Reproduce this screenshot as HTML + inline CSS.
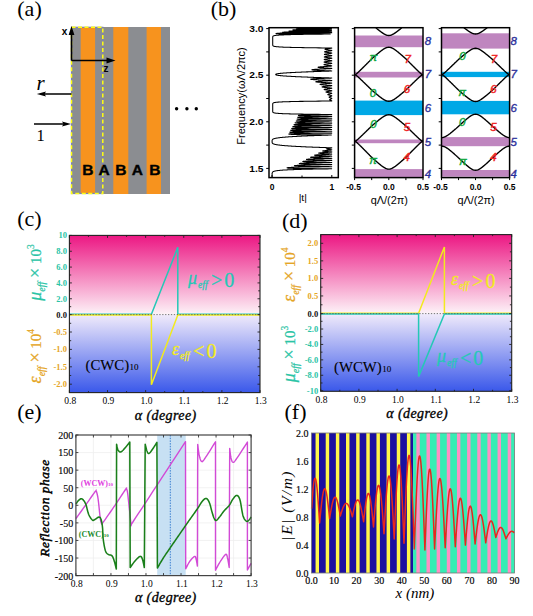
<!DOCTYPE html>
<html><head><meta charset="utf-8"><style>
html,body{margin:0;padding:0;background:#fff;}
svg{display:block;}
</style></head><body>
<svg width="533" height="616" viewBox="0 0 533 616">
<rect width="533" height="616" fill="#fff"/>
<defs>
<linearGradient id="gup" x1="0" y1="0" x2="0" y2="1"><stop offset="0" stop-color="#ec1783"/><stop offset="1" stop-color="#fdf3f8"/></linearGradient>
<linearGradient id="gdn" x1="0" y1="0" x2="0" y2="1"><stop offset="0" stop-color="#f1ebfb"/><stop offset="1" stop-color="#3a58ea"/></linearGradient>
</defs>
<text x="17.3" y="15.8" font-family='"Liberation Serif", serif' font-size="22" fill="#000" font-weight="normal" font-style="normal" text-anchor="start" >(a)</text>
<rect x="71" y="27" width="99" height="167" fill="#8b8d91"/>
<rect x="80.7" y="27" width="14.40" height="167" fill="#f7931e"/>
<rect x="113.3" y="27" width="15.00" height="167" fill="#f7931e"/>
<rect x="146.6" y="27" width="14.40" height="167" fill="#f7931e"/>
<rect x="71.5" y="27.3" width="31.3" height="166.2" fill="none" stroke="#7d80b8" stroke-width="1.2"/>
<rect x="71.5" y="27.3" width="31.3" height="166.2" fill="none" stroke="#ffff10" stroke-width="1.5" stroke-dasharray="4,2.5"/>
<path d="M71.5,60.5 V32 M71.5,60.5 H108" stroke="#000" stroke-width="1.6" fill="none"/>
<path d="M71.5,26 L68.6,35 L74.4,35 Z" fill="#000"/>
<path d="M115.5,60.5 L106.5,57.6 L106.5,63.4 Z" fill="#000"/>
<text x="61.8" y="34.5" font-family='"Liberation Sans", sans-serif' font-size="10" fill="#000" font-weight="bold" font-style="normal" text-anchor="start" >x</text>
<text x="103.5" y="71.5" font-family='"Liberation Sans", sans-serif' font-size="10" fill="#000" font-weight="bold" font-style="normal" text-anchor="start" >z</text>
<path d="M71.5,94 H44" stroke="#000" stroke-width="1.5"/>
<path d="M36.8,94 L46,91.5 L44.5,94 L46,96.5 Z" fill="#000"/>
<path d="M34,124 H64" stroke="#000" stroke-width="1.5"/>
<path d="M71,124 L62,121.5 L63.5,124 L62,126.5 Z" fill="#000"/>
<text x="36.5" y="89.5" font-family='"Liberation Serif", serif' font-size="21" fill="#000" font-weight="normal" font-style="italic" text-anchor="start" >r</text>
<text x="36.5" y="140.6" font-family='"Liberation Serif", serif' font-size="16.5" fill="#000" font-weight="normal" font-style="normal" text-anchor="start" >1</text>
<text x="87.9" y="174.5" font-family='"Liberation Sans", sans-serif' font-size="15.5" fill="#000" font-weight="bold" font-style="normal" text-anchor="middle" stroke="#000" stroke-width="0.4">B</text>
<text x="104.2" y="174.5" font-family='"Liberation Sans", sans-serif' font-size="15.5" fill="#000" font-weight="bold" font-style="normal" text-anchor="middle" stroke="#000" stroke-width="0.4">A</text>
<text x="120.8" y="174.5" font-family='"Liberation Sans", sans-serif' font-size="15.5" fill="#000" font-weight="bold" font-style="normal" text-anchor="middle" stroke="#000" stroke-width="0.4">B</text>
<text x="137.4" y="174.5" font-family='"Liberation Sans", sans-serif' font-size="15.5" fill="#000" font-weight="bold" font-style="normal" text-anchor="middle" stroke="#000" stroke-width="0.4">A</text>
<text x="154.8" y="174.5" font-family='"Liberation Sans", sans-serif' font-size="15.5" fill="#000" font-weight="bold" font-style="normal" text-anchor="middle" stroke="#000" stroke-width="0.4">B</text>
<circle cx="176.6" cy="108.7" r="1.7" fill="#000"/>
<circle cx="186.9" cy="108.7" r="1.7" fill="#000"/>
<circle cx="196.3" cy="108.7" r="1.7" fill="#000"/>
<text x="210.8" y="16.3" font-family='"Liberation Serif", serif' font-size="22" fill="#000" font-weight="normal" font-style="normal" text-anchor="start" >(b)</text>
<text transform="translate(263.5,31.699999999999996) scale(1.2,1)" font-family='"Liberation Sans", sans-serif' font-size="8.5" fill="#000" font-weight="bold" font-style="normal" text-anchor="end" >3.0</text>
<text transform="translate(263.5,78.29999999999998) scale(1.2,1)" font-family='"Liberation Sans", sans-serif' font-size="8.5" fill="#000" font-weight="bold" font-style="normal" text-anchor="end" >2.5</text>
<text transform="translate(263.5,124.89999999999999) scale(1.2,1)" font-family='"Liberation Sans", sans-serif' font-size="8.5" fill="#000" font-weight="bold" font-style="normal" text-anchor="end" >2.0</text>
<text transform="translate(263.5,171.5) scale(1.2,1)" font-family='"Liberation Sans", sans-serif' font-size="8.5" fill="#000" font-weight="bold" font-style="normal" text-anchor="end" >1.5</text>
<text transform="translate(244.5,96) rotate(-90)" font-family='"Liberation Sans", sans-serif' font-size="11" text-anchor="middle">Frequency(ωΛ/2πc)</text>
<polyline points="299.96,27.70 300.79,27.74 301.91,27.77 303.34,27.81 305.15,27.85 307.39,27.89 310.11,27.92 313.38,27.96 317.18,28.00 321.35,28.04 325.63,28.07 329.35,28.11 331.55,28.15 331.42,28.19 328.94,28.22 324.91,28.26 320.30,28.30 315.82,28.34 311.83,28.37 308.42,28.41 305.57,28.45 303.24,28.49 301.34,28.52 299.82,28.56 298.62,28.60 297.70,28.64 297.03,28.67 296.60,28.71 296.38,28.75 296.36,28.79 296.57,28.82 296.99,28.86 297.66,28.90 298.59,28.94 299.84,28.97 301.45,29.01 303.49,29.05 306.06,29.09 309.26,29.12 313.18,29.16 317.83,29.20 322.98,29.24 327.91,29.27 331.23,29.31 331.48,29.35 328.44,29.39 323.38,29.42 317.83,29.46 312.71,29.50 308.36,29.54 304.78,29.57 301.89,29.61 299.56,29.65 297.70,29.69 296.23,29.72 295.07,29.76 294.19,29.80 293.54,29.84 293.11,29.87 292.87,29.91 292.83,29.95 292.98,29.99 293.33,30.02 293.89,30.06 294.70,30.10 295.80,30.14 297.23,30.17 299.09,30.21 301.48,30.25 304.54,30.29 308.45,30.32 313.37,30.36 319.30,30.40 325.63,30.44 330.58,30.47 331.56,30.51 327.78,30.55 321.36,30.59 314.72,30.62 309.00,30.66 304.40,30.70 300.77,30.74 297.92,30.77 295.68,30.81 293.92,30.85 292.54,30.89 291.46,30.92 290.64,30.96 290.03,31.00 289.53,31.04 289.20,31.07 289.03,31.11 289.03,31.15 289.20,31.19 289.54,31.22 290.09,31.26 290.88,31.30 291.94,31.34 293.37,31.37 295.27,31.41 297.81,31.45 301.24,31.49 305.90,31.52 312.25,31.56 320.43,31.60 328.74,31.64 331.64,31.67 325.68,31.71 316.06,31.75 307.59,31.79 301.22,31.82 296.58,31.86 293.15,31.90 290.57,31.94 288.60,31.97 287.08,32.01 285.88,32.05 284.94,32.09 284.20,32.12 283.63,32.16 283.20,32.20 282.89,32.24 282.70,32.27 282.62,32.31 282.65,32.35 282.79,32.39 283.06,32.42 283.48,32.46 284.08,32.50 284.91,32.54 286.06,32.57 287.65,32.61 289.91,32.65 293.25,32.69 298.47,32.72 307.14,32.76 321.29,32.80 331.75,32.84 318.57,32.87 303.54,32.91 294.58,32.95 289.21,32.99 285.75,33.02 283.38,33.06 281.68,33.10 280.41,33.14 279.43,33.17 278.66,33.21 278.05,33.25 277.56,33.29 277.16,33.32 276.84,33.36 276.58,33.40 276.38,33.44 276.22,33.47 276.11,33.51 276.04,33.55 276.01,33.59 276.03,33.62 276.10,33.66 276.24,33.70 276.45,33.73 276.78,33.77 277.28,33.81 278.07,33.85 279.42,33.88 282.09,33.92 289.46,33.96 330.22,34.00 328.20,34.03 324.55,34.07 321.11,34.11 317.87,34.15 314.82,34.18 311.96,34.22 309.27,34.26 306.74,34.30 304.37,34.33 302.14,34.37 300.06,34.41 298.10,34.45 296.27,34.48 294.56,34.52 292.96,34.56 291.47,34.60 290.07,34.63 288.77,34.67 287.56,34.71 286.42,34.75 285.37,34.78 284.39,34.82 283.48,34.86 282.63,34.90 281.84,34.93 281.11,34.97 280.43,35.01 279.80,35.05 279.22,35.08 278.68,35.12 278.18,35.16 277.72,35.20 277.29,35.23 276.90,35.27 276.54,35.31 276.21,35.35 275.90,35.38 275.62,35.42 275.36,35.46 275.12,35.50 274.90,35.53 274.70,35.57 274.51,35.61 274.35,35.65 274.19,35.68 274.05,35.72 273.92,35.76 273.80,35.80 273.70,35.83 273.60,35.87 273.51,35.91 273.43,35.95 273.36,35.98 273.29,36.02 273.23,36.06 273.18,36.10 273.13,36.13 273.08,36.17 273.04,36.21 273.01,36.25 272.97,36.28 272.95,36.32 272.92,36.36 272.90,36.40 272.87,36.43 272.86,36.47 272.84,36.51 272.82,36.55 272.81,36.58 272.80,36.62 272.79,36.66 272.78,36.70 272.77,36.73 272.76,36.77 272.75,36.81 272.75,36.85 272.74,36.88 272.74,36.92 272.73,36.96 272.73,37.00 272.73,37.03 272.72,37.07 272.72,37.11 272.72,37.15 272.72,37.18 272.72,37.22 272.71,37.26 272.71,37.30 272.71,37.33 272.71,37.37 272.71,37.41 272.71,37.45 272.71,37.48 272.71,37.52 272.71,37.56 272.71,37.60 272.71,37.63 272.71,37.67 272.71,37.71 272.71,37.75 272.71,37.78 272.71,37.82 272.71,37.86 272.71,37.90 272.71,37.93 272.71,37.97 272.71,38.01 272.71,38.05 272.71,38.08 272.71,38.12 272.71,38.16 272.71,38.20 272.71,38.23 272.71,38.27 272.71,38.31 272.71,38.35 272.71,38.38 272.71,38.42 272.71,38.46 272.71,38.50 272.71,38.53 272.71,38.57 272.71,38.61 272.71,38.65 272.71,38.68 272.71,38.72 272.71,38.76 272.71,38.80 272.71,38.83 272.71,38.87 272.71,38.91 272.71,38.95 272.71,38.98 272.71,39.02 272.71,39.06 272.71,39.10 272.71,39.13 272.71,39.17 272.71,39.21 272.71,39.25 272.71,39.28 272.71,39.32 272.71,39.36 272.71,39.40 272.71,39.43 272.71,39.47 272.71,39.51 272.71,39.55 272.71,39.58 272.71,39.62 272.71,39.66 272.71,39.69 272.71,39.73 272.71,39.77 272.71,39.81 272.71,39.84 272.71,39.88 272.71,39.92 272.71,39.96 272.71,39.99 272.71,40.03 272.71,40.07 272.71,40.11 272.71,40.14 272.71,40.18 272.71,40.22 272.71,40.26 272.71,40.29 272.71,40.33 272.71,40.37 272.71,40.41 272.71,40.44 272.71,40.48 272.71,40.52 272.71,40.56 272.71,40.59 272.71,40.63 272.71,40.67 272.71,40.71 272.71,40.74 272.71,40.78 272.71,40.82 272.71,40.86 272.71,40.89 272.71,40.93 272.71,40.97 272.71,41.01 272.71,41.04 272.71,41.08 272.71,41.12 272.71,41.16 272.71,41.19 272.71,41.23 272.71,41.27 272.71,41.31 272.71,41.34 272.71,41.38 272.71,41.42 272.71,41.46 272.71,41.49 272.71,41.53 272.71,41.57 272.71,41.61 272.71,41.64 272.71,41.68 272.71,41.72 272.71,41.76 272.71,41.79 272.71,41.83 272.71,41.87 272.71,41.91 272.71,41.94 272.71,41.98 272.71,42.02 272.71,42.06 272.71,42.09 272.71,42.13 272.71,42.17 272.71,42.21 272.71,42.24 272.71,42.28 272.71,42.32 272.71,42.36 272.71,42.39 272.71,42.43 272.71,42.47 272.71,42.51 272.71,42.54 272.71,42.58 272.71,42.62 272.71,42.66 272.71,42.69 272.71,42.73 272.71,42.77 272.71,42.81 272.71,42.84 272.71,42.88 272.71,42.92 272.71,42.96 272.71,42.99 272.71,43.03 272.71,43.07 272.71,43.11 272.71,43.14 272.71,43.18 272.71,43.22 272.71,43.26 272.71,43.29 272.71,43.33 272.71,43.37 272.71,43.41 272.71,43.44 272.71,43.48 272.71,43.52 272.71,43.56 272.71,43.59 272.71,43.63 272.71,43.67 272.71,43.71 272.71,43.74 272.71,43.78 272.71,43.82 272.71,43.86 272.71,43.89 272.71,43.93 272.71,43.97 272.71,44.01 272.71,44.04 272.71,44.08 272.71,44.12 272.71,44.16 272.71,44.19 272.71,44.23 272.71,44.27 272.71,44.31 272.71,44.34 272.71,44.38 272.71,44.42 272.71,44.46 272.71,44.49 272.71,44.53 272.71,44.57 272.71,44.61 272.71,44.64 272.71,44.68 272.71,44.72 272.72,44.76 272.72,44.79 272.72,44.83 272.72,44.87 272.72,44.91 272.73,44.94 272.73,44.98 272.73,45.02 272.74,45.06 272.74,45.09 272.74,45.13 272.75,45.17 272.76,45.21 272.76,45.24 272.77,45.28 272.78,45.32 272.79,45.36 272.80,45.39 272.81,45.43 272.83,45.47 272.84,45.51 272.86,45.54 272.88,45.58 272.90,45.62 272.93,45.66 272.96,45.69 272.99,45.73 273.02,45.77 273.06,45.80 273.10,45.84 273.15,45.88 273.20,45.92 273.25,45.95 273.32,45.99 273.38,46.03 273.46,46.07 273.54,46.10 273.64,46.14 273.74,46.18 273.85,46.22 273.97,46.25 274.10,46.29 274.25,46.33 274.41,46.37 274.58,46.40 274.77,46.44 274.98,46.48 275.20,46.52 275.45,46.55 275.72,46.59 276.01,46.63 276.33,46.67 276.67,46.70 277.04,46.74 277.45,46.78 277.89,46.82 278.36,46.85 278.87,46.89 279.43,46.93 280.03,46.97 280.67,47.00 281.37,47.04 282.12,47.08 282.93,47.12 283.81,47.15 284.74,47.19 285.75,47.23 286.83,47.27 288.00,47.30 289.24,47.34 290.58,47.38 292.01,47.42 293.55,47.45 295.19,47.49 296.94,47.53 298.81,47.57 300.81,47.60 302.95,47.64 305.23,47.68 307.66,47.72 310.24,47.75 313.00,47.79 315.93,47.83 319.05,47.87 322.36,47.90 325.88,47.94 329.61,47.98 331.80,48.02 331.77,48.05 331.71,48.09 331.62,48.13 331.50,48.17 331.36,48.20 331.19,48.24 330.99,48.28 330.77,48.32 330.53,48.35 330.28,48.39 330.00,48.43 329.72,48.47 329.42,48.50 329.12,48.54 328.82,48.58 328.51,48.62 328.20,48.65 327.90,48.69 327.60,48.73 327.31,48.77 327.03,48.80 326.76,48.84 326.51,48.88 326.27,48.92 326.05,48.95 325.85,48.99 325.67,49.03 325.50,49.07 325.36,49.10 325.24,49.14 325.14,49.18 325.07,49.22 325.02,49.25 324.99,49.29 324.99,49.33 325.01,49.37 325.06,49.40 325.13,49.44 325.23,49.48 325.34,49.52 325.49,49.55 325.65,49.59 325.84,49.63 326.04,49.67 326.27,49.70 326.52,49.74 326.78,49.78 327.06,49.82 327.35,49.85 327.65,49.89 327.96,49.93 328.28,49.97 328.61,50.00 328.94,50.04 329.27,50.08 329.60,50.12 329.91,50.15 330.21,50.19 330.49,50.23 330.76,50.27 331.00,50.30 331.21,50.34 331.39,50.38 331.54,50.42 331.66,50.45 331.74,50.49 331.79,50.53 331.80,50.57 331.77,50.60 331.70,50.64 331.60,50.68 331.47,50.72 331.30,50.75 331.10,50.79 330.87,50.83 330.62,50.87 330.34,50.90 330.05,50.94 329.74,50.98 329.41,51.02 329.08,51.05 328.75,51.09 328.41,51.13 328.07,51.17 327.73,51.20 327.41,51.24 327.09,51.28 326.78,51.32 326.48,51.35 326.20,51.39 325.94,51.43 325.70,51.47 325.47,51.50 325.27,51.54 325.09,51.58 324.93,51.62 324.79,51.65 324.68,51.69 324.60,51.73 324.54,51.76 324.50,51.80 324.49,51.84 324.51,51.88 324.55,51.91 324.61,51.95 324.71,51.99 324.82,52.03 324.96,52.06 325.13,52.10 325.32,52.14 325.52,52.18 325.75,52.21 326.00,52.25 326.27,52.29 326.56,52.33 326.86,52.36 327.17,52.40 327.49,52.44 327.82,52.48 328.16,52.51 328.50,52.55 328.84,52.59 329.17,52.63 329.50,52.66 329.82,52.70 330.13,52.74 330.42,52.78 330.69,52.81 330.94,52.85 331.16,52.89 331.35,52.93 331.51,52.96 331.64,53.00 331.73,53.04 331.78,53.08 331.80,53.11 331.78,53.15 331.72,53.19 331.62,53.23 331.49,53.26 331.32,53.30 331.12,53.34 330.90,53.38 330.64,53.41 330.37,53.45 330.07,53.49 329.76,53.53 329.43,53.56 329.10,53.60 328.76,53.64 328.41,53.68 328.07,53.71 327.73,53.75 327.40,53.79 327.07,53.83 326.76,53.86 326.46,53.90 326.17,53.94 325.90,53.98 325.65,54.01 325.42,54.05 325.21,54.09 325.02,54.13 324.86,54.16 324.72,54.20 324.60,54.24 324.51,54.28 324.44,54.31 324.40,54.35 324.39,54.39 324.40,54.43 324.44,54.46 324.50,54.50 324.59,54.54 324.70,54.58 324.84,54.61 325.00,54.65 325.19,54.69 325.39,54.73 325.62,54.76 325.87,54.80 326.14,54.84 326.43,54.88 326.73,54.91 327.04,54.95 327.37,54.99 327.70,55.03 328.04,55.06 328.38,55.10 328.73,55.14 329.07,55.18 329.41,55.21 329.74,55.25 330.05,55.29 330.35,55.33 330.63,55.36 330.88,55.40 331.11,55.44 331.31,55.48 331.48,55.51 331.62,55.55 331.72,55.59 331.78,55.63 331.80,55.66 331.78,55.70 331.73,55.74 331.64,55.78 331.51,55.81 331.35,55.85 331.15,55.89 330.92,55.93 330.67,55.96 330.39,56.00 330.10,56.04 329.78,56.08 329.45,56.11 329.12,56.15 328.77,56.19 328.42,56.23 328.08,56.26 327.73,56.30 327.39,56.34 327.06,56.38 326.74,56.41 326.43,56.45 326.14,56.49 325.86,56.53 325.60,56.56 325.37,56.60 325.15,56.64 324.96,56.68 324.79,56.71 324.64,56.75 324.52,56.79 324.42,56.83 324.35,56.86 324.30,56.90 324.29,56.94 324.29,56.98 324.33,57.01 324.38,57.05 324.47,57.09 324.58,57.13 324.72,57.16 324.88,57.20 325.06,57.24 325.26,57.28 325.49,57.31 325.74,57.35 326.01,57.39 326.30,57.43 326.60,57.46 326.91,57.50 327.24,57.54 327.58,57.58 327.92,57.61 328.27,57.65 328.62,57.69 328.97,57.72 329.31,57.76 329.65,57.80 329.97,57.84 330.27,57.87 330.56,57.91 330.82,57.95 331.06,57.99 331.27,58.02 331.45,58.06 331.59,58.10 331.70,58.14 331.77,58.17 331.80,58.21 331.79,58.25 331.74,58.29 331.65,58.32 331.53,58.36 331.37,58.40 331.18,58.44 330.95,58.47 330.70,58.51 330.42,58.55 330.12,58.59 329.81,58.62 329.48,58.66 329.14,58.70 328.79,58.74 328.43,58.77 328.08,58.81 327.73,58.85 327.38,58.89 327.05,58.92 326.72,58.96 326.41,59.00 326.11,59.04 325.83,59.07 325.56,59.11 325.32,59.15 325.10,59.19 324.90,59.22 324.72,59.26 324.57,59.30 324.44,59.34 324.34,59.37 324.26,59.41 324.21,59.45 324.18,59.49 324.19,59.52 324.22,59.56 324.27,59.60 324.35,59.64 324.46,59.67 324.59,59.71 324.75,59.75 324.93,59.79 325.13,59.82 325.36,59.86 325.61,59.90 325.88,59.94 326.16,59.97 326.47,60.01 326.78,60.05 327.11,60.09 327.45,60.12 327.80,60.16 328.15,60.20 328.51,60.24 328.86,60.27 329.21,60.31 329.55,60.35 329.88,60.39 330.20,60.42 330.49,60.46 330.76,60.50 331.01,60.54 331.23,60.57 331.41,60.61 331.57,60.65 331.68,60.69 331.76,60.72 331.80,60.76 331.79,60.80 331.75,60.84 331.67,60.87 331.55,60.91 331.39,60.95 331.20,60.99 330.98,61.02 330.73,61.06 330.45,61.10 330.15,61.14 329.83,61.17 329.50,61.21 329.16,61.25 328.80,61.29 328.45,61.32 328.09,61.36 327.73,61.40 327.38,61.44 327.04,61.47 326.70,61.51 326.38,61.55 326.08,61.59 325.79,61.62 325.52,61.66 325.27,61.70 325.04,61.74 324.83,61.77 324.65,61.81 324.49,61.85 324.36,61.89 324.25,61.92 324.17,61.96 324.11,62.00 324.08,62.04 324.08,62.07 324.11,62.11 324.16,62.15 324.23,62.19 324.34,62.22 324.47,62.26 324.62,62.30 324.80,62.34 325.00,62.37 325.23,62.41 325.48,62.45 325.74,62.49 326.03,62.52 326.33,62.56 326.65,62.60 326.99,62.64 327.33,62.67 327.68,62.71 328.04,62.75 328.40,62.79 328.75,62.82 329.11,62.86 329.46,62.90 329.79,62.94 330.12,62.97 330.42,63.01 330.70,63.05 330.96,63.09 331.18,63.12 331.38,63.16 331.54,63.20 331.66,63.24 331.75,63.27 331.79,63.31 331.80,63.35 331.76,63.39 331.69,63.42 331.57,63.46 331.42,63.50 331.23,63.54 331.01,63.57 330.76,63.61 330.48,63.65 330.18,63.68 329.86,63.72 329.53,63.76 329.18,63.80 328.82,63.83 328.46,63.87 328.10,63.91 327.74,63.95 327.38,63.98 327.03,64.02 326.69,64.06 326.36,64.10 326.05,64.13 325.76,64.17 325.48,64.21 325.22,64.25 324.99,64.28 324.77,64.32 324.59,64.36 324.42,64.40 324.28,64.43 324.17,64.47 324.08,64.51 324.02,64.55 323.98,64.58 323.98,64.62 324.00,64.66 324.04,64.70 324.12,64.73 324.22,64.77 324.34,64.81 324.50,64.85 324.67,64.88 324.87,64.92 325.10,64.96 325.34,65.00 325.54,65.03 325.74,65.07 325.98,65.11 326.24,65.15 326.52,65.18 326.82,65.22 327.14,65.26 327.47,65.30 327.82,65.33 328.18,65.37 328.55,65.41 328.92,65.45 329.29,65.48 329.65,65.52 330.00,65.56 330.34,65.60 330.65,65.63 330.94,65.67 331.20,65.71 331.41,65.75 331.58,65.78 331.71,65.82 331.78,65.86 331.80,65.90 331.76,65.93 331.66,65.97 331.50,66.01 331.27,66.05 330.99,66.08 330.66,66.12 330.27,66.16 329.84,66.20 329.36,66.23 328.85,66.27 328.31,66.31 327.74,66.35 327.15,66.38 326.55,66.42 325.94,66.46 325.33,66.50 324.73,66.53 324.13,66.57 323.54,66.61 322.97,66.65 322.42,66.68 321.90,66.72 321.40,66.76 320.92,66.80 320.48,66.83 320.07,66.87 319.69,66.91 319.35,66.95 319.04,66.98 318.78,67.02 318.56,67.06 318.37,67.10 318.23,67.13 318.12,67.17 318.06,67.21 318.03,67.25 318.05,67.28 318.10,67.32 318.20,67.36 318.34,67.40 318.52,67.43 318.74,67.47 319.01,67.51 319.32,67.55 319.67,67.58 320.06,67.62 320.49,67.66 320.97,67.70 321.48,67.73 322.03,67.77 322.61,67.81 323.23,67.85 323.88,67.88 324.55,67.92 325.24,67.96 325.94,68.00 326.65,68.03 327.36,68.07 328.06,68.11 328.73,68.15 329.36,68.18 329.95,68.22 330.48,68.26 330.93,68.30 331.30,68.33 331.58,68.37 331.75,68.41 331.80,68.45 331.74,68.48 331.56,68.52 331.26,68.56 330.85,68.60 330.33,68.63 329.72,68.67 329.03,68.71 328.26,68.75 327.44,68.78 326.58,68.82 325.68,68.86 324.76,68.90 323.84,68.93 322.92,68.97 322.01,69.01 321.12,69.05 320.26,69.08 319.43,69.12 318.63,69.16 317.87,69.20 317.15,69.23 316.47,69.27 315.84,69.31 315.26,69.35 314.72,69.38 314.22,69.42 313.78,69.46 313.38,69.50 313.03,69.53 312.72,69.57 312.47,69.61 312.25,69.65 312.09,69.68 311.97,69.72 311.90,69.76 311.88,69.79 311.91,69.83 311.98,69.87 312.10,69.91 312.28,69.94 312.50,69.98 312.75,70.02 313.03,70.06 313.37,70.09 313.75,70.13 314.20,70.17 314.70,70.21 315.26,70.24 315.88,70.28 316.56,70.32 317.30,70.36 318.10,70.39 318.96,70.43 319.87,70.47 320.84,70.51 321.85,70.54 322.89,70.58 323.97,70.62 325.06,70.66 326.15,70.69 327.22,70.73 328.24,70.77 329.19,70.81 330.04,70.84 330.75,70.88 331.30,70.92 331.65,70.96 331.80,70.99 330.84,71.03 329.71,71.07 328.59,71.11 327.47,71.14 326.36,71.18 325.25,71.22 324.15,71.26 323.06,71.29 321.97,71.33 320.89,71.37 319.82,71.41 318.75,71.44 317.69,71.48 316.64,71.52 315.60,71.56 314.57,71.59 313.55,71.63 312.54,71.67 311.53,71.71 310.54,71.74 309.56,71.78 308.58,71.82 307.62,71.86 306.67,71.89 305.74,71.93 304.81,71.97 303.90,72.01 302.99,72.04 302.10,72.08 301.23,72.12 300.36,72.16 299.51,72.19 298.68,72.23 297.85,72.27 297.04,72.31 296.25,72.34 295.47,72.38 294.70,72.42 293.95,72.46 293.21,72.49 292.49,72.53 291.78,72.57 291.08,72.61 290.41,72.64 289.74,72.68 289.10,72.72 288.47,72.76 287.85,72.79 287.25,72.83 286.67,72.87 286.10,72.91 285.54,72.94 285.01,72.98 284.49,73.02 283.98,73.06 283.49,73.09 283.02,73.13 282.57,73.17 282.12,73.21 281.70,73.24 281.29,73.28 280.90,73.32 280.52,73.36 280.16,73.39 279.81,73.43 279.48,73.47 279.17,73.51 278.87,73.54 278.59,73.58 278.32,73.62 278.06,73.66 277.82,73.69 277.60,73.73 277.39,73.77 277.19,73.81 277.01,73.84 276.84,73.88 276.69,73.92 276.54,73.96 276.42,73.99 276.30,74.03 276.19,74.07 276.10,74.11 276.02,74.14 275.95,74.18 275.89,74.22 275.84,74.26 275.80,74.29 275.77,74.33 275.75,74.37 275.73,74.41 275.72,74.44 275.72,74.48 275.72,74.52 275.72,74.56 275.73,74.59 275.75,74.63 275.77,74.67 275.80,74.71 275.84,74.74 275.89,74.78 275.95,74.82 276.02,74.86 276.10,74.89 276.19,74.93 276.29,74.97 276.41,75.01 276.54,75.04 276.68,75.08 276.84,75.12 277.00,75.16 277.19,75.19 277.38,75.23 277.59,75.27 277.81,75.31 278.05,75.34 278.31,75.38 278.58,75.42 278.86,75.46 279.16,75.49 279.47,75.53 279.80,75.57 280.15,75.61 280.51,75.64 280.88,75.68 281.27,75.72 281.68,75.75 282.11,75.79 282.55,75.83 283.00,75.87 283.47,75.90 283.96,75.94 284.47,75.98 284.99,76.02 285.52,76.05 286.07,76.09 286.64,76.13 287.23,76.17 287.83,76.20 288.44,76.24 289.07,76.28 289.72,76.32 290.38,76.35 291.06,76.39 291.75,76.43 292.46,76.47 293.18,76.50 293.92,76.54 294.67,76.58 295.43,76.62 296.22,76.65 297.01,76.69 297.82,76.73 298.64,76.77 299.48,76.80 300.33,76.84 301.19,76.88 302.07,76.92 302.96,76.95 303.86,76.99 304.77,77.03 305.70,77.07 306.64,77.10 307.58,77.14 308.55,77.18 309.52,77.22 310.50,77.25 311.49,77.29 312.49,77.33 313.51,77.37 314.53,77.40 315.56,77.44 316.60,77.48 317.65,77.52 318.71,77.55 319.77,77.59 320.85,77.63 321.93,77.67 323.01,77.70 324.11,77.74 325.21,77.78 326.31,77.82 327.43,77.85 328.54,77.89 329.66,77.93 330.79,77.97 331.80,78.00 331.66,78.04 331.31,78.08 330.76,78.12 330.04,78.15 329.18,78.19 328.21,78.23 327.15,78.27 326.04,78.30 324.91,78.34 323.76,78.38 322.63,78.42 321.52,78.45 320.45,78.49 319.42,78.53 318.45,78.57 317.53,78.60 316.67,78.64 315.87,78.68 315.13,78.72 314.45,78.75 313.84,78.79 313.28,78.83 312.77,78.87 312.33,78.90 311.94,78.94 311.60,78.98 311.32,79.02 311.09,79.05 310.91,79.09 310.79,79.13 310.71,79.17 310.68,79.20 310.70,79.24 310.76,79.28 310.88,79.32 311.04,79.35 311.25,79.39 311.51,79.43 311.82,79.47 312.18,79.50 312.58,79.54 313.03,79.58 313.54,79.62 314.09,79.65 314.69,79.69 315.34,79.73 316.03,79.77 316.78,79.80 317.57,79.84 318.40,79.88 319.27,79.92 320.18,79.95 321.12,79.99 322.07,80.03 323.03,80.07 324.01,80.10 324.99,80.14 325.96,80.18 326.90,80.22 327.80,80.25 328.64,80.29 329.42,80.33 330.11,80.37 330.69,80.40 331.16,80.44 331.51,80.48 331.72,80.52 331.80,80.55 331.74,80.59 331.55,80.63 331.24,80.67 330.81,80.70 330.29,80.74 329.67,80.78 328.99,80.82 328.26,80.85 327.48,80.89 326.68,80.93 325.86,80.97 325.04,81.00 324.23,81.04 323.44,81.08 322.67,81.12 321.92,81.15 321.22,81.19 320.54,81.23 319.91,81.27 319.32,81.30 318.78,81.34 318.28,81.38 317.82,81.42 317.41,81.45 317.05,81.49 316.73,81.53 316.46,81.57 316.23,81.60 316.05,81.64 315.92,81.68 315.82,81.71 315.78,81.75 315.77,81.79 315.81,81.83 315.89,81.86 316.02,81.90 316.19,81.94 316.40,81.98 316.65,82.01 316.95,82.05 317.28,82.09 317.66,82.13 318.08,82.16 318.53,82.20 319.03,82.24 319.56,82.28 320.13,82.31 320.73,82.35 321.36,82.39 322.02,82.43 322.71,82.46 323.41,82.50 324.13,82.54 324.86,82.58 325.59,82.61 326.32,82.65 327.04,82.69 327.74,82.73 328.41,82.76 329.04,82.80 329.63,82.84 330.16,82.88 330.63,82.91 331.03,82.95 331.34,82.99 331.58,83.03 331.73,83.06 331.80,83.10 331.78,83.14 331.67,83.18 331.48,83.21 331.22,83.25 330.90,83.29 330.51,83.33 330.07,83.36 329.59,83.40 329.07,83.44 328.53,83.48 327.97,83.51 327.40,83.55 326.82,83.59 326.25,83.63 325.69,83.66 325.14,83.70 324.62,83.74 324.11,83.78 323.63,83.81 323.17,83.85 322.75,83.89 322.36,83.93 322.00,83.96 321.68,84.00 321.35,84.04 321.06,84.08 320.81,84.11 320.59,84.15 320.41,84.19 320.26,84.23 320.15,84.26 320.08,84.30 320.04,84.34 320.04,84.38 320.08,84.41 320.15,84.45 320.26,84.49 320.40,84.53 320.58,84.56 320.80,84.60 321.04,84.64 321.32,84.68 321.64,84.71 321.98,84.75 322.36,84.79 322.76,84.83 323.19,84.86 323.64,84.90 324.12,84.94 324.61,84.98 325.13,85.01 325.65,85.05 326.19,85.09 326.72,85.13 327.26,85.16 327.80,85.20 328.32,85.24 328.83,85.28 329.31,85.31 329.77,85.35 330.20,85.39 330.58,85.43 330.92,85.46 331.21,85.50 331.44,85.54 331.62,85.58 331.74,85.61 331.79,85.65 331.79,85.69 331.72,85.73 331.60,85.76 331.42,85.80 331.19,85.84 330.91,85.88 330.58,85.91 330.22,85.95 329.83,85.99 329.41,86.03 328.97,86.06 328.51,86.10 328.05,86.14 327.58,86.18 327.11,86.21 326.65,86.25 326.20,86.29 325.76,86.33 325.33,86.36 324.93,86.40 324.54,86.44 324.18,86.48 323.85,86.51 323.54,86.55 323.26,86.59 323.00,86.63 322.78,86.66 322.59,86.70 322.43,86.74 322.30,86.78 322.20,86.81 322.13,86.85 322.10,86.89 322.10,86.93 322.13,86.96 322.19,87.00 322.28,87.04 322.40,87.08 322.56,87.11 322.74,87.15 322.95,87.19 323.20,87.23 323.46,87.26 323.76,87.30 324.08,87.34 324.42,87.38 324.78,87.41 325.17,87.45 325.57,87.49 325.98,87.53 326.41,87.56 326.84,87.60 327.28,87.64 327.72,87.67 328.16,87.71 328.59,87.75 329.01,87.79 329.42,87.82 329.81,87.86 330.17,87.90 330.51,87.94 330.81,87.97 331.08,88.01 331.31,88.05 331.50,88.09 331.64,88.12 331.74,88.16 331.79,88.20 331.80,88.24 331.75,88.27 331.67,88.31 331.54,88.35 331.37,88.39 331.16,88.42 330.92,88.46 330.65,88.50 330.35,88.54 330.03,88.57 329.69,88.61 329.34,88.65 328.98,88.69 328.61,88.72 328.24,88.76 327.87,88.80 327.51,88.84 327.16,88.87 326.81,88.91 326.49,88.95 326.17,88.99 325.88,89.02 325.60,89.06 325.34,89.10 325.11,89.14 324.90,89.17 324.72,89.21 324.56,89.25 324.42,89.29 324.31,89.32 324.23,89.36 324.18,89.40 324.15,89.44 324.15,89.47 324.17,89.51 324.22,89.55 324.30,89.59 324.41,89.62 324.53,89.66 324.69,89.70 324.86,89.74 325.06,89.77 325.28,89.81 325.53,89.85 325.79,89.89 326.06,89.92 326.36,89.96 326.67,90.00 326.98,90.04 327.31,90.07 327.65,90.11 327.99,90.15 328.33,90.19 328.67,90.22 329.01,90.26 329.34,90.30 329.67,90.34 329.98,90.37 330.27,90.41 330.55,90.45 330.81,90.49 331.04,90.52 331.24,90.56 331.41,90.60 331.56,90.64 331.67,90.67 331.75,90.71 331.79,90.75 331.80,90.79 331.77,90.82 331.72,90.86 331.63,90.90 331.51,90.94 331.36,90.97 331.19,91.01 330.99,91.05 330.77,91.09 330.54,91.12 330.29,91.16 330.03,91.20 329.76,91.24 329.48,91.27 329.20,91.31 328.93,91.35 328.65,91.39 328.38,91.42 328.11,91.46 327.86,91.50 327.61,91.54 327.38,91.57 327.16,91.61 326.96,91.65 326.77,91.69 326.61,91.72 326.46,91.76 326.33,91.80 326.22,91.84 326.13,91.87 326.07,91.91 326.02,91.95 326.00,91.99 326.00,92.02 326.01,92.06 326.05,92.10 326.11,92.14 326.20,92.17 326.30,92.21 326.42,92.25 326.55,92.29 326.71,92.32 326.88,92.36 327.07,92.40 327.27,92.44 327.49,92.47 327.72,92.51 327.95,92.55 328.20,92.59 328.45,92.62 328.71,92.66 328.97,92.70 329.23,92.74 329.49,92.77 329.74,92.81 329.99,92.85 330.23,92.89 330.46,92.92 330.68,92.96 330.88,93.00 331.07,93.04 331.23,93.07 331.38,93.11 331.51,93.15 331.61,93.19 331.70,93.22 331.75,93.26 331.79,93.30 331.80,93.34 331.79,93.37 331.75,93.41 331.69,93.45 331.61,93.49 331.52,93.52 331.40,93.56 331.27,93.60 331.12,93.64 330.96,93.67 330.79,93.71 330.60,93.75 330.42,93.78 330.23,93.82 330.03,93.86 329.84,93.90 329.64,93.93 329.45,93.97 329.26,94.01 329.08,94.05 328.91,94.08 328.75,94.12 328.59,94.16 328.45,94.20 328.32,94.23 328.20,94.27 328.10,94.31 328.01,94.35 327.93,94.38 327.87,94.42 327.83,94.46 327.80,94.50 327.79,94.53 327.79,94.57 327.81,94.61 327.84,94.65 327.89,94.68 327.95,94.72 328.03,94.76 328.12,94.80 328.22,94.83 328.34,94.87 328.46,94.91 328.60,94.95 328.75,94.98 328.90,95.02 329.06,95.06 329.23,95.10 329.40,95.13 329.58,95.17 329.76,95.21 329.93,95.25 330.11,95.28 330.28,95.32 330.45,95.36 330.62,95.40 330.78,95.43 330.93,95.47 331.07,95.51 331.20,95.55 331.32,95.58 331.43,95.62 331.53,95.66 331.61,95.70 331.68,95.73 331.73,95.77 331.77,95.81 331.79,95.85 331.80,95.88 331.79,95.92 331.78,95.96 331.74,96.00 331.70,96.03 331.64,96.07 331.57,96.11 331.49,96.15 331.40,96.18 331.30,96.22 331.19,96.26 331.08,96.30 330.96,96.33 330.84,96.37 330.71,96.41 330.58,96.45 330.45,96.48 330.33,96.52 330.20,96.56 330.07,96.60 329.95,96.63 329.84,96.67 329.72,96.71 329.62,96.75 329.52,96.78 329.43,96.82 329.35,96.86 329.28,96.90 329.22,96.93 329.17,96.97 329.12,97.01 329.09,97.05 329.07,97.08 329.06,97.12 329.06,97.16 329.08,97.20 329.10,97.23 329.13,97.27 329.18,97.31 329.23,97.35 329.29,97.38 329.37,97.42 329.45,97.46 329.53,97.50 329.63,97.53 329.73,97.57 329.84,97.61 329.95,97.65 330.07,97.68 330.19,97.72 330.31,97.76 330.44,97.80 330.56,97.83 330.68,97.87 330.80,97.91 330.92,97.95 331.03,97.98 331.14,98.02 331.25,98.06 331.34,98.10 331.43,98.13 331.51,98.17 331.58,98.21 331.65,98.25 331.70,98.28 331.74,98.32 331.77,98.36 331.79,98.40 331.80,98.43 331.80,98.47 331.78,98.51 331.76,98.55 331.73,98.58 331.68,98.62 331.63,98.66 331.57,98.70 331.50,98.73 331.42,98.77 331.34,98.81 331.25,98.85 331.16,98.88 331.07,98.92 330.97,98.96 330.87,99.00 330.77,99.03 330.67,99.07 330.57,99.11 330.47,99.15 330.37,99.18 330.28,99.22 330.20,99.26 330.11,99.30 330.04,99.33 329.97,99.37 329.90,99.41 329.85,99.45 329.80,99.48 329.76,99.52 329.73,99.56 329.70,99.60 329.69,99.63 329.68,99.67 329.68,99.71 329.69,99.74 329.71,99.78 329.73,99.82 329.77,99.86 329.81,99.89 329.86,99.93 329.92,99.97 329.98,100.01 330.05,100.04 330.13,100.08 330.21,100.12 330.29,100.16 330.38,100.19 330.47,100.23 330.56,100.27 330.66,100.31 330.75,100.34 330.85,100.38 330.94,100.42 331.03,100.46 331.12,100.49 331.21,100.53 331.29,100.57 331.37,100.61 331.45,100.64 331.51,100.68 331.58,100.72 331.63,100.76 331.68,100.79 331.72,100.83 331.75,100.87 331.78,100.91 331.79,100.94 331.80,100.98 329.70,101.02 325.82,101.06 322.18,101.09 318.76,101.13 315.55,101.17 312.54,101.21 309.71,101.24 307.07,101.28 304.59,101.32 302.27,101.36 300.10,101.39 298.07,101.43 296.18,101.47 294.42,101.51 292.77,101.54 291.24,101.58 289.81,101.62 288.48,101.66 287.24,101.69 286.09,101.73 285.02,101.77 284.03,101.81 283.11,101.84 282.26,101.88 281.47,101.92 280.74,101.96 280.06,101.99 279.44,102.03 278.87,102.07 278.33,102.11 277.85,102.14 277.39,102.18 276.98,102.22 276.60,102.26 276.25,102.29 275.93,102.33 275.63,102.37 275.36,102.41 275.11,102.44 274.89,102.48 274.68,102.52 274.49,102.56 274.32,102.59 274.16,102.63 274.02,102.67 273.89,102.71 273.77,102.74 273.66,102.78 273.57,102.82 273.48,102.86 273.40,102.89 273.32,102.93 273.26,102.97 273.20,103.01 273.15,103.04 273.10,103.08 273.06,103.12 273.02,103.16 272.98,103.19 272.95,103.23 272.92,103.27 272.90,103.31 272.88,103.34 272.86,103.38 272.84,103.42 272.82,103.46 272.81,103.49 272.80,103.53 272.78,103.57 272.78,103.61 272.77,103.64 272.76,103.68 272.75,103.72 272.75,103.76 272.74,103.79 272.74,103.83 272.73,103.87 272.73,103.91 272.73,103.94 272.72,103.98 272.72,104.02 272.72,104.06 272.72,104.09 272.72,104.13 272.71,104.17 272.71,104.21 272.71,104.24 272.71,104.28 272.71,104.32 272.71,104.36 272.71,104.39 272.71,104.43 272.71,104.47 272.71,104.51 272.71,104.54 272.71,104.58 272.71,104.62 272.71,104.66 272.71,104.69 272.71,104.73 272.71,104.77 272.71,104.81 272.71,104.84 272.71,104.88 272.71,104.92 272.71,104.96 272.71,104.99 272.71,105.03 272.71,105.07 272.71,105.11 272.71,105.14 272.71,105.18 272.71,105.22 272.71,105.26 272.71,105.29 272.71,105.33 272.71,105.37 272.71,105.41 272.71,105.44 272.71,105.48 272.71,105.52 272.71,105.56 272.71,105.59 272.71,105.63 272.71,105.67 272.71,105.70 272.71,105.74 272.71,105.78 272.71,105.82 272.71,105.85 272.71,105.89 272.71,105.93 272.71,105.97 272.71,106.00 272.71,106.04 272.71,106.08 272.71,106.12 272.71,106.15 272.71,106.19 272.71,106.23 272.71,106.27 272.71,106.30 272.71,106.34 272.71,106.38 272.71,106.42 272.71,106.45 272.71,106.49 272.71,106.53 272.71,106.57 272.71,106.60 272.71,106.64 272.71,106.68 272.71,106.72 272.71,106.75 272.71,106.79 272.71,106.83 272.71,106.87 272.71,106.90 272.71,106.94 272.71,106.98 272.71,107.02 272.71,107.05 272.71,107.09 272.71,107.13 272.71,107.17 272.71,107.20 272.71,107.24 272.71,107.28 272.71,107.32 272.71,107.35 272.71,107.39 272.71,107.43 272.71,107.47 272.71,107.50 272.71,107.54 272.71,107.58 272.71,107.62 272.71,107.65 272.71,107.69 272.71,107.73 272.71,107.77 272.71,107.80 272.71,107.84 272.71,107.88 272.71,107.92 272.71,107.95 272.71,107.99 272.71,108.03 272.71,108.07 272.71,108.10 272.71,108.14 272.71,108.18 272.71,108.22 272.71,108.25 272.71,108.29 272.71,108.33 272.71,108.37 272.71,108.40 272.71,108.44 272.71,108.48 272.71,108.52 272.71,108.55 272.71,108.59 272.71,108.63 272.71,108.67 272.71,108.70 272.71,108.74 272.71,108.78 272.71,108.82 272.71,108.85 272.71,108.89 272.71,108.93 272.71,108.97 272.71,109.00 272.71,109.04 272.71,109.08 272.71,109.12 272.71,109.15 272.71,109.19 272.71,109.23 272.71,109.27 272.71,109.30 272.71,109.34 272.71,109.38 272.71,109.42 272.71,109.45 272.71,109.49 272.71,109.53 272.71,109.57 272.71,109.60 272.71,109.64 272.71,109.68 272.71,109.72 272.71,109.75 272.71,109.79 272.71,109.83 272.71,109.87 272.71,109.90 272.71,109.94 272.71,109.98 272.71,110.02 272.71,110.05 272.71,110.09 272.71,110.13 272.71,110.17 272.71,110.20 272.71,110.24 272.71,110.28 272.71,110.32 272.71,110.35 272.71,110.39 272.71,110.43 272.71,110.47 272.71,110.50 272.71,110.54 272.71,110.58 272.71,110.62 272.71,110.65 272.71,110.69 272.71,110.73 272.71,110.77 272.71,110.80 272.71,110.84 272.71,110.88 272.71,110.92 272.71,110.95 272.71,110.99 272.71,111.03 272.71,111.07 272.71,111.10 272.71,111.14 272.71,111.18 272.71,111.22 272.71,111.25 272.71,111.29 272.71,111.33 272.72,111.37 272.72,111.40 272.72,111.44 272.72,111.48 272.72,111.52 272.73,111.55 272.73,111.59 272.73,111.63 272.74,111.66 272.74,111.70 272.75,111.74 272.75,111.78 272.76,111.81 272.77,111.85 272.77,111.89 272.78,111.93 272.79,111.96 272.81,112.00 272.82,112.04 272.84,112.08 272.85,112.11 272.87,112.15 272.90,112.19 272.92,112.23 272.95,112.26 272.98,112.30 273.01,112.34 273.05,112.38 273.09,112.41 273.14,112.45 273.19,112.49 273.25,112.53 273.32,112.56 273.39,112.60 273.47,112.64 273.55,112.68 273.65,112.71 273.76,112.75 273.87,112.79 274.00,112.83 274.15,112.86 274.30,112.90 274.47,112.94 274.66,112.98 274.86,113.01 275.09,113.05 275.33,113.09 275.60,113.13 275.89,113.16 276.21,113.20 276.56,113.24 276.94,113.28 277.35,113.31 277.79,113.35 278.28,113.39 278.80,113.43 279.37,113.46 279.99,113.50 280.66,113.54 281.38,113.58 282.17,113.61 283.01,113.65 283.92,113.69 284.90,113.73 285.96,113.76 287.10,113.80 288.33,113.84 289.65,113.88 291.07,113.91 292.59,113.95 294.22,113.99 295.98,114.03 297.85,114.06 299.86,114.10 302.02,114.14 304.32,114.18 306.78,114.21 309.40,114.25 312.21,114.29 315.20,114.33 318.38,114.36 321.78,114.40 325.40,114.44 329.24,114.48 331.74,114.51 330.93,114.55 329.32,114.59 327.10,114.63 324.51,114.66 321.77,114.70 319.05,114.74 316.44,114.78 314.01,114.81 311.80,114.85 309.80,114.89 308.01,114.93 306.42,114.96 305.02,115.00 303.79,115.04 302.72,115.08 301.79,115.11 300.99,115.15 300.30,115.19 299.74,115.23 299.27,115.26 298.90,115.30 298.63,115.34 298.44,115.38 298.34,115.41 298.33,115.45 298.41,115.49 298.57,115.53 298.82,115.56 299.16,115.60 299.61,115.64 300.15,115.68 300.81,115.71 301.58,115.75 302.49,115.79 303.53,115.83 304.74,115.86 306.12,115.90 307.68,115.94 309.45,115.98 311.44,116.01 313.65,116.05 316.08,116.09 318.71,116.13 321.48,116.16 324.27,116.20 326.93,116.24 329.23,116.28 330.91,116.31 331.74,116.35 331.59,116.39 330.48,116.43 328.57,116.46 326.12,116.50 323.37,116.54 320.53,116.58 317.76,116.61 315.15,116.65 312.74,116.69 310.56,116.73 308.61,116.76 306.88,116.80 305.34,116.84 304.00,116.88 302.82,116.91 301.79,116.95 300.90,116.99 300.14,117.03 299.50,117.06 298.97,117.10 298.53,117.14 298.20,117.18 297.95,117.21 297.79,117.25 297.72,117.29 297.73,117.33 297.83,117.36 298.01,117.40 298.29,117.44 298.65,117.48 299.12,117.51 299.69,117.55 300.37,117.59 301.18,117.63 302.11,117.66 303.20,117.70 304.45,117.74 305.87,117.77 307.49,117.81 309.33,117.85 311.40,117.89 313.70,117.92 316.23,117.96 318.97,118.00 321.84,118.04 324.72,118.07 327.41,118.11 329.67,118.15 331.21,118.19 331.80,118.22 331.34,118.26 329.91,118.30 327.72,118.34 325.04,118.37 322.14,118.41 319.23,118.45 316.43,118.49 313.83,118.52 311.46,118.56 309.33,118.60 307.43,118.64 305.75,118.67 304.28,118.71 302.98,118.75 301.85,118.79 300.88,118.82 300.03,118.86 299.31,118.90 298.71,118.94 298.21,118.97 297.81,119.01 297.50,119.05 297.28,119.09 297.15,119.12 297.10,119.16 297.14,119.20 297.26,119.24 297.46,119.27 297.76,119.31 298.15,119.35 298.64,119.39 299.23,119.42 299.94,119.46 300.77,119.50 301.74,119.54 302.87,119.57 304.16,119.61 305.63,119.65 307.32,119.69 309.22,119.72 311.37,119.76 313.77,119.80 316.41,119.84 319.26,119.87 322.23,119.91 325.19,119.95 327.90,119.99 330.09,120.02 331.46,120.06 331.77,120.10 330.98,120.14 329.21,120.17 326.72,120.21 323.82,120.25 320.78,120.29 317.79,120.32 314.97,120.36 312.38,120.40 310.04,120.44 307.95,120.47 306.10,120.51 304.47,120.55 303.04,120.59 301.79,120.62 300.71,120.66 299.77,120.70 298.96,120.74 298.27,120.77 297.70,120.81 297.22,120.85 296.85,120.89 296.56,120.92 296.36,120.96 296.24,121.00 296.21,121.04 296.25,121.07 296.39,121.11 296.60,121.15 296.91,121.19 297.30,121.22 297.80,121.26 298.40,121.30 299.12,121.34 299.97,121.37 300.95,121.41 302.10,121.45 303.42,121.49 304.93,121.52 306.66,121.56 308.64,121.60 310.87,121.64 313.38,121.67 316.16,121.71 319.16,121.75 322.31,121.79 325.43,121.82 328.25,121.86 330.43,121.90 331.64,121.94 331.64,121.97 330.43,122.01 328.22,122.05 325.36,122.09 322.18,122.12 318.96,122.16 315.88,122.20 313.03,122.24 310.45,122.27 308.16,122.31 306.13,122.35 304.35,122.39 302.78,122.42 301.42,122.46 300.24,122.50 299.21,122.54 298.33,122.57 297.57,122.61 296.93,122.65 296.40,122.69 295.96,122.72 295.62,122.76 295.36,122.80 295.19,122.84 295.10,122.87 295.09,122.91 295.16,122.95 295.31,122.99 295.54,123.02 295.86,123.06 296.27,123.10 296.78,123.14 297.40,123.17 298.14,123.21 299.00,123.25 300.01,123.29 301.19,123.32 302.54,123.36 304.10,123.40 305.90,123.44 307.95,123.47 310.29,123.51 312.93,123.55 315.87,123.59 319.06,123.62 322.41,123.66 325.71,123.70 328.63,123.73 330.78,123.77 331.77,123.81 331.38,123.85 329.68,123.88 327.01,123.92 323.77,123.96 320.34,124.00 316.99,124.03 313.85,124.07 311.01,124.11 308.48,124.15 306.25,124.18 304.29,124.22 302.58,124.26 301.10,124.30 299.81,124.33 298.69,124.37 297.73,124.41 296.90,124.45 296.19,124.48 295.60,124.52 295.11,124.56 294.71,124.60 294.40,124.63 294.18,124.67 294.03,124.71 293.96,124.75 293.97,124.78 294.06,124.82 294.23,124.86 294.48,124.90 294.81,124.93 295.24,124.97 295.76,125.01 296.39,125.05 297.15,125.08 298.03,125.12 299.06,125.16 300.26,125.20 301.65,125.23 303.26,125.27 305.11,125.31 307.24,125.35 309.69,125.38 312.47,125.42 315.58,125.46 318.98,125.50 322.55,125.53 326.03,125.57 329.05,125.61 331.12,125.65 331.80,125.68 330.92,125.72 328.69,125.76 325.54,125.80 321.96,125.83 318.32,125.87 314.87,125.91 311.73,125.95 308.93,125.98 306.46,126.02 304.31,126.06 302.44,126.10 300.82,126.13 299.41,126.17 298.20,126.21 297.15,126.25 296.25,126.28 295.48,126.32 294.83,126.36 294.28,126.40 293.83,126.43 293.47,126.47 293.20,126.51 293.00,126.55 292.88,126.58 292.83,126.62 292.86,126.66 292.97,126.70 293.15,126.73 293.41,126.77 293.76,126.81 294.20,126.85 294.73,126.88 295.38,126.92 296.14,126.96 297.04,127.00 298.09,127.03 299.31,127.07 300.73,127.11 302.38,127.15 304.30,127.18 306.52,127.22 309.07,127.26 312.00,127.30 315.29,127.33 318.92,127.37 322.73,127.41 326.42,127.45 329.51,127.48 331.42,127.52 331.69,127.56 330.25,127.60 327.42,127.63 323.80,127.67 319.91,127.71 316.13,127.75 312.64,127.78 309.53,127.82 306.79,127.86 304.42,127.90 302.37,127.93 300.59,127.97 299.06,128.01 297.74,128.05 296.61,128.08 295.63,128.12 294.79,128.16 294.08,128.20 293.48,128.23 292.98,128.27 292.57,128.31 292.24,128.35 292.00,128.38 291.83,128.42 291.74,128.46 291.71,128.50 291.76,128.53 291.88,128.57 292.08,128.61 292.35,128.65 292.71,128.68 293.15,128.72 293.70,128.76 294.35,128.80 295.12,128.83 296.03,128.87 297.10,128.91 298.34,128.95 299.79,128.98 301.48,129.02 303.46,129.06 305.76,129.10 308.43,129.13 311.51,129.17 315.01,129.21 318.88,129.25 322.96,129.28 326.85,129.32 329.99,129.36 331.66,129.40 331.41,129.43 329.28,129.47 325.84,129.51 321.78,129.55 317.65,129.58 313.77,129.62 310.30,129.66 307.26,129.69 304.63,129.73 302.36,129.77 300.42,129.81 298.75,129.84 297.32,129.88 296.09,129.92 295.03,129.96 294.12,129.99 293.36,130.03 292.70,130.07 292.16,130.11 291.71,130.14 291.34,130.18 291.05,130.22 290.84,130.26 290.71,130.29 290.64,130.33 290.64,130.37 290.71,130.41 290.85,130.44 291.06,130.48 291.35,130.52 291.72,130.56 292.18,130.59 292.73,130.63 293.40,130.67 294.19,130.71 295.11,130.74 296.20,130.78 297.47,130.82 298.95,130.86 300.69,130.89 302.73,130.93 305.12,130.97 307.92,131.01 311.17,131.04 314.89,131.08 319.02,131.12 323.35,131.16 327.42,131.19 330.50,131.23 331.79,131.27 330.88,131.31 328.05,131.34 324.05,131.38 319.66,131.42 315.40,131.46 311.53,131.49 308.14,131.53 305.21,131.57 302.70,131.61 300.57,131.64 298.74,131.68 297.18,131.72 295.85,131.76 294.70,131.79 293.72,131.83 292.89,131.87 292.18,131.91 291.58,131.94 291.08,131.98 290.66,132.02 290.33,132.06 290.08,132.09 289.89,132.13 289.78,132.17 289.73,132.21 289.75,132.24 289.84,132.28 289.99,132.32 290.21,132.36 290.51,132.39 290.89,132.43 291.36,132.47 291.93,132.51 292.60,132.54 293.40,132.58 294.33,132.62 295.44,132.66 296.73,132.69 298.25,132.73 300.03,132.77 302.14,132.81 304.62,132.84 307.54,132.88 310.97,132.92 314.91,132.96 319.30,132.99 323.88,133.03 328.08,133.07 330.99,133.11 331.75,133.14 330.08,133.18 326.52,133.22 322.03,133.26 317.40,133.29 313.09,133.33 309.28,133.37 306.00,133.41 303.20,133.44 300.83,133.48 298.82,133.52 297.11,133.56 295.65,133.59 294.41,133.63 293.35,133.67 292.45,133.71 291.67,133.74 291.02,133.78 290.47,133.82 290.01,133.86 289.63,133.89 289.34,133.93 289.11,133.97 288.95,134.01 288.86,134.04 288.83,134.08 288.87,134.12 288.97,134.16 289.13,134.19 289.37,134.23 289.67,134.27 290.06,134.31 290.54,134.34 291.11,134.38 291.79,134.42 292.59,134.46 293.54,134.49 294.66,134.53 295.97,134.57 297.52,134.61 299.35,134.64 301.52,134.68 304.10,134.72 307.16,134.76 310.76,134.79 314.95,134.83 319.63,134.87 324.48,134.91 328.77,134.94 331.41,134.98 331.23,135.02 330.03,135.06 328.85,135.09 327.68,135.13 326.53,135.17 325.39,135.21 324.26,135.24 323.15,135.28 322.05,135.32 320.96,135.36 319.89,135.39 318.83,135.43 317.79,135.47 316.76,135.51 315.74,135.54 314.74,135.58 313.75,135.62 312.77,135.65 311.81,135.69 310.87,135.73 309.94,135.77 309.02,135.80 308.11,135.84 307.22,135.88 306.34,135.92 305.48,135.95 304.63,135.99 303.80,136.03 302.98,136.07 302.17,136.10 301.37,136.14 300.59,136.18 299.83,136.22 299.07,136.25 298.33,136.29 297.61,136.33 296.90,136.37 296.20,136.40 295.51,136.44 294.84,136.48 294.17,136.52 293.53,136.55 292.89,136.59 292.27,136.63 291.66,136.67 291.06,136.70 290.48,136.74 289.91,136.78 289.35,136.82 288.80,136.85 288.26,136.89 287.74,136.93 287.23,136.97 286.73,137.00 286.24,137.04 285.76,137.08 285.30,137.12 284.84,137.15 284.40,137.19 283.96,137.23 283.54,137.27 283.13,137.30 282.73,137.34 282.34,137.38 281.96,137.42 281.59,137.45 281.23,137.49 280.88,137.53 280.54,137.57 280.21,137.60 279.89,137.64 279.57,137.68 279.27,137.72 278.98,137.75 278.69,137.79 278.41,137.83 278.15,137.87 277.89,137.90 277.63,137.94 277.39,137.98 277.15,138.02 276.93,138.05 276.71,138.09 276.49,138.13 276.29,138.17 276.09,138.20 275.90,138.24 275.71,138.28 275.53,138.32 275.36,138.35 275.20,138.39 275.04,138.43 274.89,138.47 274.74,138.50 274.60,138.54 274.46,138.58 274.33,138.62 274.21,138.65 274.09,138.69 273.98,138.73 273.87,138.77 273.76,138.80 273.66,138.84 273.57,138.88 273.48,138.92 273.39,138.95 273.31,138.99 273.23,139.03 273.16,139.07 273.09,139.10 273.02,139.14 272.96,139.18 272.90,139.22 272.84,139.25 272.79,139.29 272.73,139.33 272.69,139.37 272.64,139.40 272.60,139.44 272.56,139.48 272.52,139.52 272.49,139.55 272.46,139.59 272.42,139.63 272.40,139.67 272.37,139.70 272.34,139.74 272.32,139.78 272.30,139.82 272.28,139.85 272.26,139.89 272.25,139.93 272.23,139.97 272.22,140.00 272.20,140.04 272.19,140.08 272.18,140.12 272.17,140.15 272.16,140.19 272.16,140.23 272.15,140.27 272.14,140.30 272.14,140.34 272.13,140.38 272.13,140.42 272.12,140.45 272.12,140.49 272.12,140.53 272.12,140.57 272.11,140.60 272.11,140.64 272.11,140.68 272.11,140.72 272.11,140.75 272.11,140.79 272.11,140.83 272.10,140.87 272.10,140.90 272.10,140.94 272.10,140.98 272.10,141.02 272.10,141.05 272.10,141.09 272.10,141.13 272.10,141.17 272.10,141.20 272.10,141.24 272.10,141.28 272.10,141.32 272.10,141.35 272.10,141.39 272.10,141.43 272.10,141.47 272.10,141.50 272.10,141.54 272.10,141.58 272.10,141.62 272.10,141.65 272.10,141.69 272.10,141.73 272.10,141.76 272.10,141.80 272.10,141.84 272.10,141.88 272.10,141.91 272.10,141.95 272.11,141.99 272.11,142.03 272.11,142.06 272.11,142.10 272.11,142.14 272.11,142.18 272.11,142.21 272.12,142.25 272.12,142.29 272.12,142.33 272.13,142.36 272.13,142.40 272.13,142.44 272.14,142.48 272.15,142.51 272.15,142.55 272.16,142.59 272.17,142.63 272.18,142.66 272.19,142.70 272.20,142.74 272.21,142.78 272.22,142.81 272.24,142.85 272.25,142.89 272.27,142.93 272.29,142.96 272.31,143.00 272.33,143.04 272.36,143.08 272.38,143.11 272.41,143.15 272.44,143.19 272.47,143.23 272.50,143.26 272.54,143.30 272.58,143.34 272.62,143.38 272.66,143.41 272.71,143.45 272.76,143.49 272.81,143.53 272.87,143.56 272.92,143.60 272.99,143.64 273.05,143.68 273.12,143.71 273.19,143.75 273.27,143.79 273.35,143.83 273.43,143.86 273.52,143.90 273.61,143.94 273.71,143.98 273.81,144.01 273.92,144.05 274.03,144.09 274.15,144.13 274.27,144.16 274.39,144.20 274.53,144.24 274.66,144.28 274.81,144.31 274.96,144.35 275.11,144.39 275.27,144.43 275.44,144.46 275.62,144.50 275.80,144.54 275.99,144.58 276.18,144.61 276.38,144.65 276.59,144.69 276.81,144.73 277.03,144.76 277.26,144.80 277.50,144.84 277.75,144.88 278.01,144.91 278.27,144.95 278.54,144.99 278.82,145.03 279.11,145.06 279.41,145.10 279.72,145.14 280.04,145.18 280.36,145.21 280.70,145.25 281.04,145.29 281.40,145.33 281.76,145.36 282.14,145.40 282.52,145.44 282.92,145.48 283.32,145.51 283.74,145.55 284.17,145.59 284.61,145.63 285.05,145.66 285.51,145.70 285.99,145.74 286.47,145.78 286.96,145.81 287.47,145.85 287.99,145.89 288.52,145.93 289.06,145.96 289.61,146.00 290.18,146.04 290.75,146.08 291.34,146.11 291.95,146.15 292.56,146.19 293.19,146.23 293.83,146.26 294.48,146.30 295.15,146.34 295.83,146.38 296.52,146.41 297.23,146.45 297.95,146.49 298.68,146.53 299.43,146.56 300.19,146.60 300.96,146.64 301.75,146.68 302.55,146.71 303.36,146.75 304.19,146.79 305.03,146.83 305.89,146.86 306.76,146.90 307.64,146.94 308.54,146.98 309.45,147.01 310.37,147.05 311.31,147.09 312.27,147.13 313.23,147.16 314.21,147.20 315.21,147.24 316.22,147.28 317.24,147.31 318.28,147.35 319.33,147.39 320.39,147.43 321.47,147.46 322.56,147.50 323.67,147.54 324.79,147.58 325.92,147.61 327.07,147.65 328.23,147.69 329.41,147.72 330.60,147.76 331.80,147.80 331.79,147.84 331.76,147.87 331.70,147.91 331.62,147.95 331.52,147.99 331.39,148.02 331.24,148.06 331.07,148.10 330.88,148.14 330.67,148.17 330.44,148.21 330.20,148.25 329.95,148.29 329.69,148.32 329.42,148.36 329.15,148.40 328.88,148.44 328.62,148.47 328.36,148.51 328.11,148.55 327.88,148.59 327.66,148.62 327.45,148.66 327.27,148.70 327.11,148.74 326.97,148.77 326.86,148.81 326.77,148.85 326.71,148.89 326.68,148.92 326.68,148.96 326.71,149.00 326.77,149.04 326.86,149.07 326.98,149.11 327.13,149.15 327.30,149.19 327.51,149.22 327.73,149.26 327.98,149.30 328.25,149.34 328.54,149.37 328.84,149.41 329.15,149.45 329.46,149.49 329.78,149.52 330.09,149.56 330.40,149.60 330.69,149.64 330.95,149.67 331.19,149.71 331.40,149.75 331.57,149.79 331.69,149.82 331.77,149.86 331.80,149.90 331.77,149.94 331.69,149.97 331.56,150.01 331.37,150.05 331.13,150.09 330.84,150.12 330.50,150.16 330.12,150.20 329.71,150.24 329.27,150.27 328.81,150.31 328.33,150.35 327.85,150.39 327.36,150.42 326.87,150.46 326.39,150.50 325.92,150.54 325.47,150.57 325.05,150.61 324.65,150.65 324.28,150.69 323.94,150.72 323.64,150.76 323.38,150.80 323.15,150.84 322.97,150.87 322.83,150.91 322.73,150.95 322.68,150.99 322.68,151.02 322.72,151.06 322.80,151.10 322.93,151.14 323.11,151.17 323.34,151.21 323.61,151.25 323.92,151.29 324.27,151.32 324.66,151.36 325.09,151.40 325.56,151.44 326.05,151.47 326.57,151.51 327.10,151.55 327.65,151.59 328.21,151.62 328.75,151.66 329.29,151.70 329.80,151.74 330.27,151.77 330.70,151.81 331.07,151.85 331.38,151.89 331.61,151.92 331.75,151.96 331.80,152.00 331.76,152.04 331.62,152.07 331.38,152.11 331.06,152.15 330.65,152.19 330.16,152.22 329.61,152.26 328.99,152.30 328.34,152.34 327.65,152.37 326.94,152.41 326.22,152.45 325.49,152.49 324.78,152.52 324.08,152.56 323.41,152.60 322.76,152.64 322.15,152.67 321.58,152.71 321.06,152.75 320.58,152.79 320.15,152.82 319.77,152.86 319.44,152.90 319.17,152.94 318.95,152.97 318.79,153.01 318.68,153.05 318.64,153.09 318.65,153.12 318.72,153.16 318.85,153.20 319.03,153.24 319.28,153.27 319.58,153.31 319.95,153.35 320.37,153.39 320.85,153.42 321.38,153.46 321.97,153.50 322.61,153.54 323.29,153.57 324.02,153.61 324.77,153.65 325.56,153.68 326.36,153.72 327.16,153.76 327.95,153.80 328.71,153.83 329.43,153.87 330.08,153.91 330.66,153.95 331.13,153.98 331.49,154.02 331.72,154.06 331.80,154.10 331.74,154.13 331.52,154.17 331.17,154.21 330.67,154.25 330.06,154.28 329.33,154.32 328.52,154.36 327.65,154.40 326.72,154.43 325.76,154.47 324.79,154.51 323.82,154.55 322.87,154.58 321.94,154.62 321.05,154.66 320.20,154.70 319.40,154.73 318.66,154.77 317.97,154.81 317.35,154.85 316.78,154.88 316.28,154.92 315.84,154.96 315.47,155.00 315.16,155.03 314.92,155.07 314.74,155.11 314.63,155.15 314.59,155.18 314.61,155.22 314.70,155.26 314.86,155.30 315.08,155.33 315.37,155.37 315.74,155.41 316.17,155.45 316.68,155.48 317.25,155.52 317.90,155.56 318.62,155.60 319.40,155.63 320.25,155.67 321.16,155.71 322.12,155.75 323.14,155.78 324.18,155.82 325.25,155.86 326.32,155.90 327.36,155.93 328.37,155.97 329.30,156.01 330.12,156.05 330.81,156.08 331.33,156.12 331.67,156.16 331.80,156.20 331.71,156.23 331.40,156.27 330.89,156.31 330.19,156.35 329.32,156.38 328.31,156.42 327.20,156.46 326.02,156.50 324.80,156.53 323.56,156.57 322.32,156.61 321.11,156.65 319.94,156.68 318.82,156.72 317.76,156.76 316.77,156.80 315.85,156.83 315.00,156.87 314.23,156.91 313.53,156.95 312.90,156.98 312.35,157.02 311.88,157.06 311.47,157.10 311.14,157.13 310.88,157.17 310.70,157.21 310.58,157.25 310.54,157.28 310.57,157.32 310.66,157.36 310.84,157.40 311.08,157.43 311.41,157.47 311.80,157.51 312.28,157.55 312.84,157.58 313.48,157.62 314.21,157.66 315.02,157.70 315.92,157.73 316.90,157.77 317.97,157.81 319.12,157.85 320.34,157.88 321.63,157.92 322.96,157.96 324.33,158.00 325.69,158.03 327.02,158.07 328.28,158.11 329.41,158.15 330.38,158.18 331.12,158.22 331.61,158.26 331.80,158.30 331.68,158.33 331.25,158.37 330.53,158.41 329.56,158.45 328.37,158.48 327.02,158.52 325.57,158.56 324.05,158.60 322.50,158.63 320.97,158.67 319.48,158.71 318.04,158.75 316.68,158.78 315.40,158.82 314.21,158.86 313.10,158.90 312.09,158.93 311.17,158.97 310.34,159.01 309.60,159.05 308.94,159.08 308.36,159.12 307.87,159.16 307.45,159.20 307.11,159.23 306.84,159.27 306.65,159.31 306.53,159.35 306.49,159.38 306.51,159.42 306.62,159.46 306.79,159.50 307.05,159.53 307.38,159.57 307.79,159.61 308.29,159.64 308.87,159.68 309.55,159.72 310.32,159.76 311.19,159.79 312.16,159.83 313.24,159.87 314.42,159.91 315.72,159.94 317.13,159.98 318.63,160.02 320.23,160.06 321.90,160.09 323.61,160.13 325.31,160.17 326.95,160.21 328.47,160.24 329.79,160.28 330.83,160.32 331.52,160.36 331.80,160.39 331.64,160.43 331.05,160.47 330.07,160.51 328.76,160.54 327.19,160.58 325.45,160.62 323.61,160.66 321.74,160.69 319.89,160.73 318.09,160.77 316.38,160.81 314.76,160.84 313.26,160.88 311.87,160.92 310.60,160.96 309.44,160.99 308.38,161.03 307.44,161.07 306.59,161.11 305.84,161.14 305.18,161.18 304.61,161.22 304.12,161.26 303.71,161.29 303.38,161.33 303.12,161.37 302.94,161.41 302.83,161.44 302.79,161.48 302.83,161.52 302.93,161.56 303.11,161.59 303.37,161.63 303.70,161.67 304.12,161.71 304.62,161.74 305.21,161.78 305.90,161.82 306.69,161.86 307.59,161.89 308.60,161.93 309.73,161.97 310.99,162.01 312.39,162.04 313.92,162.08 315.59,162.12 317.39,162.16 319.31,162.19 321.32,162.23 323.38,162.27 325.42,162.31 327.35,162.34 329.07,162.38 330.46,162.42 331.40,162.46 331.79,162.49 331.59,162.53 330.81,162.57 329.51,162.61 327.80,162.64 325.80,162.68 323.63,162.72 321.40,162.76 319.19,162.79 317.06,162.83 315.03,162.87 313.14,162.91 311.40,162.94 309.80,162.98 308.34,163.02 307.02,163.06 305.84,163.09 304.77,163.13 303.82,163.17 302.98,163.21 302.24,163.24 301.59,163.28 301.03,163.32 300.55,163.36 300.15,163.39 299.83,163.43 299.58,163.47 299.40,163.51 299.29,163.54 299.25,163.58 299.27,163.62 299.37,163.66 299.54,163.69 299.78,163.73 300.10,163.77 300.49,163.81 300.98,163.84 301.55,163.88 302.21,163.92 302.98,163.96 303.86,163.99 304.87,164.03 306.01,164.07 307.29,164.11 308.72,164.14 310.33,164.18 312.11,164.22 314.07,164.26 316.21,164.29 318.51,164.33 320.93,164.37 323.41,164.41 325.84,164.44 328.08,164.48 329.94,164.52 331.23,164.56 331.79,164.59 331.53,164.63 330.47,164.67 328.74,164.71 326.51,164.74 323.98,164.78 321.33,164.82 318.68,164.86 316.13,164.89 313.74,164.93 311.53,164.97 309.50,165.01 307.59,165.04 305.87,165.08 304.32,165.12 302.93,165.16 301.68,165.19 300.57,165.23 299.57,165.27 298.69,165.31 297.91,165.34 297.23,165.38 296.63,165.42 296.11,165.46 295.67,165.49 295.30,165.53 295.00,165.57 294.76,165.61 294.58,165.64 294.47,165.68 294.42,165.72 294.43,165.75 294.51,165.79 294.64,165.83 294.85,165.87 295.13,165.90 295.48,165.94 295.91,165.98 296.43,166.02 297.05,166.05 297.77,166.09 298.62,166.13 299.59,166.17 300.72,166.20 302.03,166.24 303.53,166.28 305.25,166.32 307.24,166.35 309.51,166.39 312.09,166.43 315.00,166.47 318.22,166.50 321.65,166.54 325.11,166.58 328.27,166.62 330.65,166.65 331.76,166.69 331.29,166.73 329.28,166.77 326.11,166.80 322.31,166.84 318.35,166.88 314.54,166.92 311.02,166.95 307.87,166.99 305.09,167.03 302.66,167.07 300.53,167.10 298.67,167.14 297.05,167.18 295.63,167.22 294.38,167.25 293.29,167.29 292.33,167.33 291.48,167.37 290.74,167.40 290.08,167.44 289.51,167.48 289.01,167.52 288.58,167.55 288.21,167.59 287.90,167.63 287.63,167.67 287.42,167.70 287.26,167.74 287.14,167.78 287.07,167.82 287.04,167.85 287.06,167.89 287.12,167.93 287.24,167.97 287.40,168.00 287.62,168.04 287.90,168.08 288.25,168.12 288.67,168.15 289.17,168.19 289.76,168.23 290.47,168.27 291.30,168.30 292.28,168.34 293.45,168.38 294.84,168.42 296.50,168.45 298.51,168.49 300.95,168.53 303.93,168.57 307.60,168.60 312.07,168.64 317.38,168.68 323.27,168.72 328.69,168.75 331.67,168.79 329.77,168.83 327.20,168.87 324.74,168.90 322.38,168.94 320.12,168.98 317.95,169.02 315.87,169.05 313.88,169.09 311.98,169.13 310.15,169.17 308.40,169.20 306.72,169.24 305.12,169.28 303.58,169.32 302.11,169.35 300.71,169.39 299.36,169.43 298.08,169.47 296.85,169.50 295.67,169.54 294.55,169.58 293.47,169.62 292.44,169.65 291.46,169.69 290.52,169.73 289.63,169.77 288.77,169.80 287.96,169.84 287.18,169.88 286.43,169.92 285.72,169.95 285.05,169.99 284.40,170.03 283.79,170.07 283.20,170.10 282.64,170.14 282.11,170.18 281.60,170.22 281.11,170.25 280.65,170.29 280.21,170.33 279.79,170.37 279.40,170.40 279.02,170.44 278.66,170.48 278.31,170.52 277.99,170.55 277.68,170.59 277.38,170.63 277.10,170.67 276.83,170.70 276.58,170.74 276.34,170.78 276.11,170.82 275.89,170.85 275.69,170.89 275.49,170.93 275.31,170.97 275.13,171.00 274.96,171.04 274.81,171.08 274.66,171.12 274.51,171.15 274.38,171.19 274.25,171.23 274.13,171.27 274.01,171.30 273.91,171.34 273.80,171.38 273.71,171.42 273.61,171.45 273.53,171.49 273.44,171.53 273.37,171.57 273.29,171.60 273.22,171.64 273.16,171.68 273.09,171.71 273.04,171.75 272.98,171.79 272.93,171.83 272.88,171.86 272.83,171.90 272.79,171.94 272.75,171.98 272.71,172.01 272.67,172.05 272.63,172.09 272.60,172.13 272.57,172.16 272.54,172.20 272.51,172.24 272.49,172.28 272.46,172.31 272.44,172.35 272.42,172.39 272.40,172.43 272.38,172.46 272.36,172.50 272.35,172.54 272.33,172.58 272.32,172.61 272.30,172.65 272.29,172.69 272.28,172.73 272.27,172.76 272.25,172.80 272.24,172.84 272.24,172.88 272.23,172.91 272.22,172.95 272.21,172.99 272.20,173.03 272.20,173.06 272.19,173.10 272.18,173.14 272.18,173.18 272.17,173.21 272.17,173.25 272.16,173.29 272.16,173.33 272.16,173.36 272.15,173.40 272.15,173.44 272.15,173.48 272.14,173.51 272.14,173.55 272.14,173.59 272.13,173.63 272.13,173.66 272.13,173.70 272.13,173.74 272.13,173.78 272.12,173.81 272.12,173.85 272.12,173.89 272.12,173.93 272.12,173.96 272.12,174.00 272.12,174.04 272.12,174.08 272.11,174.11 272.11,174.15 272.11,174.19 272.11,174.23 272.11,174.26 272.11,174.30 272.11,174.34 272.11,174.38 272.11,174.41 272.11,174.45 272.11,174.49 272.11,174.53 272.11,174.56 272.11,174.60 272.11,174.64 272.11,174.68 272.11,174.71 272.11,174.75 272.11,174.79 272.11,174.83 272.11,174.86 272.10,174.90 272.10,174.94 272.10,174.98 272.10,175.01 272.10,175.05 272.10,175.09 272.10,175.13 272.10,175.16 272.10,175.20 272.10,175.24 272.10,175.28 272.10,175.31 272.10,175.35 272.10,175.39 272.10,175.43 272.10,175.46 272.10,175.50 272.10,175.54 272.10,175.58 272.10,175.61 272.10,175.65 272.10,175.69 272.10,175.73 272.10,175.76 272.10,175.80 272.10,175.84 272.10,175.88 272.10,175.91 272.10,175.95 272.10,175.99 272.10,176.03 272.10,176.06 272.10,176.10 272.10,176.14 272.10,176.18 272.10,176.21 272.10,176.25 272.10,176.29 272.10,176.33 272.10,176.36 272.10,176.40 272.10,176.44 272.10,176.48 272.10,176.51 272.10,176.55 272.10,176.59 272.10,176.63 272.10,176.66 272.10,176.70 272.10,176.74 272.10,176.78 272.10,176.81 272.10,176.85 272.10,176.89 272.10,176.93 272.10,176.96 272.10,177.00 272.10,177.04 272.10,177.08 272.10,177.11 272.10,177.15 272.10,177.19 272.10,177.23 272.10,177.26 272.10,177.30 272.10,177.34 272.10,177.38 272.10,177.41 272.10,177.45 272.10,177.49 272.10,177.53 272.10,177.56 272.10,177.60" fill="none" stroke="#000" stroke-width="1.05" stroke-linejoin="round"/>
<rect x="269" y="27.7" width="69.30" height="149.90" fill="none" stroke="#000" stroke-width="1.5"/>
<path d="M266.20,28.60H269.00 M266.20,51.90H269.00 M266.20,75.20H269.00 M266.20,98.50H269.00 M266.20,121.80H269.00 M266.20,145.10H269.00 M266.20,168.40H269.00" stroke="#000" stroke-width="1"/>
<path d="M272,177.6V175 M302,177.6V175.5 M331.8,177.6V175" stroke="#000" stroke-width="1"/>
<text x="272" y="190" font-family='"Liberation Sans", sans-serif' font-size="8.5" fill="#000" font-weight="bold" font-style="normal" text-anchor="middle" >0</text>
<text x="331.8" y="190" font-family='"Liberation Sans", sans-serif' font-size="8.5" fill="#000" font-weight="bold" font-style="normal" text-anchor="middle" >1</text>
<text transform="translate(302.8,201.0) scale(1.1,1)" font-family='"Liberation Sans", sans-serif' font-size="9.5" fill="#000" font-weight="normal" font-style="normal" text-anchor="middle" >|t|</text>
<rect x="354.6" y="35.5" width="68.40" height="11.70" fill="#bf86bf"/>
<rect x="354.6" y="71.8" width="68.40" height="5.70" fill="#bf86bf"/>
<rect x="354.6" y="100.6" width="68.40" height="14.50" fill="#00a8e6"/>
<rect x="354.6" y="139.5" width="68.40" height="3.70" fill="#bf86bf"/>
<rect x="354.6" y="169.1" width="68.40" height="8.50" fill="#bf86bf"/>
<polyline points="354.60,74.70 355.26,74.56 355.56,74.42 355.79,74.29 356.01,74.15 356.20,74.01 356.39,73.87 356.56,73.73 356.73,73.59 356.90,73.46 357.06,73.32 357.22,73.18 357.38,73.04 357.53,72.90 357.69,72.77 357.84,72.63 357.99,72.49 358.14,72.35 358.28,72.21 358.43,72.07 358.58,71.94 358.72,71.80 358.87,71.66 359.01,71.52 359.16,71.38 359.30,71.25 359.45,71.11 359.59,70.97 359.73,70.83 359.87,70.69 360.01,70.55 360.16,70.42 360.30,70.28 360.44,70.14 360.58,70.00 360.72,69.86 360.86,69.73 361.00,69.59 361.14,69.45 361.28,69.31 361.42,69.17 361.56,69.03 361.70,68.90 361.84,68.76 361.98,68.62 362.12,68.48 362.26,68.34 362.40,68.21 362.54,68.07 362.68,67.93 362.81,67.79 362.95,67.65 363.09,67.51 363.23,67.38 363.37,67.24 363.51,67.10 363.65,66.96 363.78,66.82 363.92,66.68 364.06,66.55 364.20,66.41 364.34,66.27 364.48,66.13 364.61,65.99 364.75,65.86 364.89,65.72 365.03,65.58 365.16,65.44 365.30,65.30 365.44,65.16 365.58,65.03 365.72,64.89 365.85,64.75 365.99,64.61 366.13,64.47 366.27,64.34 366.40,64.20 366.54,64.06 366.68,63.92 366.82,63.78 366.96,63.64 367.09,63.51 367.23,63.37 367.37,63.23 367.51,63.09 367.64,62.95 367.78,62.82 367.92,62.68 368.06,62.54 368.19,62.40 368.33,62.26 368.47,62.12 368.60,61.99 368.74,61.85 368.88,61.71 369.02,61.57 369.15,61.43 369.29,61.30 369.43,61.16 369.57,61.02 369.70,60.88 369.84,60.74 369.98,60.60 370.12,60.47 370.25,60.33 370.39,60.19 370.53,60.05 370.66,59.91 370.80,59.78 370.94,59.64 371.08,59.50 371.21,59.36 371.35,59.22 371.49,59.08 371.63,58.95 371.77,58.81 371.93,58.67 372.08,58.53 372.24,58.39 372.40,58.26 372.55,58.12 372.71,57.98 372.87,57.84 373.02,57.70 373.18,57.56 373.34,57.43 373.49,57.29 373.65,57.15 373.81,57.01 373.96,56.87 374.12,56.74 374.28,56.60 374.44,56.46 374.59,56.32 374.75,56.18 374.91,56.04 375.07,55.91 375.22,55.77 375.38,55.63 375.54,55.49 375.70,55.35 375.86,55.22 376.02,55.08 376.18,54.94 376.34,54.80 376.50,54.66 376.66,54.52 376.82,54.39 376.98,54.25 377.14,54.11 377.31,53.97 377.47,53.83 377.63,53.69 377.80,53.56 377.96,53.42 378.12,53.28 378.29,53.14 378.45,53.00 378.62,52.87 378.79,52.73 378.95,52.59 379.12,52.45 379.29,52.31 379.46,52.17 379.63,52.04 379.80,51.90 379.97,51.76 380.15,51.62 380.32,51.48 380.50,51.35 380.67,51.21 380.85,51.07 381.03,50.93 381.21,50.79 381.39,50.65 381.58,50.52 381.76,50.38 381.95,50.24 382.14,50.10 382.33,49.96 382.53,49.83 382.73,49.69 382.93,49.55 383.13,49.41 383.34,49.27 383.55,49.13 383.77,49.00 383.99,48.86 384.22,48.72 384.46,48.58 384.70,48.44 384.96,48.31 385.23,48.17 385.51,48.03 385.81,47.89 386.15,47.75 386.51,47.61 386.94,47.48 387.50,47.34 388.80,47.20 388.80,47.20 390.10,47.34 390.66,47.48 391.09,47.61 391.45,47.75 391.79,47.89 392.09,48.03 392.37,48.17 392.64,48.31 392.90,48.44 393.14,48.58 393.38,48.72 393.61,48.86 393.83,49.00 394.05,49.13 394.26,49.27 394.47,49.41 394.67,49.55 394.87,49.69 395.07,49.83 395.27,49.96 395.46,50.10 395.65,50.24 395.84,50.38 396.02,50.52 396.21,50.65 396.39,50.79 396.57,50.93 396.75,51.07 396.93,51.21 397.10,51.35 397.28,51.48 397.45,51.62 397.63,51.76 397.80,51.90 397.97,52.04 398.14,52.17 398.31,52.31 398.48,52.45 398.65,52.59 398.81,52.73 398.98,52.87 399.15,53.00 399.31,53.14 399.48,53.28 399.64,53.42 399.80,53.56 399.97,53.69 400.13,53.83 400.29,53.97 400.46,54.11 400.62,54.25 400.78,54.39 400.94,54.52 401.10,54.66 401.26,54.80 401.42,54.94 401.58,55.08 401.74,55.22 401.90,55.35 402.06,55.49 402.22,55.63 402.38,55.77 402.53,55.91 402.69,56.04 402.85,56.18 403.01,56.32 403.16,56.46 403.32,56.60 403.48,56.74 403.64,56.87 403.79,57.01 403.95,57.15 404.11,57.29 404.26,57.43 404.42,57.56 404.58,57.70 404.73,57.84 404.89,57.98 405.05,58.12 405.20,58.26 405.36,58.39 405.52,58.53 405.67,58.67 405.83,58.81 405.97,58.95 406.11,59.08 406.25,59.22 406.39,59.36 406.52,59.50 406.66,59.64 406.80,59.78 406.94,59.91 407.07,60.05 407.21,60.19 407.35,60.33 407.48,60.47 407.62,60.60 407.76,60.74 407.90,60.88 408.03,61.02 408.17,61.16 408.31,61.30 408.45,61.43 408.58,61.57 408.72,61.71 408.86,61.85 409.00,61.99 409.13,62.12 409.27,62.26 409.41,62.40 409.54,62.54 409.68,62.68 409.82,62.82 409.96,62.95 410.09,63.09 410.23,63.23 410.37,63.37 410.51,63.51 410.64,63.64 410.78,63.78 410.92,63.92 411.06,64.06 411.20,64.20 411.33,64.34 411.47,64.47 411.61,64.61 411.75,64.75 411.88,64.89 412.02,65.03 412.16,65.16 412.30,65.30 412.44,65.44 412.57,65.58 412.71,65.72 412.85,65.86 412.99,65.99 413.12,66.13 413.26,66.27 413.40,66.41 413.54,66.55 413.68,66.68 413.82,66.82 413.95,66.96 414.09,67.10 414.23,67.24 414.37,67.38 414.51,67.51 414.65,67.65 414.79,67.79 414.92,67.93 415.06,68.07 415.20,68.21 415.34,68.34 415.48,68.48 415.62,68.62 415.76,68.76 415.90,68.90 416.04,69.03 416.18,69.17 416.32,69.31 416.46,69.45 416.60,69.59 416.74,69.73 416.88,69.86 417.02,70.00 417.16,70.14 417.30,70.28 417.44,70.42 417.59,70.55 417.73,70.69 417.87,70.83 418.01,70.97 418.15,71.11 418.30,71.25 418.44,71.38 418.59,71.52 418.73,71.66 418.88,71.80 419.02,71.94 419.17,72.07 419.32,72.21 419.46,72.35 419.61,72.49 419.76,72.63 419.91,72.77 420.07,72.90 420.22,73.04 420.38,73.18 420.54,73.32 420.70,73.46 420.87,73.59 421.04,73.73 421.21,73.87 421.40,74.01 421.59,74.15 421.81,74.29 422.04,74.42 422.34,74.56 423.00,74.70" fill="none" stroke="#000" stroke-width="1.4"/>
<polyline points="354.60,74.70 355.26,74.83 355.56,74.97 355.79,75.10 356.01,75.23 356.20,75.37 356.39,75.50 356.56,75.64 356.73,75.77 356.90,75.90 357.06,76.04 357.22,76.17 357.38,76.30 357.53,76.44 357.69,76.57 357.84,76.71 357.99,76.84 358.14,76.97 358.28,77.11 358.43,77.24 358.58,77.37 358.72,77.51 358.87,77.64 359.01,77.77 359.16,77.91 359.30,78.04 359.45,78.18 359.59,78.31 359.73,78.44 359.87,78.58 360.01,78.71 360.16,78.84 360.30,78.98 360.44,79.11 360.58,79.24 360.72,79.38 360.86,79.51 361.00,79.65 361.14,79.78 361.28,79.91 361.42,80.05 361.56,80.18 361.70,80.31 361.84,80.45 361.98,80.58 362.12,80.72 362.26,80.85 362.40,80.98 362.54,81.12 362.68,81.25 362.81,81.38 362.95,81.52 363.09,81.65 363.23,81.78 363.37,81.92 363.51,82.05 363.65,82.19 363.78,82.32 363.92,82.45 364.06,82.59 364.20,82.72 364.34,82.85 364.48,82.99 364.61,83.12 364.75,83.25 364.89,83.39 365.03,83.52 365.16,83.66 365.30,83.79 365.44,83.92 365.58,84.06 365.72,84.19 365.85,84.32 365.99,84.46 366.13,84.59 366.27,84.73 366.40,84.86 366.54,84.99 366.68,85.13 366.82,85.26 366.96,85.39 367.09,85.53 367.23,85.66 367.37,85.79 367.51,85.93 367.64,86.06 367.78,86.20 367.92,86.33 368.06,86.46 368.19,86.60 368.33,86.73 368.47,86.86 368.60,87.00 368.74,87.13 368.88,87.26 369.02,87.40 369.15,87.53 369.29,87.67 369.43,87.80 369.57,87.93 369.70,88.07 369.84,88.20 369.98,88.33 370.12,88.47 370.25,88.60 370.39,88.74 370.53,88.87 370.66,89.00 370.80,89.14 370.94,89.27 371.08,89.40 371.21,89.54 371.35,89.67 371.49,89.80 371.63,89.94 371.77,90.07 371.93,90.21 372.08,90.34 372.24,90.47 372.40,90.61 372.55,90.74 372.71,90.87 372.87,91.01 373.02,91.14 373.18,91.27 373.34,91.41 373.49,91.54 373.65,91.68 373.81,91.81 373.96,91.94 374.12,92.08 374.28,92.21 374.44,92.34 374.59,92.48 374.75,92.61 374.91,92.75 375.07,92.88 375.22,93.01 375.38,93.15 375.54,93.28 375.70,93.41 375.86,93.55 376.02,93.68 376.18,93.81 376.34,93.95 376.50,94.08 376.66,94.22 376.82,94.35 376.98,94.48 377.14,94.62 377.31,94.75 377.47,94.88 377.63,95.02 377.80,95.15 377.96,95.28 378.12,95.42 378.29,95.55 378.45,95.69 378.62,95.82 378.79,95.95 378.95,96.09 379.12,96.22 379.29,96.35 379.46,96.49 379.63,96.62 379.80,96.76 379.97,96.89 380.15,97.02 380.32,97.16 380.50,97.29 380.67,97.42 380.85,97.56 381.03,97.69 381.21,97.82 381.39,97.96 381.58,98.09 381.76,98.23 381.95,98.36 382.14,98.49 382.33,98.63 382.53,98.76 382.73,98.89 382.93,99.03 383.13,99.16 383.34,99.29 383.55,99.43 383.77,99.56 383.99,99.70 384.22,99.83 384.46,99.96 384.70,100.10 384.96,100.23 385.23,100.36 385.51,100.50 385.81,100.63 386.15,100.77 386.51,100.90 386.94,101.03 387.50,101.17 388.80,101.30 388.80,101.30 390.10,101.17 390.66,101.03 391.09,100.90 391.45,100.77 391.79,100.63 392.09,100.50 392.37,100.36 392.64,100.23 392.90,100.10 393.14,99.96 393.38,99.83 393.61,99.70 393.83,99.56 394.05,99.43 394.26,99.29 394.47,99.16 394.67,99.03 394.87,98.89 395.07,98.76 395.27,98.63 395.46,98.49 395.65,98.36 395.84,98.23 396.02,98.09 396.21,97.96 396.39,97.82 396.57,97.69 396.75,97.56 396.93,97.42 397.10,97.29 397.28,97.16 397.45,97.02 397.63,96.89 397.80,96.76 397.97,96.62 398.14,96.49 398.31,96.35 398.48,96.22 398.65,96.09 398.81,95.95 398.98,95.82 399.15,95.69 399.31,95.55 399.48,95.42 399.64,95.28 399.80,95.15 399.97,95.02 400.13,94.88 400.29,94.75 400.46,94.62 400.62,94.48 400.78,94.35 400.94,94.22 401.10,94.08 401.26,93.95 401.42,93.81 401.58,93.68 401.74,93.55 401.90,93.41 402.06,93.28 402.22,93.15 402.38,93.01 402.53,92.88 402.69,92.75 402.85,92.61 403.01,92.48 403.16,92.34 403.32,92.21 403.48,92.08 403.64,91.94 403.79,91.81 403.95,91.68 404.11,91.54 404.26,91.41 404.42,91.27 404.58,91.14 404.73,91.01 404.89,90.87 405.05,90.74 405.20,90.61 405.36,90.47 405.52,90.34 405.67,90.21 405.83,90.07 405.97,89.94 406.11,89.80 406.25,89.67 406.39,89.54 406.52,89.40 406.66,89.27 406.80,89.14 406.94,89.00 407.07,88.87 407.21,88.74 407.35,88.60 407.48,88.47 407.62,88.33 407.76,88.20 407.90,88.07 408.03,87.93 408.17,87.80 408.31,87.67 408.45,87.53 408.58,87.40 408.72,87.26 408.86,87.13 409.00,87.00 409.13,86.86 409.27,86.73 409.41,86.60 409.54,86.46 409.68,86.33 409.82,86.20 409.96,86.06 410.09,85.93 410.23,85.79 410.37,85.66 410.51,85.53 410.64,85.39 410.78,85.26 410.92,85.13 411.06,84.99 411.20,84.86 411.33,84.73 411.47,84.59 411.61,84.46 411.75,84.32 411.88,84.19 412.02,84.06 412.16,83.92 412.30,83.79 412.44,83.66 412.57,83.52 412.71,83.39 412.85,83.25 412.99,83.12 413.12,82.99 413.26,82.85 413.40,82.72 413.54,82.59 413.68,82.45 413.82,82.32 413.95,82.19 414.09,82.05 414.23,81.92 414.37,81.78 414.51,81.65 414.65,81.52 414.79,81.38 414.92,81.25 415.06,81.12 415.20,80.98 415.34,80.85 415.48,80.72 415.62,80.58 415.76,80.45 415.90,80.31 416.04,80.18 416.18,80.05 416.32,79.91 416.46,79.78 416.60,79.65 416.74,79.51 416.88,79.38 417.02,79.24 417.16,79.11 417.30,78.98 417.44,78.84 417.59,78.71 417.73,78.58 417.87,78.44 418.01,78.31 418.15,78.18 418.30,78.04 418.44,77.91 418.59,77.77 418.73,77.64 418.88,77.51 419.02,77.37 419.17,77.24 419.32,77.11 419.46,76.97 419.61,76.84 419.76,76.71 419.91,76.57 420.07,76.44 420.22,76.30 420.38,76.17 420.54,76.04 420.70,75.90 420.87,75.77 421.04,75.64 421.21,75.50 421.40,75.37 421.59,75.23 421.81,75.10 422.04,74.97 422.34,74.83 423.00,74.70" fill="none" stroke="#000" stroke-width="1.4"/>
<polyline points="354.60,141.30 355.26,141.17 355.56,141.03 355.79,140.90 356.01,140.77 356.20,140.63 356.39,140.50 356.56,140.36 356.73,140.23 356.90,140.10 357.06,139.96 357.22,139.83 357.38,139.70 357.53,139.56 357.69,139.43 357.84,139.29 357.99,139.16 358.14,139.03 358.28,138.89 358.43,138.76 358.58,138.63 358.72,138.49 358.87,138.36 359.01,138.23 359.16,138.09 359.30,137.96 359.45,137.82 359.59,137.69 359.73,137.56 359.87,137.42 360.01,137.29 360.16,137.16 360.30,137.02 360.44,136.89 360.58,136.76 360.72,136.62 360.86,136.49 361.00,136.35 361.14,136.22 361.28,136.09 361.42,135.95 361.56,135.82 361.70,135.69 361.84,135.55 361.98,135.42 362.12,135.28 362.26,135.15 362.40,135.02 362.54,134.88 362.68,134.75 362.81,134.62 362.95,134.48 363.09,134.35 363.23,134.22 363.37,134.08 363.51,133.95 363.65,133.81 363.78,133.68 363.92,133.55 364.06,133.41 364.20,133.28 364.34,133.15 364.48,133.01 364.61,132.88 364.75,132.75 364.89,132.61 365.03,132.48 365.16,132.34 365.30,132.21 365.44,132.08 365.58,131.94 365.72,131.81 365.85,131.68 365.99,131.54 366.13,131.41 366.27,131.27 366.40,131.14 366.54,131.01 366.68,130.87 366.82,130.74 366.96,130.61 367.09,130.47 367.23,130.34 367.37,130.21 367.51,130.07 367.64,129.94 367.78,129.80 367.92,129.67 368.06,129.54 368.19,129.40 368.33,129.27 368.47,129.14 368.60,129.00 368.74,128.87 368.88,128.74 369.02,128.60 369.15,128.47 369.29,128.33 369.43,128.20 369.57,128.07 369.70,127.93 369.84,127.80 369.98,127.67 370.12,127.53 370.25,127.40 370.39,127.26 370.53,127.13 370.66,127.00 370.80,126.86 370.94,126.73 371.08,126.60 371.21,126.46 371.35,126.33 371.49,126.20 371.63,126.06 371.77,125.93 371.93,125.79 372.08,125.66 372.24,125.53 372.40,125.39 372.55,125.26 372.71,125.13 372.87,124.99 373.02,124.86 373.18,124.73 373.34,124.59 373.49,124.46 373.65,124.32 373.81,124.19 373.96,124.06 374.12,123.92 374.28,123.79 374.44,123.66 374.59,123.52 374.75,123.39 374.91,123.25 375.07,123.12 375.22,122.99 375.38,122.85 375.54,122.72 375.70,122.59 375.86,122.45 376.02,122.32 376.18,122.19 376.34,122.05 376.50,121.92 376.66,121.78 376.82,121.65 376.98,121.52 377.14,121.38 377.31,121.25 377.47,121.12 377.63,120.98 377.80,120.85 377.96,120.72 378.12,120.58 378.29,120.45 378.45,120.31 378.62,120.18 378.79,120.05 378.95,119.91 379.12,119.78 379.29,119.65 379.46,119.51 379.63,119.38 379.80,119.24 379.97,119.11 380.15,118.98 380.32,118.84 380.50,118.71 380.67,118.58 380.85,118.44 381.03,118.31 381.21,118.18 381.39,118.04 381.58,117.91 381.76,117.77 381.95,117.64 382.14,117.51 382.33,117.37 382.53,117.24 382.73,117.11 382.93,116.97 383.13,116.84 383.34,116.71 383.55,116.57 383.77,116.44 383.99,116.30 384.22,116.17 384.46,116.04 384.70,115.90 384.96,115.77 385.23,115.64 385.51,115.50 385.81,115.37 386.15,115.23 386.51,115.10 386.94,114.97 387.50,114.83 388.80,114.70 388.80,114.70 390.10,114.83 390.66,114.97 391.09,115.10 391.45,115.23 391.79,115.37 392.09,115.50 392.37,115.64 392.64,115.77 392.90,115.90 393.14,116.04 393.38,116.17 393.61,116.30 393.83,116.44 394.05,116.57 394.26,116.71 394.47,116.84 394.67,116.97 394.87,117.11 395.07,117.24 395.27,117.37 395.46,117.51 395.65,117.64 395.84,117.77 396.02,117.91 396.21,118.04 396.39,118.18 396.57,118.31 396.75,118.44 396.93,118.58 397.10,118.71 397.28,118.84 397.45,118.98 397.63,119.11 397.80,119.24 397.97,119.38 398.14,119.51 398.31,119.65 398.48,119.78 398.65,119.91 398.81,120.05 398.98,120.18 399.15,120.31 399.31,120.45 399.48,120.58 399.64,120.72 399.80,120.85 399.97,120.98 400.13,121.12 400.29,121.25 400.46,121.38 400.62,121.52 400.78,121.65 400.94,121.78 401.10,121.92 401.26,122.05 401.42,122.19 401.58,122.32 401.74,122.45 401.90,122.59 402.06,122.72 402.22,122.85 402.38,122.99 402.53,123.12 402.69,123.25 402.85,123.39 403.01,123.52 403.16,123.66 403.32,123.79 403.48,123.92 403.64,124.06 403.79,124.19 403.95,124.32 404.11,124.46 404.26,124.59 404.42,124.73 404.58,124.86 404.73,124.99 404.89,125.13 405.05,125.26 405.20,125.39 405.36,125.53 405.52,125.66 405.67,125.79 405.83,125.93 405.97,126.06 406.11,126.20 406.25,126.33 406.39,126.46 406.52,126.60 406.66,126.73 406.80,126.86 406.94,127.00 407.07,127.13 407.21,127.26 407.35,127.40 407.48,127.53 407.62,127.67 407.76,127.80 407.90,127.93 408.03,128.07 408.17,128.20 408.31,128.33 408.45,128.47 408.58,128.60 408.72,128.74 408.86,128.87 409.00,129.00 409.13,129.14 409.27,129.27 409.41,129.40 409.54,129.54 409.68,129.67 409.82,129.80 409.96,129.94 410.09,130.07 410.23,130.21 410.37,130.34 410.51,130.47 410.64,130.61 410.78,130.74 410.92,130.87 411.06,131.01 411.20,131.14 411.33,131.27 411.47,131.41 411.61,131.54 411.75,131.68 411.88,131.81 412.02,131.94 412.16,132.08 412.30,132.21 412.44,132.34 412.57,132.48 412.71,132.61 412.85,132.75 412.99,132.88 413.12,133.01 413.26,133.15 413.40,133.28 413.54,133.41 413.68,133.55 413.82,133.68 413.95,133.81 414.09,133.95 414.23,134.08 414.37,134.22 414.51,134.35 414.65,134.48 414.79,134.62 414.92,134.75 415.06,134.88 415.20,135.02 415.34,135.15 415.48,135.28 415.62,135.42 415.76,135.55 415.90,135.69 416.04,135.82 416.18,135.95 416.32,136.09 416.46,136.22 416.60,136.35 416.74,136.49 416.88,136.62 417.02,136.76 417.16,136.89 417.30,137.02 417.44,137.16 417.59,137.29 417.73,137.42 417.87,137.56 418.01,137.69 418.15,137.82 418.30,137.96 418.44,138.09 418.59,138.23 418.73,138.36 418.88,138.49 419.02,138.63 419.17,138.76 419.32,138.89 419.46,139.03 419.61,139.16 419.76,139.29 419.91,139.43 420.07,139.56 420.22,139.70 420.38,139.83 420.54,139.96 420.70,140.10 420.87,140.23 421.04,140.36 421.21,140.50 421.40,140.63 421.59,140.77 421.81,140.90 422.04,141.03 422.34,141.17 423.00,141.30" fill="none" stroke="#000" stroke-width="1.4"/>
<polyline points="354.60,141.30 355.26,141.44 355.56,141.58 355.79,141.72 356.01,141.86 356.20,142.00 356.39,142.14 356.56,142.28 356.73,142.42 356.90,142.56 357.06,142.70 357.22,142.84 357.38,142.98 357.53,143.12 357.69,143.26 357.84,143.40 357.99,143.54 358.14,143.67 358.28,143.81 358.43,143.95 358.58,144.09 358.72,144.23 358.87,144.37 359.01,144.51 359.16,144.65 359.30,144.79 359.45,144.93 359.59,145.07 359.73,145.21 359.87,145.35 360.01,145.49 360.16,145.63 360.30,145.77 360.44,145.91 360.58,146.05 360.72,146.19 360.86,146.33 361.00,146.47 361.14,146.61 361.28,146.75 361.42,146.89 361.56,147.03 361.70,147.17 361.84,147.31 361.98,147.45 362.12,147.59 362.26,147.73 362.40,147.87 362.54,148.01 362.68,148.15 362.81,148.28 362.95,148.42 363.09,148.56 363.23,148.70 363.37,148.84 363.51,148.98 363.65,149.12 363.78,149.26 363.92,149.40 364.06,149.54 364.20,149.68 364.34,149.82 364.48,149.96 364.61,150.10 364.75,150.24 364.89,150.38 365.03,150.52 365.16,150.66 365.30,150.80 365.44,150.94 365.58,151.08 365.72,151.22 365.85,151.36 365.99,151.50 366.13,151.64 366.27,151.78 366.40,151.92 366.54,152.06 366.68,152.20 366.82,152.34 366.96,152.48 367.09,152.62 367.23,152.76 367.37,152.89 367.51,153.03 367.64,153.17 367.78,153.31 367.92,153.45 368.06,153.59 368.19,153.73 368.33,153.87 368.47,154.01 368.60,154.15 368.74,154.29 368.88,154.43 369.02,154.57 369.15,154.71 369.29,154.85 369.43,154.99 369.57,155.13 369.70,155.27 369.84,155.41 369.98,155.55 370.12,155.69 370.25,155.83 370.39,155.97 370.53,156.11 370.66,156.25 370.80,156.39 370.94,156.53 371.08,156.67 371.21,156.81 371.35,156.95 371.49,157.09 371.63,157.23 371.77,157.37 371.93,157.51 372.08,157.64 372.24,157.78 372.40,157.92 372.55,158.06 372.71,158.20 372.87,158.34 373.02,158.48 373.18,158.62 373.34,158.76 373.49,158.90 373.65,159.04 373.81,159.18 373.96,159.32 374.12,159.46 374.28,159.60 374.44,159.74 374.59,159.88 374.75,160.02 374.91,160.16 375.07,160.30 375.22,160.44 375.38,160.58 375.54,160.72 375.70,160.86 375.86,161.00 376.02,161.14 376.18,161.28 376.34,161.42 376.50,161.56 376.66,161.70 376.82,161.84 376.98,161.98 377.14,162.12 377.31,162.25 377.47,162.39 377.63,162.53 377.80,162.67 377.96,162.81 378.12,162.95 378.29,163.09 378.45,163.23 378.62,163.37 378.79,163.51 378.95,163.65 379.12,163.79 379.29,163.93 379.46,164.07 379.63,164.21 379.80,164.35 379.97,164.49 380.15,164.63 380.32,164.77 380.50,164.91 380.67,165.05 380.85,165.19 381.03,165.33 381.21,165.47 381.39,165.61 381.58,165.75 381.76,165.89 381.95,166.03 382.14,166.17 382.33,166.31 382.53,166.45 382.73,166.59 382.93,166.73 383.13,166.86 383.34,167.00 383.55,167.14 383.77,167.28 383.99,167.42 384.22,167.56 384.46,167.70 384.70,167.84 384.96,167.98 385.23,168.12 385.51,168.26 385.81,168.40 386.15,168.54 386.51,168.68 386.94,168.82 387.50,168.96 388.80,169.10 388.80,169.10 390.10,168.96 390.66,168.82 391.09,168.68 391.45,168.54 391.79,168.40 392.09,168.26 392.37,168.12 392.64,167.98 392.90,167.84 393.14,167.70 393.38,167.56 393.61,167.42 393.83,167.28 394.05,167.14 394.26,167.00 394.47,166.86 394.67,166.73 394.87,166.59 395.07,166.45 395.27,166.31 395.46,166.17 395.65,166.03 395.84,165.89 396.02,165.75 396.21,165.61 396.39,165.47 396.57,165.33 396.75,165.19 396.93,165.05 397.10,164.91 397.28,164.77 397.45,164.63 397.63,164.49 397.80,164.35 397.97,164.21 398.14,164.07 398.31,163.93 398.48,163.79 398.65,163.65 398.81,163.51 398.98,163.37 399.15,163.23 399.31,163.09 399.48,162.95 399.64,162.81 399.80,162.67 399.97,162.53 400.13,162.39 400.29,162.25 400.46,162.12 400.62,161.98 400.78,161.84 400.94,161.70 401.10,161.56 401.26,161.42 401.42,161.28 401.58,161.14 401.74,161.00 401.90,160.86 402.06,160.72 402.22,160.58 402.38,160.44 402.53,160.30 402.69,160.16 402.85,160.02 403.01,159.88 403.16,159.74 403.32,159.60 403.48,159.46 403.64,159.32 403.79,159.18 403.95,159.04 404.11,158.90 404.26,158.76 404.42,158.62 404.58,158.48 404.73,158.34 404.89,158.20 405.05,158.06 405.20,157.92 405.36,157.78 405.52,157.64 405.67,157.51 405.83,157.37 405.97,157.23 406.11,157.09 406.25,156.95 406.39,156.81 406.52,156.67 406.66,156.53 406.80,156.39 406.94,156.25 407.07,156.11 407.21,155.97 407.35,155.83 407.48,155.69 407.62,155.55 407.76,155.41 407.90,155.27 408.03,155.13 408.17,154.99 408.31,154.85 408.45,154.71 408.58,154.57 408.72,154.43 408.86,154.29 409.00,154.15 409.13,154.01 409.27,153.87 409.41,153.73 409.54,153.59 409.68,153.45 409.82,153.31 409.96,153.17 410.09,153.03 410.23,152.89 410.37,152.76 410.51,152.62 410.64,152.48 410.78,152.34 410.92,152.20 411.06,152.06 411.20,151.92 411.33,151.78 411.47,151.64 411.61,151.50 411.75,151.36 411.88,151.22 412.02,151.08 412.16,150.94 412.30,150.80 412.44,150.66 412.57,150.52 412.71,150.38 412.85,150.24 412.99,150.10 413.12,149.96 413.26,149.82 413.40,149.68 413.54,149.54 413.68,149.40 413.82,149.26 413.95,149.12 414.09,148.98 414.23,148.84 414.37,148.70 414.51,148.56 414.65,148.42 414.79,148.28 414.92,148.15 415.06,148.01 415.20,147.87 415.34,147.73 415.48,147.59 415.62,147.45 415.76,147.31 415.90,147.17 416.04,147.03 416.18,146.89 416.32,146.75 416.46,146.61 416.60,146.47 416.74,146.33 416.88,146.19 417.02,146.05 417.16,145.91 417.30,145.77 417.44,145.63 417.59,145.49 417.73,145.35 417.87,145.21 418.01,145.07 418.15,144.93 418.30,144.79 418.44,144.65 418.59,144.51 418.73,144.37 418.88,144.23 419.02,144.09 419.17,143.95 419.32,143.81 419.46,143.67 419.61,143.54 419.76,143.40 419.91,143.26 420.07,143.12 420.22,142.98 420.38,142.84 420.54,142.70 420.70,142.56 420.87,142.42 421.04,142.28 421.21,142.14 421.40,142.00 421.59,141.86 421.81,141.72 422.04,141.58 422.34,141.44 423.00,141.30" fill="none" stroke="#000" stroke-width="1.4"/>
<polyline points="375.93,27.81 376.08,27.94 376.24,28.07 376.39,28.20 376.54,28.32 376.70,28.45 376.85,28.58 377.01,28.71 377.16,28.84 377.32,28.96 377.47,29.09 377.63,29.22 377.79,29.35 377.94,29.48 378.10,29.61 378.26,29.73 378.42,29.86 378.58,29.99 378.74,30.12 378.90,30.25 379.06,30.37 379.22,30.50 379.38,30.63 379.55,30.76 379.71,30.89 379.87,31.02 380.04,31.14 380.21,31.27 380.37,31.40 380.54,31.53 380.71,31.66 380.88,31.78 381.06,31.91 381.23,32.04 381.40,32.17 381.58,32.30 381.76,32.42 381.94,32.55 382.12,32.68 382.30,32.81 382.49,32.94 382.68,33.07 382.87,33.19 383.07,33.32 383.27,33.45 383.47,33.58 383.67,33.71 383.89,33.83 384.10,33.96 384.33,34.09 384.56,34.22 384.80,34.35 385.04,34.47 385.31,34.60 385.58,34.73 385.88,34.86 386.20,34.99 386.56,35.12 386.98,35.24 387.52,35.37 388.80,35.50 388.80,35.50 390.08,35.37 390.62,35.24 391.04,35.12 391.40,34.99 391.72,34.86 392.02,34.73 392.29,34.60 392.56,34.47 392.80,34.35 393.04,34.22 393.27,34.09 393.50,33.96 393.71,33.83 393.93,33.71 394.13,33.58 394.33,33.45 394.53,33.32 394.73,33.19 394.92,33.07 395.11,32.94 395.30,32.81 395.48,32.68 395.66,32.55 395.84,32.42 396.02,32.30 396.20,32.17 396.37,32.04 396.54,31.91 396.72,31.78 396.89,31.66 397.06,31.53 397.23,31.40 397.39,31.27 397.56,31.14 397.73,31.02 397.89,30.89 398.05,30.76 398.22,30.63 398.38,30.50 398.54,30.37 398.70,30.25 398.86,30.12 399.02,29.99 399.18,29.86 399.34,29.73 399.50,29.61 399.66,29.48 399.81,29.35 399.97,29.22 400.13,29.09 400.28,28.96 400.44,28.84 400.59,28.71 400.75,28.58 400.90,28.45 401.06,28.32 401.21,28.20 401.36,28.07 401.52,27.94 401.67,27.81" fill="none" stroke="#000" stroke-width="1.4"/>
<rect x="354.6" y="27.7" width="68.40" height="149.90" fill="none" stroke="#000" stroke-width="1.5"/>
<text x="373.4" y="60.5" font-family='"Liberation Sans", sans-serif' font-size="11.5" fill="#12a840" font-weight="normal" font-style="italic" text-anchor="middle" stroke="#12a840" stroke-width="0.45">π</text>
<text x="373.0" y="96.7" font-family='"Liberation Sans", sans-serif' font-size="11.5" fill="#12a840" font-weight="normal" font-style="italic" text-anchor="middle" stroke="#12a840" stroke-width="0.45">0</text>
<text x="373.4" y="127.5" font-family='"Liberation Sans", sans-serif' font-size="11.5" fill="#12a840" font-weight="normal" font-style="italic" text-anchor="middle" stroke="#12a840" stroke-width="0.45">0</text>
<text x="373.1" y="163.9" font-family='"Liberation Sans", sans-serif' font-size="11.5" fill="#12a840" font-weight="normal" font-style="italic" text-anchor="middle" stroke="#12a840" stroke-width="0.45">π</text>
<text x="407.7" y="63.4" font-family='"Liberation Sans", sans-serif' font-size="11.5" fill="#f02424" font-weight="normal" font-style="italic" text-anchor="middle" stroke="#f02424" stroke-width="0.45">7</text>
<text x="407.0" y="93.4" font-family='"Liberation Sans", sans-serif' font-size="11.5" fill="#f02424" font-weight="normal" font-style="italic" text-anchor="middle" stroke="#f02424" stroke-width="0.45">6</text>
<text x="407.0" y="130.8" font-family='"Liberation Sans", sans-serif' font-size="11.5" fill="#f02424" font-weight="normal" font-style="italic" text-anchor="middle" stroke="#f02424" stroke-width="0.45">5</text>
<text x="406.7" y="160.6" font-family='"Liberation Sans", sans-serif' font-size="11.5" fill="#f02424" font-weight="normal" font-style="italic" text-anchor="middle" stroke="#f02424" stroke-width="0.45">4</text>
<path d="M351.80,28.60H354.60 M351.80,51.90H354.60 M351.80,75.20H354.60 M351.80,98.50H354.60 M351.80,121.80H354.60 M351.80,145.10H354.60 M351.80,168.40H354.60" stroke="#000" stroke-width="1"/>
<rect x="441.5" y="33.3" width="68.10" height="15.30" fill="#bf86bf"/>
<rect x="441.5" y="71.8" width="68.10" height="5.30" fill="#00a8e6"/>
<rect x="441.5" y="100.9" width="68.10" height="13.40" fill="#00a8e6"/>
<rect x="441.5" y="137.1" width="68.10" height="9.10" fill="#bf86bf"/>
<rect x="441.5" y="170.0" width="68.10" height="6.70" fill="#bf86bf"/>
<polyline points="441.50,74.60 442.16,74.47 442.45,74.34 442.69,74.20 442.90,74.07 443.09,73.94 443.28,73.81 443.45,73.67 443.62,73.54 443.79,73.41 443.95,73.28 444.11,73.15 444.26,73.01 444.42,72.88 444.57,72.75 444.72,72.62 444.87,72.49 445.02,72.35 445.17,72.22 445.32,72.09 445.46,71.96 445.61,71.82 445.75,71.69 445.89,71.56 446.04,71.43 446.18,71.30 446.32,71.16 446.47,71.03 446.61,70.90 446.75,70.77 446.89,70.64 447.03,70.50 447.17,70.37 447.31,70.24 447.45,70.11 447.59,69.97 447.73,69.84 447.87,69.71 448.01,69.58 448.15,69.45 448.29,69.31 448.43,69.18 448.57,69.05 448.71,68.92 448.85,68.78 448.99,68.65 449.12,68.52 449.26,68.39 449.40,68.26 449.54,68.12 449.68,67.99 449.82,67.86 449.95,67.73 450.09,67.60 450.23,67.46 450.37,67.33 450.51,67.20 450.64,67.07 450.78,66.93 450.92,66.80 451.06,66.67 451.19,66.54 451.33,66.41 451.47,66.27 451.61,66.14 451.74,66.01 451.88,65.88 452.02,65.75 452.16,65.61 452.29,65.48 452.43,65.35 452.57,65.22 452.70,65.08 452.84,64.95 452.98,64.82 453.12,64.69 453.25,64.56 453.39,64.42 453.53,64.29 453.66,64.16 453.80,64.03 453.94,63.89 454.07,63.76 454.21,63.63 454.35,63.50 454.49,63.37 454.62,63.23 454.76,63.10 454.90,62.97 455.03,62.84 455.17,62.71 455.31,62.57 455.44,62.44 455.58,62.31 455.72,62.18 455.85,62.04 455.99,61.91 456.13,61.78 456.26,61.65 456.40,61.52 456.54,61.38 456.67,61.25 456.81,61.12 456.95,60.99 457.08,60.86 457.22,60.72 457.36,60.59 457.49,60.46 457.63,60.33 457.77,60.19 457.90,60.06 458.04,59.93 458.18,59.80 458.31,59.67 458.45,59.53 458.60,59.40 458.75,59.27 458.91,59.14 459.06,59.01 459.22,58.87 459.37,58.74 459.53,58.61 459.69,58.48 459.84,58.34 460.00,58.21 460.15,58.08 460.31,57.95 460.47,57.82 460.62,57.68 460.78,57.55 460.93,57.42 461.09,57.29 461.25,57.15 461.41,57.02 461.56,56.89 461.72,56.76 461.88,56.63 462.03,56.49 462.19,56.36 462.35,56.23 462.51,56.10 462.67,55.97 462.83,55.83 462.98,55.70 463.14,55.57 463.30,55.44 463.46,55.30 463.62,55.17 463.78,55.04 463.95,54.91 464.11,54.78 464.27,54.64 464.43,54.51 464.59,54.38 464.76,54.25 464.92,54.12 465.08,53.98 465.25,53.85 465.41,53.72 465.58,53.59 465.75,53.45 465.91,53.32 466.08,53.19 466.25,53.06 466.42,52.93 466.59,52.79 466.76,52.66 466.93,52.53 467.11,52.40 467.28,52.26 467.46,52.13 467.64,52.00 467.81,51.87 467.99,51.74 468.18,51.60 468.36,51.47 468.54,51.34 468.73,51.21 468.92,51.08 469.11,50.94 469.31,50.81 469.50,50.68 469.70,50.55 469.91,50.41 470.11,50.28 470.32,50.15 470.54,50.02 470.76,49.89 470.99,49.75 471.23,49.62 471.47,49.49 471.73,49.36 471.99,49.23 472.28,49.09 472.58,48.96 472.91,48.83 473.27,48.70 473.70,48.56 474.25,48.43 475.55,48.30 475.55,48.30 476.85,48.43 477.40,48.56 477.83,48.70 478.19,48.83 478.52,48.96 478.82,49.09 479.11,49.23 479.37,49.36 479.63,49.49 479.87,49.62 480.11,49.75 480.34,49.89 480.56,50.02 480.78,50.15 480.99,50.28 481.19,50.41 481.40,50.55 481.60,50.68 481.79,50.81 481.99,50.94 482.18,51.08 482.37,51.21 482.56,51.34 482.74,51.47 482.92,51.60 483.11,51.74 483.29,51.87 483.46,52.00 483.64,52.13 483.82,52.26 483.99,52.40 484.17,52.53 484.34,52.66 484.51,52.79 484.68,52.93 484.85,53.06 485.02,53.19 485.19,53.32 485.35,53.45 485.52,53.59 485.69,53.72 485.85,53.85 486.02,53.98 486.18,54.12 486.34,54.25 486.51,54.38 486.67,54.51 486.83,54.64 486.99,54.78 487.15,54.91 487.32,55.04 487.48,55.17 487.64,55.30 487.80,55.44 487.96,55.57 488.12,55.70 488.27,55.83 488.43,55.97 488.59,56.10 488.75,56.23 488.91,56.36 489.07,56.49 489.22,56.63 489.38,56.76 489.54,56.89 489.69,57.02 489.85,57.15 490.01,57.29 490.17,57.42 490.32,57.55 490.48,57.68 490.63,57.82 490.79,57.95 490.95,58.08 491.10,58.21 491.26,58.34 491.41,58.48 491.57,58.61 491.73,58.74 491.88,58.87 492.04,59.01 492.19,59.14 492.35,59.27 492.50,59.40 492.65,59.53 492.79,59.67 492.92,59.80 493.06,59.93 493.20,60.06 493.33,60.19 493.47,60.33 493.61,60.46 493.74,60.59 493.88,60.72 494.02,60.86 494.15,60.99 494.29,61.12 494.43,61.25 494.56,61.38 494.70,61.52 494.84,61.65 494.97,61.78 495.11,61.91 495.25,62.04 495.38,62.18 495.52,62.31 495.66,62.44 495.79,62.57 495.93,62.71 496.07,62.84 496.20,62.97 496.34,63.10 496.48,63.23 496.61,63.37 496.75,63.50 496.89,63.63 497.03,63.76 497.16,63.89 497.30,64.03 497.44,64.16 497.57,64.29 497.71,64.42 497.85,64.56 497.98,64.69 498.12,64.82 498.26,64.95 498.40,65.08 498.53,65.22 498.67,65.35 498.81,65.48 498.94,65.61 499.08,65.75 499.22,65.88 499.36,66.01 499.49,66.14 499.63,66.27 499.77,66.41 499.91,66.54 500.04,66.67 500.18,66.80 500.32,66.93 500.46,67.07 500.59,67.20 500.73,67.33 500.87,67.46 501.01,67.60 501.15,67.73 501.28,67.86 501.42,67.99 501.56,68.12 501.70,68.26 501.84,68.39 501.98,68.52 502.11,68.65 502.25,68.78 502.39,68.92 502.53,69.05 502.67,69.18 502.81,69.31 502.95,69.45 503.09,69.58 503.23,69.71 503.37,69.84 503.51,69.97 503.65,70.11 503.79,70.24 503.93,70.37 504.07,70.50 504.21,70.64 504.35,70.77 504.49,70.90 504.63,71.03 504.78,71.16 504.92,71.30 505.06,71.43 505.21,71.56 505.35,71.69 505.49,71.82 505.64,71.96 505.78,72.09 505.93,72.22 506.08,72.35 506.23,72.49 506.38,72.62 506.53,72.75 506.68,72.88 506.84,73.01 506.99,73.15 507.15,73.28 507.31,73.41 507.48,73.54 507.65,73.67 507.82,73.81 508.01,73.94 508.20,74.07 508.41,74.20 508.65,74.34 508.94,74.47 509.60,74.60" fill="none" stroke="#000" stroke-width="1.4"/>
<polyline points="441.50,74.60 442.16,74.74 442.45,74.87 442.69,75.01 442.90,75.14 443.09,75.28 443.28,75.41 443.45,75.55 443.62,75.68 443.79,75.82 443.95,75.95 444.11,76.09 444.26,76.22 444.42,76.36 444.57,76.49 444.72,76.63 444.87,76.76 445.02,76.90 445.17,77.03 445.32,77.17 445.46,77.30 445.61,77.44 445.75,77.57 445.89,77.71 446.04,77.84 446.18,77.98 446.32,78.11 446.47,78.25 446.61,78.38 446.75,78.52 446.89,78.66 447.03,78.79 447.17,78.93 447.31,79.06 447.45,79.20 447.59,79.33 447.73,79.47 447.87,79.60 448.01,79.74 448.15,79.87 448.29,80.01 448.43,80.14 448.57,80.28 448.71,80.41 448.85,80.55 448.99,80.68 449.12,80.82 449.26,80.95 449.40,81.09 449.54,81.22 449.68,81.36 449.82,81.49 449.95,81.63 450.09,81.76 450.23,81.90 450.37,82.03 450.51,82.17 450.64,82.31 450.78,82.44 450.92,82.58 451.06,82.71 451.19,82.85 451.33,82.98 451.47,83.12 451.61,83.25 451.74,83.39 451.88,83.52 452.02,83.66 452.16,83.79 452.29,83.93 452.43,84.06 452.57,84.20 452.70,84.33 452.84,84.47 452.98,84.60 453.12,84.74 453.25,84.87 453.39,85.01 453.53,85.14 453.66,85.28 453.80,85.41 453.94,85.55 454.07,85.68 454.21,85.82 454.35,85.95 454.49,86.09 454.62,86.23 454.76,86.36 454.90,86.50 455.03,86.63 455.17,86.77 455.31,86.90 455.44,87.04 455.58,87.17 455.72,87.31 455.85,87.44 455.99,87.58 456.13,87.71 456.26,87.85 456.40,87.98 456.54,88.12 456.67,88.25 456.81,88.39 456.95,88.52 457.08,88.66 457.22,88.79 457.36,88.93 457.49,89.06 457.63,89.20 457.77,89.33 457.90,89.47 458.04,89.60 458.18,89.74 458.31,89.87 458.45,90.01 458.60,90.15 458.75,90.28 458.91,90.42 459.06,90.55 459.22,90.69 459.37,90.82 459.53,90.96 459.69,91.09 459.84,91.23 460.00,91.36 460.15,91.50 460.31,91.63 460.47,91.77 460.62,91.90 460.78,92.04 460.93,92.17 461.09,92.31 461.25,92.44 461.41,92.58 461.56,92.71 461.72,92.85 461.88,92.98 462.03,93.12 462.19,93.25 462.35,93.39 462.51,93.52 462.67,93.66 462.83,93.79 462.98,93.93 463.14,94.07 463.30,94.20 463.46,94.34 463.62,94.47 463.78,94.61 463.95,94.74 464.11,94.88 464.27,95.01 464.43,95.15 464.59,95.28 464.76,95.42 464.92,95.55 465.08,95.69 465.25,95.82 465.41,95.96 465.58,96.09 465.75,96.23 465.91,96.36 466.08,96.50 466.25,96.63 466.42,96.77 466.59,96.90 466.76,97.04 466.93,97.17 467.11,97.31 467.28,97.44 467.46,97.58 467.64,97.72 467.81,97.85 467.99,97.99 468.18,98.12 468.36,98.26 468.54,98.39 468.73,98.53 468.92,98.66 469.11,98.80 469.31,98.93 469.50,99.07 469.70,99.20 469.91,99.34 470.11,99.47 470.32,99.61 470.54,99.74 470.76,99.88 470.99,100.01 471.23,100.15 471.47,100.28 471.73,100.42 471.99,100.55 472.28,100.69 472.58,100.82 472.91,100.96 473.27,101.09 473.70,101.23 474.25,101.36 475.55,101.50 475.55,101.50 476.85,101.36 477.40,101.23 477.83,101.09 478.19,100.96 478.52,100.82 478.82,100.69 479.11,100.55 479.37,100.42 479.63,100.28 479.87,100.15 480.11,100.01 480.34,99.88 480.56,99.74 480.78,99.61 480.99,99.47 481.19,99.34 481.40,99.20 481.60,99.07 481.79,98.93 481.99,98.80 482.18,98.66 482.37,98.53 482.56,98.39 482.74,98.26 482.92,98.12 483.11,97.99 483.29,97.85 483.46,97.72 483.64,97.58 483.82,97.44 483.99,97.31 484.17,97.17 484.34,97.04 484.51,96.90 484.68,96.77 484.85,96.63 485.02,96.50 485.19,96.36 485.35,96.23 485.52,96.09 485.69,95.96 485.85,95.82 486.02,95.69 486.18,95.55 486.34,95.42 486.51,95.28 486.67,95.15 486.83,95.01 486.99,94.88 487.15,94.74 487.32,94.61 487.48,94.47 487.64,94.34 487.80,94.20 487.96,94.07 488.12,93.93 488.27,93.79 488.43,93.66 488.59,93.52 488.75,93.39 488.91,93.25 489.07,93.12 489.22,92.98 489.38,92.85 489.54,92.71 489.69,92.58 489.85,92.44 490.01,92.31 490.17,92.17 490.32,92.04 490.48,91.90 490.63,91.77 490.79,91.63 490.95,91.50 491.10,91.36 491.26,91.23 491.41,91.09 491.57,90.96 491.73,90.82 491.88,90.69 492.04,90.55 492.19,90.42 492.35,90.28 492.50,90.15 492.65,90.01 492.79,89.87 492.92,89.74 493.06,89.60 493.20,89.47 493.33,89.33 493.47,89.20 493.61,89.06 493.74,88.93 493.88,88.79 494.02,88.66 494.15,88.52 494.29,88.39 494.43,88.25 494.56,88.12 494.70,87.98 494.84,87.85 494.97,87.71 495.11,87.58 495.25,87.44 495.38,87.31 495.52,87.17 495.66,87.04 495.79,86.90 495.93,86.77 496.07,86.63 496.20,86.50 496.34,86.36 496.48,86.23 496.61,86.09 496.75,85.95 496.89,85.82 497.03,85.68 497.16,85.55 497.30,85.41 497.44,85.28 497.57,85.14 497.71,85.01 497.85,84.87 497.98,84.74 498.12,84.60 498.26,84.47 498.40,84.33 498.53,84.20 498.67,84.06 498.81,83.93 498.94,83.79 499.08,83.66 499.22,83.52 499.36,83.39 499.49,83.25 499.63,83.12 499.77,82.98 499.91,82.85 500.04,82.71 500.18,82.58 500.32,82.44 500.46,82.31 500.59,82.17 500.73,82.03 500.87,81.90 501.01,81.76 501.15,81.63 501.28,81.49 501.42,81.36 501.56,81.22 501.70,81.09 501.84,80.95 501.98,80.82 502.11,80.68 502.25,80.55 502.39,80.41 502.53,80.28 502.67,80.14 502.81,80.01 502.95,79.87 503.09,79.74 503.23,79.60 503.37,79.47 503.51,79.33 503.65,79.20 503.79,79.06 503.93,78.93 504.07,78.79 504.21,78.66 504.35,78.52 504.49,78.38 504.63,78.25 504.78,78.11 504.92,77.98 505.06,77.84 505.21,77.71 505.35,77.57 505.49,77.44 505.64,77.30 505.78,77.17 505.93,77.03 506.08,76.90 506.23,76.76 506.38,76.63 506.53,76.49 506.68,76.36 506.84,76.22 506.99,76.09 507.15,75.95 507.31,75.82 507.48,75.68 507.65,75.55 507.82,75.41 508.01,75.28 508.20,75.14 508.41,75.01 508.65,74.87 508.94,74.74 509.60,74.60" fill="none" stroke="#000" stroke-width="1.4"/>
<polyline points="441.50,137.60 442.77,137.48 443.30,137.36 443.72,137.25 444.07,137.13 444.39,137.01 444.68,136.89 444.95,136.78 445.20,136.66 445.44,136.54 445.67,136.42 445.89,136.31 446.11,136.19 446.31,136.07 446.51,135.95 446.71,135.84 446.90,135.72 447.09,135.60 447.28,135.48 447.46,135.37 447.63,135.25 447.81,135.13 447.98,135.01 448.15,134.90 448.32,134.78 448.49,134.66 448.65,134.54 448.82,134.43 448.98,134.31 449.14,134.19 449.29,134.07 449.45,133.95 449.61,133.84 449.76,133.72 449.92,133.60 450.07,133.48 450.22,133.37 450.37,133.25 450.52,133.13 450.67,133.01 450.82,132.90 450.96,132.78 451.11,132.66 451.26,132.54 451.40,132.43 451.55,132.31 451.69,132.19 451.83,132.07 451.98,131.96 452.12,131.84 452.26,131.72 452.40,131.60 452.54,131.49 452.68,131.37 452.82,131.25 452.96,131.13 453.10,131.02 453.24,130.90 453.38,130.78 453.52,130.66 453.66,130.54 453.80,130.43 453.93,130.31 454.07,130.19 454.21,130.07 454.34,129.96 454.48,129.84 454.62,129.72 454.75,129.60 454.89,129.49 455.02,129.37 455.16,129.25 455.29,129.13 455.43,129.02 455.56,128.90 455.70,128.78 455.83,128.66 455.97,128.55 456.10,128.43 456.24,128.31 456.37,128.19 456.51,128.08 456.64,127.96 456.77,127.84 456.91,127.72 457.04,127.61 457.17,127.49 457.31,127.37 457.44,127.25 457.58,127.13 457.71,127.02 457.84,126.90 457.98,126.78 458.11,126.66 458.24,126.55 458.38,126.43 458.51,126.31 458.64,126.19 458.76,126.08 458.89,125.96 459.02,125.84 459.15,125.72 459.28,125.61 459.40,125.49 459.53,125.37 459.66,125.25 459.79,125.14 459.92,125.02 460.04,124.90 460.17,124.78 460.30,124.67 460.43,124.55 460.56,124.43 460.68,124.31 460.81,124.19 460.94,124.08 461.07,123.96 461.20,123.84 461.33,123.72 461.46,123.61 461.59,123.49 461.71,123.37 461.84,123.25 461.97,123.14 462.10,123.02 462.23,122.90 462.36,122.78 462.49,122.67 462.62,122.55 462.75,122.43 462.88,122.31 463.01,122.20 463.14,122.08 463.27,121.96 463.41,121.84 463.54,121.73 463.67,121.61 463.80,121.49 463.93,121.37 464.07,121.26 464.20,121.14 464.33,121.02 464.46,120.90 464.60,120.78 464.73,120.67 464.87,120.55 465.00,120.43 465.14,120.31 465.27,120.20 465.41,120.08 465.54,119.96 465.68,119.84 465.82,119.73 465.95,119.61 466.09,119.49 466.23,119.37 466.37,119.26 466.51,119.14 466.65,119.02 466.79,118.90 466.93,118.79 467.07,118.67 467.22,118.55 467.36,118.43 467.51,118.32 467.65,118.20 467.80,118.08 467.95,117.96 468.09,117.85 468.24,117.73 468.39,117.61 468.55,117.49 468.70,117.37 468.85,117.26 469.01,117.14 469.17,117.02 469.33,116.90 469.49,116.79 469.65,116.67 469.82,116.55 469.99,116.43 470.16,116.32 470.33,116.20 470.51,116.08 470.69,115.96 470.88,115.85 471.07,115.73 471.26,115.61 471.46,115.49 471.67,115.38 471.89,115.26 472.11,115.14 472.35,115.02 472.60,114.91 472.87,114.79 473.16,114.67 473.49,114.55 473.88,114.44 474.37,114.32 475.55,114.20 475.55,114.20 476.73,114.32 477.22,114.44 477.61,114.55 477.94,114.67 478.23,114.79 478.50,114.91 478.75,115.02 478.99,115.14 479.21,115.26 479.43,115.38 479.64,115.49 479.84,115.61 480.03,115.73 480.22,115.85 480.41,115.96 480.59,116.08 480.77,116.20 480.94,116.32 481.11,116.43 481.28,116.55 481.45,116.67 481.61,116.79 481.77,116.90 481.93,117.02 482.09,117.14 482.25,117.26 482.40,117.37 482.55,117.49 482.71,117.61 482.86,117.73 483.01,117.85 483.15,117.96 483.30,118.08 483.45,118.20 483.59,118.32 483.74,118.43 483.88,118.55 484.03,118.67 484.17,118.79 484.31,118.90 484.45,119.02 484.59,119.14 484.73,119.26 484.87,119.37 485.01,119.49 485.15,119.61 485.28,119.73 485.42,119.84 485.56,119.96 485.69,120.08 485.83,120.20 485.96,120.31 486.10,120.43 486.23,120.55 486.37,120.67 486.50,120.78 486.64,120.90 486.77,121.02 486.90,121.14 487.03,121.26 487.17,121.37 487.30,121.49 487.43,121.61 487.56,121.73 487.69,121.84 487.83,121.96 487.96,122.08 488.09,122.20 488.22,122.31 488.35,122.43 488.48,122.55 488.61,122.67 488.74,122.78 488.87,122.90 489.00,123.02 489.13,123.14 489.26,123.25 489.39,123.37 489.51,123.49 489.64,123.61 489.77,123.72 489.90,123.84 490.03,123.96 490.16,124.08 490.29,124.19 490.42,124.31 490.54,124.43 490.67,124.55 490.80,124.67 490.93,124.78 491.06,124.90 491.18,125.02 491.31,125.14 491.44,125.25 491.57,125.37 491.70,125.49 491.82,125.61 491.95,125.72 492.08,125.84 492.21,125.96 492.34,126.08 492.46,126.19 492.59,126.31 492.72,126.43 492.86,126.55 492.99,126.66 493.12,126.78 493.26,126.90 493.39,127.02 493.52,127.13 493.66,127.25 493.79,127.37 493.93,127.49 494.06,127.61 494.19,127.72 494.33,127.84 494.46,127.96 494.59,128.08 494.73,128.19 494.86,128.31 495.00,128.43 495.13,128.55 495.27,128.66 495.40,128.78 495.54,128.90 495.67,129.02 495.81,129.13 495.94,129.25 496.08,129.37 496.21,129.49 496.35,129.60 496.48,129.72 496.62,129.84 496.76,129.96 496.89,130.07 497.03,130.19 497.17,130.31 497.30,130.43 497.44,130.54 497.58,130.66 497.72,130.78 497.86,130.90 498.00,131.02 498.14,131.13 498.28,131.25 498.42,131.37 498.56,131.49 498.70,131.60 498.84,131.72 498.98,131.84 499.12,131.96 499.27,132.07 499.41,132.19 499.55,132.31 499.70,132.43 499.84,132.54 499.99,132.66 500.14,132.78 500.28,132.90 500.43,133.01 500.58,133.13 500.73,133.25 500.88,133.37 501.03,133.48 501.18,133.60 501.34,133.72 501.49,133.84 501.65,133.95 501.81,134.07 501.96,134.19 502.12,134.31 502.28,134.43 502.45,134.54 502.61,134.66 502.78,134.78 502.95,134.90 503.12,135.01 503.29,135.13 503.47,135.25 503.64,135.37 503.82,135.48 504.01,135.60 504.20,135.72 504.39,135.84 504.59,135.95 504.79,136.07 504.99,136.19 505.21,136.31 505.43,136.42 505.66,136.54 505.90,136.66 506.15,136.78 506.42,136.89 506.71,137.01 507.03,137.13 507.38,137.25 507.80,137.36 508.33,137.48 509.60,137.60" fill="none" stroke="#000" stroke-width="1.4"/>
<polyline points="441.50,146.10 442.77,146.22 443.30,146.34 443.72,146.46 444.07,146.59 444.39,146.71 444.68,146.83 444.95,146.95 445.20,147.07 445.44,147.19 445.67,147.32 445.89,147.44 446.11,147.56 446.31,147.68 446.51,147.80 446.71,147.92 446.90,148.05 447.09,148.17 447.28,148.29 447.46,148.41 447.63,148.53 447.81,148.65 447.98,148.78 448.15,148.90 448.32,149.02 448.49,149.14 448.65,149.26 448.82,149.38 448.98,149.51 449.14,149.63 449.29,149.75 449.45,149.87 449.61,149.99 449.76,150.11 449.92,150.23 450.07,150.36 450.22,150.48 450.37,150.60 450.52,150.72 450.67,150.84 450.82,150.96 450.96,151.09 451.11,151.21 451.26,151.33 451.40,151.45 451.55,151.57 451.69,151.69 451.83,151.82 451.98,151.94 452.12,152.06 452.26,152.18 452.40,152.30 452.54,152.42 452.68,152.55 452.82,152.67 452.96,152.79 453.10,152.91 453.24,153.03 453.38,153.15 453.52,153.27 453.66,153.40 453.80,153.52 453.93,153.64 454.07,153.76 454.21,153.88 454.34,154.00 454.48,154.13 454.62,154.25 454.75,154.37 454.89,154.49 455.02,154.61 455.16,154.73 455.29,154.86 455.43,154.98 455.56,155.10 455.70,155.22 455.83,155.34 455.97,155.46 456.10,155.59 456.24,155.71 456.37,155.83 456.51,155.95 456.64,156.07 456.77,156.19 456.91,156.32 457.04,156.44 457.17,156.56 457.31,156.68 457.44,156.80 457.58,156.92 457.71,157.04 457.84,157.17 457.98,157.29 458.11,157.41 458.24,157.53 458.38,157.65 458.51,157.77 458.64,157.90 458.76,158.02 458.89,158.14 459.02,158.26 459.15,158.38 459.28,158.50 459.40,158.63 459.53,158.75 459.66,158.87 459.79,158.99 459.92,159.11 460.04,159.23 460.17,159.36 460.30,159.48 460.43,159.60 460.56,159.72 460.68,159.84 460.81,159.96 460.94,160.08 461.07,160.21 461.20,160.33 461.33,160.45 461.46,160.57 461.59,160.69 461.71,160.81 461.84,160.94 461.97,161.06 462.10,161.18 462.23,161.30 462.36,161.42 462.49,161.54 462.62,161.67 462.75,161.79 462.88,161.91 463.01,162.03 463.14,162.15 463.27,162.27 463.41,162.40 463.54,162.52 463.67,162.64 463.80,162.76 463.93,162.88 464.07,163.00 464.20,163.13 464.33,163.25 464.46,163.37 464.60,163.49 464.73,163.61 464.87,163.73 465.00,163.85 465.14,163.98 465.27,164.10 465.41,164.22 465.54,164.34 465.68,164.46 465.82,164.58 465.95,164.71 466.09,164.83 466.23,164.95 466.37,165.07 466.51,165.19 466.65,165.31 466.79,165.44 466.93,165.56 467.07,165.68 467.22,165.80 467.36,165.92 467.51,166.04 467.65,166.17 467.80,166.29 467.95,166.41 468.09,166.53 468.24,166.65 468.39,166.77 468.55,166.89 468.70,167.02 468.85,167.14 469.01,167.26 469.17,167.38 469.33,167.50 469.49,167.62 469.65,167.75 469.82,167.87 469.99,167.99 470.16,168.11 470.33,168.23 470.51,168.35 470.69,168.48 470.88,168.60 471.07,168.72 471.26,168.84 471.46,168.96 471.67,169.08 471.89,169.21 472.11,169.33 472.35,169.45 472.60,169.57 472.87,169.69 473.16,169.81 473.49,169.94 473.88,170.06 474.37,170.18 475.55,170.30 475.55,170.30 476.73,170.18 477.22,170.06 477.61,169.94 477.94,169.81 478.23,169.69 478.50,169.57 478.75,169.45 478.99,169.33 479.21,169.21 479.43,169.08 479.64,168.96 479.84,168.84 480.03,168.72 480.22,168.60 480.41,168.48 480.59,168.35 480.77,168.23 480.94,168.11 481.11,167.99 481.28,167.87 481.45,167.75 481.61,167.62 481.77,167.50 481.93,167.38 482.09,167.26 482.25,167.14 482.40,167.02 482.55,166.89 482.71,166.77 482.86,166.65 483.01,166.53 483.15,166.41 483.30,166.29 483.45,166.17 483.59,166.04 483.74,165.92 483.88,165.80 484.03,165.68 484.17,165.56 484.31,165.44 484.45,165.31 484.59,165.19 484.73,165.07 484.87,164.95 485.01,164.83 485.15,164.71 485.28,164.58 485.42,164.46 485.56,164.34 485.69,164.22 485.83,164.10 485.96,163.98 486.10,163.85 486.23,163.73 486.37,163.61 486.50,163.49 486.64,163.37 486.77,163.25 486.90,163.13 487.03,163.00 487.17,162.88 487.30,162.76 487.43,162.64 487.56,162.52 487.69,162.40 487.83,162.27 487.96,162.15 488.09,162.03 488.22,161.91 488.35,161.79 488.48,161.67 488.61,161.54 488.74,161.42 488.87,161.30 489.00,161.18 489.13,161.06 489.26,160.94 489.39,160.81 489.51,160.69 489.64,160.57 489.77,160.45 489.90,160.33 490.03,160.21 490.16,160.08 490.29,159.96 490.42,159.84 490.54,159.72 490.67,159.60 490.80,159.48 490.93,159.36 491.06,159.23 491.18,159.11 491.31,158.99 491.44,158.87 491.57,158.75 491.70,158.63 491.82,158.50 491.95,158.38 492.08,158.26 492.21,158.14 492.34,158.02 492.46,157.90 492.59,157.77 492.72,157.65 492.86,157.53 492.99,157.41 493.12,157.29 493.26,157.17 493.39,157.04 493.52,156.92 493.66,156.80 493.79,156.68 493.93,156.56 494.06,156.44 494.19,156.32 494.33,156.19 494.46,156.07 494.59,155.95 494.73,155.83 494.86,155.71 495.00,155.59 495.13,155.46 495.27,155.34 495.40,155.22 495.54,155.10 495.67,154.98 495.81,154.86 495.94,154.73 496.08,154.61 496.21,154.49 496.35,154.37 496.48,154.25 496.62,154.13 496.76,154.00 496.89,153.88 497.03,153.76 497.17,153.64 497.30,153.52 497.44,153.40 497.58,153.27 497.72,153.15 497.86,153.03 498.00,152.91 498.14,152.79 498.28,152.67 498.42,152.55 498.56,152.42 498.70,152.30 498.84,152.18 498.98,152.06 499.12,151.94 499.27,151.82 499.41,151.69 499.55,151.57 499.70,151.45 499.84,151.33 499.99,151.21 500.14,151.09 500.28,150.96 500.43,150.84 500.58,150.72 500.73,150.60 500.88,150.48 501.03,150.36 501.18,150.23 501.34,150.11 501.49,149.99 501.65,149.87 501.81,149.75 501.96,149.63 502.12,149.51 502.28,149.38 502.45,149.26 502.61,149.14 502.78,149.02 502.95,148.90 503.12,148.78 503.29,148.65 503.47,148.53 503.64,148.41 503.82,148.29 504.01,148.17 504.20,148.05 504.39,147.92 504.59,147.80 504.79,147.68 504.99,147.56 505.21,147.44 505.43,147.32 505.66,147.19 505.90,147.07 506.15,146.95 506.42,146.83 506.71,146.71 507.03,146.59 507.38,146.46 507.80,146.34 508.33,146.22 509.60,146.10" fill="none" stroke="#000" stroke-width="1.4"/>
<polyline points="463.96,27.73 464.12,27.85 464.27,27.97 464.43,28.09 464.59,28.21 464.74,28.33 464.90,28.45 465.06,28.57 465.21,28.69 465.37,28.81 465.53,28.93 465.69,29.06 465.85,29.18 466.01,29.30 466.17,29.42 466.34,29.54 466.50,29.66 466.66,29.78 466.83,29.90 466.99,30.02 467.16,30.14 467.33,30.26 467.50,30.38 467.67,30.50 467.84,30.62 468.01,30.74 468.19,30.86 468.36,30.98 468.54,31.11 468.72,31.23 468.90,31.35 469.08,31.47 469.27,31.59 469.46,31.71 469.65,31.83 469.84,31.95 470.04,32.07 470.24,32.19 470.45,32.31 470.66,32.43 470.87,32.55 471.10,32.67 471.33,32.79 471.56,32.91 471.81,33.04 472.07,33.16 472.35,33.28 472.64,33.40 472.96,33.52 473.32,33.64 473.74,33.76 474.28,33.88 475.55,34.00 475.55,34.00 476.82,33.88 477.36,33.76 477.78,33.64 478.14,33.52 478.46,33.40 478.75,33.28 479.03,33.16 479.29,33.04 479.54,32.91 479.77,32.79 480.00,32.67 480.23,32.55 480.44,32.43 480.65,32.31 480.86,32.19 481.06,32.07 481.26,31.95 481.45,31.83 481.64,31.71 481.83,31.59 482.02,31.47 482.20,31.35 482.38,31.23 482.56,31.11 482.74,30.98 482.91,30.86 483.09,30.74 483.26,30.62 483.43,30.50 483.60,30.38 483.77,30.26 483.94,30.14 484.11,30.02 484.27,29.90 484.44,29.78 484.60,29.66 484.76,29.54 484.93,29.42 485.09,29.30 485.25,29.18 485.41,29.06 485.57,28.93 485.73,28.81 485.89,28.69 486.04,28.57 486.20,28.45 486.36,28.33 486.51,28.21 486.67,28.09 486.83,27.97 486.98,27.85 487.14,27.73" fill="none" stroke="#000" stroke-width="1.4"/>
<rect x="441.5" y="27.7" width="68.10" height="149.90" fill="none" stroke="#000" stroke-width="1.5"/>
<text x="462.5" y="60.3" font-family='"Liberation Sans", sans-serif' font-size="11.5" fill="#12a840" font-weight="normal" font-style="italic" text-anchor="middle" stroke="#12a840" stroke-width="0.45">0</text>
<text x="462.1" y="96.2" font-family='"Liberation Sans", sans-serif' font-size="11.5" fill="#12a840" font-weight="normal" font-style="italic" text-anchor="middle" stroke="#12a840" stroke-width="0.45">π</text>
<text x="462.3" y="125.8" font-family='"Liberation Sans", sans-serif' font-size="11.5" fill="#12a840" font-weight="normal" font-style="italic" text-anchor="middle" stroke="#12a840" stroke-width="0.45">0</text>
<text x="462.8" y="165.2" font-family='"Liberation Sans", sans-serif' font-size="11.5" fill="#12a840" font-weight="normal" font-style="italic" text-anchor="middle" stroke="#12a840" stroke-width="0.45">π</text>
<text x="494.0" y="63.4" font-family='"Liberation Sans", sans-serif' font-size="11.5" fill="#f02424" font-weight="normal" font-style="italic" text-anchor="middle" stroke="#f02424" stroke-width="0.45">7</text>
<text x="493.4" y="93.2" font-family='"Liberation Sans", sans-serif' font-size="11.5" fill="#f02424" font-weight="normal" font-style="italic" text-anchor="middle" stroke="#f02424" stroke-width="0.45">6</text>
<text x="493.4" y="130.8" font-family='"Liberation Sans", sans-serif' font-size="11.5" fill="#f02424" font-weight="normal" font-style="italic" text-anchor="middle" stroke="#f02424" stroke-width="0.45">5</text>
<text x="493.4" y="161.2" font-family='"Liberation Sans", sans-serif' font-size="11.5" fill="#f02424" font-weight="normal" font-style="italic" text-anchor="middle" stroke="#f02424" stroke-width="0.45">4</text>
<path d="M438.70,28.60H441.50 M438.70,51.90H441.50 M438.70,75.20H441.50 M438.70,98.50H441.50 M438.70,121.80H441.50 M438.70,145.10H441.50 M438.70,168.40H441.50" stroke="#000" stroke-width="1"/>
<path d="M354.60,177.6V180.1 M371.70,177.6V180.1 M388.80,177.6V180.1 M405.90,177.6V180.1 M423.00,177.6V180.1" stroke="#000" stroke-width="1"/>
<text x="353.6" y="190" font-family='"Liberation Sans", sans-serif' font-size="8.5" fill="#000" font-weight="bold" font-style="normal" text-anchor="middle" >-0.5</text>
<text x="388.8" y="190" font-family='"Liberation Sans", sans-serif' font-size="8.5" fill="#000" font-weight="bold" font-style="normal" text-anchor="middle" >0.0</text>
<text x="423.0" y="190" font-family='"Liberation Sans", sans-serif' font-size="8.5" fill="#000" font-weight="bold" font-style="normal" text-anchor="middle" >0.5</text>
<text transform="translate(389.3,204.3) scale(1.09,1)" font-family='"Liberation Sans", sans-serif' font-size="10" fill="#000" font-weight="normal" font-style="normal" text-anchor="middle" >qΛ/(2π)</text>
<path d="M441.50,177.6V180.1 M458.52,177.6V180.1 M475.55,177.6V180.1 M492.58,177.6V180.1 M509.60,177.6V180.1" stroke="#000" stroke-width="1"/>
<text x="440.5" y="190" font-family='"Liberation Sans", sans-serif' font-size="8.5" fill="#000" font-weight="bold" font-style="normal" text-anchor="middle" >-0.5</text>
<text x="475.55" y="190" font-family='"Liberation Sans", sans-serif' font-size="8.5" fill="#000" font-weight="bold" font-style="normal" text-anchor="middle" >0.0</text>
<text x="509.6" y="190" font-family='"Liberation Sans", sans-serif' font-size="8.5" fill="#000" font-weight="bold" font-style="normal" text-anchor="middle" >0.5</text>
<text transform="translate(476.05,204.3) scale(1.09,1)" font-family='"Liberation Sans", sans-serif' font-size="10" fill="#000" font-weight="normal" font-style="normal" text-anchor="middle" >qΛ/(2π)</text>
<text x="428.0" y="45.1" font-family='"Liberation Sans", sans-serif' font-size="11.5" fill="#2b2f9a" font-weight="normal" font-style="italic" text-anchor="middle" stroke="#2b2f9a" stroke-width="0.35">8</text>
<text x="428.0" y="78.2" font-family='"Liberation Sans", sans-serif' font-size="11.5" fill="#2b2f9a" font-weight="normal" font-style="italic" text-anchor="middle" stroke="#2b2f9a" stroke-width="0.35">7</text>
<text x="428.0" y="112.3" font-family='"Liberation Sans", sans-serif' font-size="11.5" fill="#2b2f9a" font-weight="normal" font-style="italic" text-anchor="middle" stroke="#2b2f9a" stroke-width="0.35">6</text>
<text x="428.0" y="146.4" font-family='"Liberation Sans", sans-serif' font-size="11.5" fill="#2b2f9a" font-weight="normal" font-style="italic" text-anchor="middle" stroke="#2b2f9a" stroke-width="0.35">5</text>
<text x="428.0" y="177.5" font-family='"Liberation Sans", sans-serif' font-size="11.5" fill="#2b2f9a" font-weight="normal" font-style="italic" text-anchor="middle" stroke="#2b2f9a" stroke-width="0.35">4</text>
<text x="513.7" y="45.1" font-family='"Liberation Sans", sans-serif' font-size="11.5" fill="#2b2f9a" font-weight="normal" font-style="italic" text-anchor="middle" stroke="#2b2f9a" stroke-width="0.35">8</text>
<text x="513.7" y="78.2" font-family='"Liberation Sans", sans-serif' font-size="11.5" fill="#2b2f9a" font-weight="normal" font-style="italic" text-anchor="middle" stroke="#2b2f9a" stroke-width="0.35">7</text>
<text x="513.7" y="112.3" font-family='"Liberation Sans", sans-serif' font-size="11.5" fill="#2b2f9a" font-weight="normal" font-style="italic" text-anchor="middle" stroke="#2b2f9a" stroke-width="0.35">6</text>
<text x="513.7" y="146.4" font-family='"Liberation Sans", sans-serif' font-size="11.5" fill="#2b2f9a" font-weight="normal" font-style="italic" text-anchor="middle" stroke="#2b2f9a" stroke-width="0.35">5</text>
<text x="513.7" y="177.5" font-family='"Liberation Sans", sans-serif' font-size="11.5" fill="#2b2f9a" font-weight="normal" font-style="italic" text-anchor="middle" stroke="#2b2f9a" stroke-width="0.35">4</text>
<rect x="69.4" y="235.4" width="190.60" height="79.20" fill="url(#gup)"/>
<rect x="69.4" y="314.6" width="190.60" height="78.00" fill="url(#gdn)"/>
<polyline points="69.4,314.20000000000005 151.4,314.20000000000005 177.8,247.3 177.8,314.20000000000005 260.0,314.20000000000005" fill="none" stroke="#25c8b6" stroke-width="1.5"/>
<polyline points="69.4,315.0 151.4,315.0 151.4,384.7 177.8,315.0 260.0,315.0" fill="none" stroke="#f2ea1e" stroke-width="1.5"/>
<path d="M69.4,314.6H260.0" stroke="#555" stroke-width="1" stroke-dasharray="1.3,1.6" opacity="0.8"/>
<rect x="69.4" y="235.4" width="190.60" height="157.20" fill="none" stroke="#222" stroke-width="1.1"/>
<path d="M69.4,235.40h2.5 M260.0,235.40h-2.5 M69.4,251.24h2.5 M260.0,251.24h-2.5 M69.4,267.08h2.5 M260.0,267.08h-2.5 M69.4,282.92h2.5 M260.0,282.92h-2.5 M69.4,298.76h2.5 M260.0,298.76h-2.5 M69.4,332.00h2.5 M260.0,332.00h-2.5 M69.4,349.40h2.5 M260.0,349.40h-2.5 M69.4,366.80h2.5 M260.0,366.80h-2.5 M69.4,384.20h2.5 M260.0,384.20h-2.5 M69.4,314.60h2.5 M260.0,314.60h-2.5 M69.4,306.68h1.8 M260.0,306.68h-1.8 M69.4,290.84h1.8 M260.0,290.84h-1.8 M69.4,275.00h1.8 M260.0,275.00h-1.8 M69.4,259.16h1.8 M260.0,259.16h-1.8 M69.4,243.32h1.8 M260.0,243.32h-1.8 M69.4,323.30h1.8 M260.0,323.30h-1.8 M69.4,340.70h1.8 M260.0,340.70h-1.8 M69.4,358.10h1.8 M260.0,358.10h-1.8 M69.4,375.50h1.8 M260.0,375.50h-1.8 M69.40,235.4v2.5 M69.40,392.6v-2.5 M88.46,235.4v1.5 M88.46,392.6v-1.5 M107.52,235.4v2.5 M107.52,392.6v-2.5 M126.58,235.4v1.5 M126.58,392.6v-1.5 M145.64,235.4v2.5 M145.64,392.6v-2.5 M164.70,235.4v1.5 M164.70,392.6v-1.5 M183.76,235.4v2.5 M183.76,392.6v-2.5 M202.82,235.4v1.5 M202.82,392.6v-1.5 M221.88,235.4v2.5 M221.88,392.6v-2.5 M240.94,235.4v1.5 M240.94,392.6v-1.5 M260.00,235.4v2.5 M260.00,392.6v-2.5" stroke="#222" stroke-width="0.9"/>
<text x="66.9" y="238.4" font-family='"Liberation Serif", serif' font-size="8.5" fill="#2bc4a6" font-weight="bold" font-style="normal" text-anchor="end" >10</text>
<text x="66.9" y="254.24" font-family='"Liberation Serif", serif' font-size="8.5" fill="#2bc4a6" font-weight="bold" font-style="normal" text-anchor="end" >8.0</text>
<text x="66.9" y="270.08" font-family='"Liberation Serif", serif' font-size="8.5" fill="#2bc4a6" font-weight="bold" font-style="normal" text-anchor="end" >6.0</text>
<text x="66.9" y="285.92" font-family='"Liberation Serif", serif' font-size="8.5" fill="#2bc4a6" font-weight="bold" font-style="normal" text-anchor="end" >4.0</text>
<text x="66.9" y="301.76" font-family='"Liberation Serif", serif' font-size="8.5" fill="#2bc4a6" font-weight="bold" font-style="normal" text-anchor="end" >2.0</text>
<text x="66.9" y="335.0" font-family='"Liberation Serif", serif' font-size="8.5" fill="#e5a526" font-weight="bold" font-style="normal" text-anchor="end" >-0.5</text>
<text x="66.9" y="352.40000000000003" font-family='"Liberation Serif", serif' font-size="8.5" fill="#e5a526" font-weight="bold" font-style="normal" text-anchor="end" >-1.0</text>
<text x="66.9" y="369.8" font-family='"Liberation Serif", serif' font-size="8.5" fill="#e5a526" font-weight="bold" font-style="normal" text-anchor="end" >-1.5</text>
<text x="66.9" y="387.20000000000005" font-family='"Liberation Serif", serif' font-size="8.5" fill="#e5a526" font-weight="bold" font-style="normal" text-anchor="end" >-2.0</text>
<text x="66.9" y="317.6" font-family='"Liberation Serif", serif' font-size="8.5" fill="#111" font-weight="bold" font-style="normal" text-anchor="end" >0.0</text>
<text x="70.2" y="403.5" font-family='"Liberation Serif", serif' font-size="9.5" fill="#000" font-weight="normal" font-style="normal" text-anchor="middle" >0.8</text>
<text x="108.32000000000001" y="403.5" font-family='"Liberation Serif", serif' font-size="9.5" fill="#000" font-weight="normal" font-style="normal" text-anchor="middle" >0.9</text>
<text x="146.44" y="403.5" font-family='"Liberation Serif", serif' font-size="9.5" fill="#000" font-weight="normal" font-style="normal" text-anchor="middle" >1.0</text>
<text x="184.56" y="403.5" font-family='"Liberation Serif", serif' font-size="9.5" fill="#000" font-weight="normal" font-style="normal" text-anchor="middle" >1.1</text>
<text x="222.68" y="403.5" font-family='"Liberation Serif", serif' font-size="9.5" fill="#000" font-weight="normal" font-style="normal" text-anchor="middle" >1.2</text>
<text x="260.8" y="403.5" font-family='"Liberation Serif", serif' font-size="9.5" fill="#000" font-weight="normal" font-style="normal" text-anchor="middle" >1.3</text>
<text x="165.7" y="420.2" font-family='"Liberation Serif", serif' font-size="14" fill="#000" font-weight="normal" font-style="italic" text-anchor="middle" letter-spacing="0.4" stroke="#000" stroke-width="0.35">α (degree)</text>
<text x="188" y="287" font-family='"Liberation Serif", serif' font-size="20" fill="#25c8b6" stroke="#25c8b6" stroke-width="0.3"><tspan font-style="italic" font-size="18" dy="-3">μ</tspan><tspan font-size="9.5" font-style="italic" dy="4" dx="1">eff</tspan><tspan dy="-1" dx="3.5" font-size="20">&gt;</tspan><tspan dx="2" font-size="20">0</tspan></text>
<text x="172" y="358" font-family='"Liberation Serif", serif' font-size="20" fill="#f2ea1e" stroke="#f2ea1e" stroke-width="0.3"><tspan font-style="italic" font-size="18" dy="-3">ε</tspan><tspan font-size="9.5" font-style="italic" dy="4" dx="1">eff</tspan><tspan dy="-1" dx="3.5" font-size="20">&lt;</tspan><tspan dx="2" font-size="20">0</tspan></text>
<text x="85.5" y="369.5" font-family='"Liberation Serif", serif' font-size="14.8" fill="#000" stroke="#000" stroke-width="0.1">(CWC)<tspan font-size="9" dx="0.5">10</tspan></text>
<text x="17.2" y="226.0" font-family='"Liberation Serif", serif' font-size="22" fill="#000" font-weight="normal" font-style="normal" text-anchor="start" >(c)</text>
<text transform="translate(41.2,272.5) rotate(-90)" font-family='"Liberation Serif", serif' font-size="15" fill="#2bc4a6" stroke="#2bc4a6" stroke-width="0.25" text-anchor="middle"><tspan font-style="italic" font-size="18">μ</tspan><tspan font-size="10" font-style="italic" dy="4">eff</tspan><tspan dy="-4" font-size="15"> </tspan><tspan font-size="18">×</tspan><tspan font-size="15"> 10</tspan><tspan font-size="9.5" dy="-7">3</tspan></text>
<text transform="translate(41.2,356.2) rotate(-90)" font-family='"Liberation Serif", serif' font-size="15" fill="#e5a526" stroke="#e5a526" stroke-width="0.25" text-anchor="middle"><tspan font-style="italic" font-size="18">ε</tspan><tspan font-size="10" font-style="italic" dy="4">eff</tspan><tspan dy="-4" font-size="15"> </tspan><tspan font-size="18">×</tspan><tspan font-size="15"> 10</tspan><tspan font-size="9.5" dy="-7">4</tspan></text>
<rect x="320.7" y="234.6" width="191.00" height="79.00" fill="url(#gup)"/>
<rect x="320.7" y="313.6" width="191.00" height="77.70" fill="url(#gdn)"/>
<polyline points="320.7,313.20000000000005 418.6,313.20000000000005 444.4,246.9 444.4,313.20000000000005 511.7,313.20000000000005" fill="none" stroke="#f2ea1e" stroke-width="1.5"/>
<polyline points="320.7,314.0 418.6,314.0 418.6,376.6 444.4,314.0 511.7,314.0" fill="none" stroke="#25c8b6" stroke-width="1.5"/>
<path d="M320.7,313.6H511.7" stroke="#555" stroke-width="1" stroke-dasharray="1.3,1.6" opacity="0.8"/>
<rect x="320.7" y="234.6" width="191.00" height="156.70" fill="none" stroke="#222" stroke-width="1.1"/>
<path d="M320.7,243.30h2.5 M511.7,243.30h-2.5 M320.7,260.85h2.5 M511.7,260.85h-2.5 M320.7,278.40h2.5 M511.7,278.40h-2.5 M320.7,295.95h2.5 M511.7,295.95h-2.5 M320.7,329.02h2.5 M511.7,329.02h-2.5 M320.7,344.44h2.5 M511.7,344.44h-2.5 M320.7,359.86h2.5 M511.7,359.86h-2.5 M320.7,375.28h2.5 M511.7,375.28h-2.5 M320.7,390.70h2.5 M511.7,390.70h-2.5 M320.7,313.60h2.5 M511.7,313.60h-2.5 M320.7,304.78h1.8 M511.7,304.78h-1.8 M320.7,287.13h1.8 M511.7,287.13h-1.8 M320.7,269.48h1.8 M511.7,269.48h-1.8 M320.7,251.83h1.8 M511.7,251.83h-1.8 M320.7,321.31h1.8 M511.7,321.31h-1.8 M320.7,336.73h1.8 M511.7,336.73h-1.8 M320.7,352.15h1.8 M511.7,352.15h-1.8 M320.7,367.57h1.8 M511.7,367.57h-1.8 M320.7,382.99h1.8 M511.7,382.99h-1.8 M320.70,234.6v2.5 M320.70,391.3v-2.5 M339.80,234.6v1.5 M339.80,391.3v-1.5 M358.90,234.6v2.5 M358.90,391.3v-2.5 M378.00,234.6v1.5 M378.00,391.3v-1.5 M397.10,234.6v2.5 M397.10,391.3v-2.5 M416.20,234.6v1.5 M416.20,391.3v-1.5 M435.30,234.6v2.5 M435.30,391.3v-2.5 M454.40,234.6v1.5 M454.40,391.3v-1.5 M473.50,234.6v2.5 M473.50,391.3v-2.5 M492.60,234.6v1.5 M492.60,391.3v-1.5 M511.70,234.6v2.5 M511.70,391.3v-2.5" stroke="#222" stroke-width="0.9"/>
<text x="318.2" y="246.3" font-family='"Liberation Serif", serif' font-size="8.5" fill="#e5a526" font-weight="bold" font-style="normal" text-anchor="end" >2.0</text>
<text x="318.2" y="263.85" font-family='"Liberation Serif", serif' font-size="8.5" fill="#e5a526" font-weight="bold" font-style="normal" text-anchor="end" >1.5</text>
<text x="318.2" y="281.40000000000003" font-family='"Liberation Serif", serif' font-size="8.5" fill="#e5a526" font-weight="bold" font-style="normal" text-anchor="end" >1.0</text>
<text x="318.2" y="298.95000000000005" font-family='"Liberation Serif", serif' font-size="8.5" fill="#e5a526" font-weight="bold" font-style="normal" text-anchor="end" >0.5</text>
<text x="318.2" y="332.02000000000004" font-family='"Liberation Serif", serif' font-size="8.5" fill="#2bc4a6" font-weight="bold" font-style="normal" text-anchor="end" >-2.0</text>
<text x="318.2" y="347.44" font-family='"Liberation Serif", serif' font-size="8.5" fill="#2bc4a6" font-weight="bold" font-style="normal" text-anchor="end" >-4.0</text>
<text x="318.2" y="362.86" font-family='"Liberation Serif", serif' font-size="8.5" fill="#2bc4a6" font-weight="bold" font-style="normal" text-anchor="end" >-6.0</text>
<text x="318.2" y="378.28000000000003" font-family='"Liberation Serif", serif' font-size="8.5" fill="#2bc4a6" font-weight="bold" font-style="normal" text-anchor="end" >-8.0</text>
<text x="318.2" y="393.70000000000005" font-family='"Liberation Serif", serif' font-size="8.5" fill="#2bc4a6" font-weight="bold" font-style="normal" text-anchor="end" >-10</text>
<text x="318.2" y="316.6" font-family='"Liberation Serif", serif' font-size="8.5" fill="#111" font-weight="bold" font-style="normal" text-anchor="end" >0.0</text>
<text x="321.5" y="402.5" font-family='"Liberation Serif", serif' font-size="9.5" fill="#000" font-weight="normal" font-style="normal" text-anchor="middle" >0.8</text>
<text x="359.7" y="402.5" font-family='"Liberation Serif", serif' font-size="9.5" fill="#000" font-weight="normal" font-style="normal" text-anchor="middle" >0.9</text>
<text x="397.90000000000003" y="402.5" font-family='"Liberation Serif", serif' font-size="9.5" fill="#000" font-weight="normal" font-style="normal" text-anchor="middle" >1.0</text>
<text x="436.09999999999997" y="402.5" font-family='"Liberation Serif", serif' font-size="9.5" fill="#000" font-weight="normal" font-style="normal" text-anchor="middle" >1.1</text>
<text x="474.3" y="402.5" font-family='"Liberation Serif", serif' font-size="9.5" fill="#000" font-weight="normal" font-style="normal" text-anchor="middle" >1.2</text>
<text x="512.5" y="402.5" font-family='"Liberation Serif", serif' font-size="9.5" fill="#000" font-weight="normal" font-style="normal" text-anchor="middle" >1.3</text>
<text x="417.2" y="417.6" font-family='"Liberation Serif", serif' font-size="14" fill="#000" font-weight="normal" font-style="italic" text-anchor="middle" letter-spacing="0.4" stroke="#000" stroke-width="0.35">α (degree)</text>
<text x="451" y="288" font-family='"Liberation Serif", serif' font-size="20" fill="#f2ea1e" stroke="#f2ea1e" stroke-width="0.3"><tspan font-style="italic" font-size="18" dy="-3">ε</tspan><tspan font-size="9.5" font-style="italic" dy="4" dx="1">eff</tspan><tspan dy="-1" dx="3.5" font-size="20">&gt;</tspan><tspan dx="2" font-size="20">0</tspan></text>
<text x="437" y="365" font-family='"Liberation Serif", serif' font-size="20" fill="#25c8b6" stroke="#25c8b6" stroke-width="0.3"><tspan font-style="italic" font-size="18" dy="-3">μ</tspan><tspan font-size="9.5" font-style="italic" dy="4" dx="1">eff</tspan><tspan dy="-1" dx="3.5" font-size="20">&lt;</tspan><tspan dx="2" font-size="20">0</tspan></text>
<text x="334" y="371.5" font-family='"Liberation Serif", serif' font-size="14.8" fill="#000" stroke="#000" stroke-width="0.1">(WCW)<tspan font-size="9" dx="0.5">10</tspan></text>
<text x="282.0" y="228.3" font-family='"Liberation Serif", serif' font-size="22" fill="#000" font-weight="normal" font-style="normal" text-anchor="start" >(d)</text>
<text transform="translate(295.0,274.7) rotate(-90)" font-family='"Liberation Serif", serif' font-size="15" fill="#e5a526" stroke="#e5a526" stroke-width="0.25" text-anchor="middle"><tspan font-style="italic" font-size="18">ε</tspan><tspan font-size="10" font-style="italic" dy="4">eff</tspan><tspan dy="-4" font-size="15"> </tspan><tspan font-size="18">×</tspan><tspan font-size="15"> 10</tspan><tspan font-size="9.5" dy="-7">4</tspan></text>
<text transform="translate(295.0,354.0) rotate(-90)" font-family='"Liberation Serif", serif' font-size="15" fill="#2bc4a6" stroke="#2bc4a6" stroke-width="0.25" text-anchor="middle"><tspan font-style="italic" font-size="18">μ</tspan><tspan font-size="10" font-style="italic" dy="4">eff</tspan><tspan dy="-4" font-size="15"> </tspan><tspan font-size="18">×</tspan><tspan font-size="15"> 10</tspan><tspan font-size="9.5" dy="-7">3</tspan></text>
<text x="17.2" y="419.0" font-family='"Liberation Serif", serif' font-size="22" fill="#000" font-weight="normal" font-style="normal" text-anchor="start" >(e)</text>
<path d="M93.42,435.0V575.6 M110.94,435.0V575.6 M128.46,435.0V575.6 M145.98,435.0V575.6 M163.50,435.0V575.6 M181.02,435.0V575.6 M198.54,435.0V575.6 M216.06,435.0V575.6 M233.58,435.0V575.6 M75.9,452.57H251.1 M75.9,470.15H251.1 M75.9,487.73H251.1 M75.9,505.30H251.1 M75.9,522.88H251.1 M75.9,540.45H251.1 M75.9,558.02H251.1" stroke="#efefef" stroke-width="0.8"/>
<rect x="157.2" y="435.0" width="28.5" height="140.60" fill="#c7e0f3"/>
<path d="M170.3,435.0V575.6" stroke="#3a7fd0" stroke-width="1" stroke-dasharray="1.5,1.2"/>
<polyline points="75.90,518.60 76.68,517.52 77.71,516.09 78.95,514.37 80.32,512.48 81.76,510.47 83.21,508.45 84.62,506.50 85.90,504.70 87.15,502.93 88.47,501.05 89.80,499.14 91.11,497.26 92.35,495.49 93.48,493.89 94.44,492.54 95.20,491.50 95.72,490.79 96.02,490.35 96.17,490.14 96.19,490.11 96.16,490.23 96.12,490.44 96.11,490.71 96.20,491.00 96.36,491.35 96.53,491.82 96.71,492.38 96.90,493.03 97.09,493.74 97.27,494.48 97.44,495.24 97.60,496.00 97.74,496.72 97.86,497.41 97.97,498.10 98.08,498.84 98.19,499.66 98.31,500.60 98.44,501.70 98.60,503.00 98.78,504.61 98.98,506.54 99.20,508.68 99.42,510.92 99.65,513.14 99.88,515.24 100.10,517.09 100.30,518.60 100.49,519.79 100.67,520.77 100.84,521.57 101.01,522.22 101.18,522.73 101.35,523.14 101.52,523.45 101.70,523.70 101.81,523.93 101.83,524.15 101.80,524.30 101.80,524.33 101.88,524.18 102.10,523.81 102.52,523.17 103.20,522.20 104.19,520.82 105.46,519.03 106.93,516.94 108.54,514.64 110.22,512.23 111.90,509.81 113.52,507.47 115.00,505.30 116.44,503.17 117.94,500.91 119.45,498.62 120.92,496.38 122.32,494.26 123.57,492.35 124.65,490.74 125.50,489.50 126.08,488.67 126.42,488.19 126.57,487.99 126.59,488.01 126.54,488.19 126.47,488.45 126.44,488.74 126.50,489.00 126.63,489.20 126.75,489.38 126.87,489.60 126.99,489.91 127.12,490.35 127.27,490.98 127.42,491.85 127.60,493.00 127.80,494.52 128.02,496.41 128.26,498.55 128.51,500.88 128.77,503.27 129.02,505.66 129.27,507.93 129.50,510.00 129.72,512.01 129.92,514.11 130.13,516.22 130.33,518.25 130.53,520.13 130.74,521.77 130.96,523.08 131.20,524.00 131.29,524.69 131.17,525.32 130.96,525.76 130.80,525.90 130.84,525.61 131.21,524.78 132.05,523.28 133.50,521.00 135.66,517.73 138.45,513.49 141.71,508.52 145.30,503.04 149.07,497.28 152.88,491.47 156.57,485.83 160.00,480.60 163.41,475.40 167.04,469.86 170.76,464.19 174.41,458.63 177.85,453.37 180.94,448.65 183.54,444.69 185.50,441.70 185.70,568.80 186.03,568.18 186.46,567.32 186.98,566.31 187.56,565.19 188.17,564.03 188.80,562.91 189.41,561.88 190.00,561.00 190.59,560.22 191.22,559.44 191.87,558.70 192.53,558.02 193.15,557.42 193.74,556.93 194.26,556.58 194.70,556.40 195.04,556.40 195.31,556.55 195.51,556.84 195.67,557.25 195.80,557.74 195.92,558.30 196.05,558.89 196.20,559.50 196.37,560.20 196.55,561.06 196.72,562.01 196.89,562.99 197.05,563.95 197.19,564.83 197.31,565.57 197.40,566.10 197.70,444.40 197.81,445.25 197.95,446.41 198.12,447.79 198.31,449.31 198.52,450.87 198.74,452.40 198.97,453.81 199.20,455.00 199.44,456.05 199.68,457.08 199.93,458.06 200.20,458.96 200.48,459.76 200.77,460.43 201.08,460.95 201.40,461.30 201.69,461.53 201.93,461.68 202.15,461.72 202.40,461.62 202.72,461.33 203.15,460.82 203.73,460.06 204.50,459.00 205.57,457.45 206.95,455.34 208.53,452.89 210.19,450.26 211.83,447.65 213.34,445.24 214.60,443.23 215.50,441.80 215.50,570.20 215.84,569.56 216.28,568.71 216.81,567.70 217.39,566.58 218.03,565.39 218.69,564.20 219.35,563.05 220.00,562.00 220.68,560.94 221.43,559.80 222.22,558.61 223.02,557.46 223.80,556.40 224.52,555.50 225.17,554.81 225.70,554.40 226.11,554.27 226.43,554.37 226.67,554.67 226.85,555.13 227.00,555.73 227.15,556.42 227.31,557.19 227.50,558.00 227.73,558.97 227.97,560.18 228.22,561.55 228.46,562.98 228.69,564.37 228.90,565.65 229.07,566.73 229.20,567.50 229.70,448.40 229.80,449.18 229.92,450.25 230.07,451.53 230.23,452.94 230.41,454.37 230.60,455.75 230.80,456.99 231.00,458.00 231.20,458.83 231.40,459.59 231.62,460.27 231.84,460.87 232.07,461.37 232.33,461.76 232.60,462.04 232.90,462.20 233.17,462.29 233.40,462.35 233.61,462.34 233.86,462.20 234.18,461.89 234.61,461.37 235.21,460.59 236.00,459.50 237.11,457.91 238.53,455.78 240.17,453.29 241.89,450.63 243.60,448.00 245.16,445.57 246.46,443.54 247.40,442.10 247.40,570.00 247.71,569.44 248.15,568.64 248.68,567.68 249.25,566.65 249.82,565.62 250.35,564.66 250.79,563.86 251.10,563.30" fill="none" stroke="#d24ad6" stroke-width="1.4" stroke-linejoin="round"/>
<polyline points="75.90,504.00 76.12,503.69 76.41,503.26 76.76,502.74 77.15,502.18 77.56,501.61 77.99,501.06 78.40,500.58 78.80,500.20 79.18,499.87 79.57,499.55 79.96,499.25 80.35,498.99 80.75,498.81 81.16,498.72 81.57,498.74 82.00,498.90 82.44,499.20 82.91,499.61 83.39,500.12 83.87,500.73 84.35,501.43 84.82,502.22 85.27,503.07 85.70,504.00 86.10,505.06 86.46,506.29 86.81,507.64 87.15,509.06 87.49,510.47 87.84,511.84 88.20,513.10 88.60,514.20 89.04,515.18 89.51,516.10 90.00,516.96 90.50,517.75 90.99,518.46 91.47,519.08 91.91,519.59 92.30,520.00 92.62,520.28 92.88,520.43 93.10,520.47 93.31,520.43 93.51,520.32 93.75,520.17 94.04,519.99 94.40,519.80 94.85,519.55 95.39,519.19 95.98,518.76 96.59,518.30 97.21,517.86 97.80,517.49 98.34,517.22 98.80,517.10 99.19,517.10 99.52,517.17 99.82,517.31 100.08,517.53 100.32,517.83 100.55,518.23 100.77,518.71 101.00,519.30 101.23,520.00 101.44,520.81 101.65,521.71 101.84,522.71 102.03,523.77 102.20,524.90 102.36,526.08 102.50,527.30 102.62,528.59 102.70,529.96 102.76,531.42 102.81,532.92 102.86,534.45 102.94,535.99 103.05,537.51 103.20,539.00 103.40,540.52 103.63,542.11 103.88,543.74 104.16,545.35 104.46,546.90 104.77,548.34 105.08,549.62 105.40,550.70 105.72,551.56 106.06,552.24 106.40,552.77 106.76,553.19 107.12,553.53 107.50,553.82 107.89,554.10 108.30,554.40 108.73,554.66 109.20,554.82 109.69,554.93 110.19,555.01 110.69,555.11 111.16,555.24 111.60,555.46 112.00,555.80 112.35,556.24 112.66,556.74 112.94,557.31 113.20,557.93 113.45,558.61 113.69,559.33 113.94,560.09 114.20,560.90 114.48,561.82 114.78,562.90 115.09,564.07 115.39,565.27 115.67,566.42 115.93,567.47 116.14,568.35 116.30,569.00 116.60,444.30 116.70,444.75 116.82,445.37 116.97,446.10 117.13,446.91 117.32,447.74 117.53,448.53 117.75,449.23 118.00,449.80 118.26,450.28 118.55,450.73 118.85,451.14 119.17,451.49 119.51,451.77 119.88,451.96 120.28,452.04 120.70,452.00 121.16,451.81 121.65,451.48 122.17,451.04 122.72,450.51 123.28,449.92 123.85,449.29 124.43,448.64 125.00,448.00 125.61,447.30 126.28,446.50 126.97,445.63 127.67,444.75 128.33,443.90 128.93,443.12 129.43,442.48 129.80,442.00 130.20,567.50 130.57,566.99 131.05,566.29 131.63,565.46 132.27,564.54 132.96,563.58 133.66,562.64 134.35,561.77 135.00,561.00 135.65,560.28 136.34,559.54 137.05,558.80 137.76,558.10 138.44,557.48 139.09,556.96 139.69,556.59 140.20,556.40 140.63,556.39 140.99,556.52 141.30,556.78 141.56,557.16 141.80,557.64 142.03,558.20 142.26,558.83 142.50,559.50 142.76,560.32 143.03,561.34 143.29,562.49 143.54,563.69 143.78,564.87 143.99,565.95 144.16,566.85 144.30,567.50 145.20,444.30 145.34,444.85 145.52,445.60 145.73,446.51 145.97,447.50 146.23,448.51 146.49,449.47 146.75,450.32 147.00,451.00 147.23,451.56 147.44,452.07 147.65,452.54 147.86,452.92 148.09,453.22 148.35,453.41 148.65,453.48 149.00,453.40 149.40,453.15 149.86,452.72 150.36,452.15 150.88,451.48 151.42,450.75 151.96,449.98 152.49,449.22 153.00,448.50 153.52,447.75 154.07,446.92 154.64,446.03 155.20,445.14 155.73,444.29 156.20,443.52 156.60,442.88 156.90,442.40 157.40,568.10 157.82,567.37 158.36,566.41 159.01,565.27 159.73,563.99 160.51,562.63 161.34,561.23 162.17,559.84 163.00,558.50 163.85,557.18 164.74,555.83 165.67,554.44 166.63,553.03 167.60,551.61 168.58,550.20 169.55,548.79 170.50,547.40 171.44,546.03 172.37,544.67 173.30,543.31 174.24,541.95 175.17,540.59 176.11,539.23 177.05,537.87 178.00,536.50 178.98,535.09 179.99,533.62 181.02,532.14 182.05,530.66 183.05,529.21 184.01,527.84 184.90,526.55 185.70,525.40 186.38,524.42 186.94,523.60 187.43,522.90 187.87,522.26 188.31,521.62 188.79,520.93 189.34,520.14 190.00,519.20 190.79,518.08 191.69,516.83 192.65,515.49 193.65,514.10 194.66,512.69 195.64,511.32 196.56,510.00 197.40,508.80 198.16,507.66 198.86,506.54 199.53,505.45 200.17,504.41 200.78,503.42 201.36,502.52 201.94,501.70 202.50,501.00 203.05,500.39 203.58,499.84 204.09,499.37 204.58,498.98 205.05,498.69 205.51,498.51 205.96,498.44 206.40,498.50 206.83,498.70 207.25,499.04 207.65,499.49 208.04,500.06 208.42,500.70 208.79,501.42 209.15,502.19 209.50,503.00 209.84,503.89 210.16,504.91 210.46,506.02 210.76,507.18 211.05,508.36 211.34,509.51 211.62,510.60 211.90,511.60 212.18,512.53 212.45,513.45 212.71,514.33 212.97,515.18 213.23,515.98 213.48,516.73 213.74,517.40 214.00,518.00 214.25,518.54 214.49,519.04 214.73,519.49 214.97,519.87 215.22,520.17 215.48,520.39 215.78,520.50 216.10,520.50 216.46,520.37 216.83,520.11 217.23,519.74 217.65,519.28 218.09,518.76 218.54,518.19 219.01,517.60 219.50,517.00 220.01,516.37 220.53,515.67 221.08,514.92 221.64,514.13 222.21,513.33 222.80,512.53 223.40,511.75 224.00,511.00 224.63,510.29 225.28,509.59 225.96,508.91 226.64,508.23 227.32,507.54 227.98,506.85 228.61,506.14 229.20,505.40 229.74,504.62 230.25,503.79 230.73,502.94 231.19,502.07 231.64,501.23 232.08,500.42 232.53,499.67 233.00,499.00 233.48,498.36 233.96,497.71 234.45,497.08 234.94,496.51 235.42,496.03 235.89,495.66 236.35,495.44 236.80,495.40 237.23,495.51 237.65,495.71 238.05,496.04 238.45,496.49 238.84,497.10 239.23,497.88 239.61,498.84 240.00,500.00 240.38,501.50 240.75,503.38 241.12,505.52 241.49,507.79 241.85,510.07 242.23,512.23 242.61,514.15 243.00,515.70 243.41,516.92 243.84,517.95 244.28,518.80 244.73,519.51 245.17,520.08 245.60,520.54 246.01,520.90 246.40,521.20 246.77,521.38 247.12,521.41 247.46,521.32 247.78,521.13 248.10,520.88 248.40,520.58 248.70,520.28 249.00,520.00 249.30,519.69 249.61,519.31 249.92,518.88 250.21,518.42 250.49,517.98 250.73,517.58 250.94,517.24 251.10,517.00" fill="none" stroke="#1a7f1a" stroke-width="1.55" stroke-linejoin="round"/>
<rect x="75.9" y="435.0" width="175.20" height="140.60" fill="none" stroke="#444" stroke-width="1.2"/>
<path d="M75.90,435.0v2.5 M75.90,575.6v-2.5 M93.42,435.0v2.5 M93.42,575.6v-2.5 M110.94,435.0v2.5 M110.94,575.6v-2.5 M128.46,435.0v2.5 M128.46,575.6v-2.5 M145.98,435.0v2.5 M145.98,575.6v-2.5 M163.50,435.0v2.5 M163.50,575.6v-2.5 M181.02,435.0v2.5 M181.02,575.6v-2.5 M198.54,435.0v2.5 M198.54,575.6v-2.5 M216.06,435.0v2.5 M216.06,575.6v-2.5 M233.58,435.0v2.5 M233.58,575.6v-2.5 M251.10,435.0v2.5 M251.10,575.6v-2.5 M75.9,435.00h2.5 M251.1,435.00h-2.5 M75.9,452.57h2.5 M251.1,452.57h-2.5 M75.9,470.15h2.5 M251.1,470.15h-2.5 M75.9,487.73h2.5 M251.1,487.73h-2.5 M75.9,505.30h2.5 M251.1,505.30h-2.5 M75.9,522.88h2.5 M251.1,522.88h-2.5 M75.9,540.45h2.5 M251.1,540.45h-2.5 M75.9,558.02h2.5 M251.1,558.02h-2.5 M75.9,575.60h2.5 M251.1,575.60h-2.5" stroke="#333" stroke-width="0.9"/>
<text x="73.2" y="438.9" font-family='"Liberation Serif", serif' font-size="10" fill="#000" font-weight="normal" font-style="normal" text-anchor="end" stroke="#000" stroke-width="0.12">200</text>
<text x="73.2" y="456.47499999999997" font-family='"Liberation Serif", serif' font-size="10" fill="#000" font-weight="normal" font-style="normal" text-anchor="end" stroke="#000" stroke-width="0.12">150</text>
<text x="73.2" y="474.04999999999995" font-family='"Liberation Serif", serif' font-size="10" fill="#000" font-weight="normal" font-style="normal" text-anchor="end" stroke="#000" stroke-width="0.12">100</text>
<text x="73.2" y="491.625" font-family='"Liberation Serif", serif' font-size="10" fill="#000" font-weight="normal" font-style="normal" text-anchor="end" stroke="#000" stroke-width="0.12">50</text>
<text x="73.2" y="509.2" font-family='"Liberation Serif", serif' font-size="10" fill="#000" font-weight="normal" font-style="normal" text-anchor="end" stroke="#000" stroke-width="0.12">0</text>
<text x="73.2" y="526.775" font-family='"Liberation Serif", serif' font-size="10" fill="#000" font-weight="normal" font-style="normal" text-anchor="end" stroke="#000" stroke-width="0.12">-50</text>
<text x="73.2" y="544.35" font-family='"Liberation Serif", serif' font-size="10" fill="#000" font-weight="normal" font-style="normal" text-anchor="end" stroke="#000" stroke-width="0.12">-100</text>
<text x="73.2" y="561.925" font-family='"Liberation Serif", serif' font-size="10" fill="#000" font-weight="normal" font-style="normal" text-anchor="end" stroke="#000" stroke-width="0.12">-150</text>
<text x="73.2" y="579.5" font-family='"Liberation Serif", serif' font-size="10" fill="#000" font-weight="normal" font-style="normal" text-anchor="end" stroke="#000" stroke-width="0.12">-200</text>
<text x="76.7" y="586.8" font-family='"Liberation Serif", serif' font-size="9.5" fill="#000" font-weight="normal" font-style="normal" text-anchor="middle" >0.8</text>
<text x="111.74" y="586.8" font-family='"Liberation Serif", serif' font-size="9.5" fill="#000" font-weight="normal" font-style="normal" text-anchor="middle" >0.9</text>
<text x="146.78000000000003" y="586.8" font-family='"Liberation Serif", serif' font-size="9.5" fill="#000" font-weight="normal" font-style="normal" text-anchor="middle" >1.0</text>
<text x="181.82" y="586.8" font-family='"Liberation Serif", serif' font-size="9.5" fill="#000" font-weight="normal" font-style="normal" text-anchor="middle" >1.1</text>
<text x="216.86" y="586.8" font-family='"Liberation Serif", serif' font-size="9.5" fill="#000" font-weight="normal" font-style="normal" text-anchor="middle" >1.2</text>
<text x="251.9" y="586.8" font-family='"Liberation Serif", serif' font-size="9.5" fill="#000" font-weight="normal" font-style="normal" text-anchor="middle" >1.3</text>
<text x="165.8" y="602.4" font-family='"Liberation Serif", serif' font-size="14" fill="#000" font-weight="normal" font-style="italic" text-anchor="middle" letter-spacing="0.4" stroke="#000" stroke-width="0.35">α (degree)</text>
<text transform="translate(48.5,508) rotate(-90)" font-family='"Liberation Serif", serif' font-size="13.5" font-style="italic" stroke="#000" stroke-width="0.45" text-anchor="middle" letter-spacing="0.5">Reflection phase</text>
<text x="80.8" y="486.3" font-family='"Liberation Serif", serif' font-size="8" font-weight="bold" fill="#e040e0">(WCW)<tspan font-size="5">10</tspan></text>
<text x="78.8" y="537" font-family='"Liberation Serif", serif' font-size="8" font-weight="bold" fill="#1a8a2a">(CWC)<tspan font-size="5">10</tspan></text>
<text x="284.5" y="418.5" font-family='"Liberation Serif", serif' font-size="22" fill="#000" font-weight="normal" font-style="normal" text-anchor="start" >(f)</text>
<rect x="311.5" y="433.0" width="101.50" height="140.00" fill="#1c10a0"/>
<rect x="413.00" y="433.0" width="101.50" height="140.00" fill="#36edb4"/>
<rect x="315.56" y="433.0" width="3.45" height="140.00" fill="#fff64a"/>
<rect x="416.35" y="433.0" width="3.45" height="140.00" fill="#fd90c4"/>
<rect x="325.71" y="433.0" width="3.45" height="140.00" fill="#fff64a"/>
<rect x="426.50" y="433.0" width="3.45" height="140.00" fill="#fd90c4"/>
<rect x="335.86" y="433.0" width="3.45" height="140.00" fill="#fff64a"/>
<rect x="436.65" y="433.0" width="3.45" height="140.00" fill="#fd90c4"/>
<rect x="346.01" y="433.0" width="3.45" height="140.00" fill="#fff64a"/>
<rect x="446.80" y="433.0" width="3.45" height="140.00" fill="#fd90c4"/>
<rect x="356.16" y="433.0" width="3.45" height="140.00" fill="#fff64a"/>
<rect x="456.95" y="433.0" width="3.45" height="140.00" fill="#fd90c4"/>
<rect x="366.31" y="433.0" width="3.45" height="140.00" fill="#fff64a"/>
<rect x="467.10" y="433.0" width="3.45" height="140.00" fill="#fd90c4"/>
<rect x="376.46" y="433.0" width="3.45" height="140.00" fill="#fff64a"/>
<rect x="477.25" y="433.0" width="3.45" height="140.00" fill="#fd90c4"/>
<rect x="386.61" y="433.0" width="3.45" height="140.00" fill="#fff64a"/>
<rect x="487.40" y="433.0" width="3.45" height="140.00" fill="#fd90c4"/>
<rect x="396.76" y="433.0" width="3.45" height="140.00" fill="#fff64a"/>
<rect x="497.55" y="433.0" width="3.45" height="140.00" fill="#fd90c4"/>
<rect x="406.91" y="433.0" width="3.45" height="140.00" fill="#fff64a"/>
<rect x="507.70" y="433.0" width="3.45" height="140.00" fill="#fd90c4"/>
<polyline points="311.64,508.62 311.89,504.67 312.14,500.93 312.39,497.42 312.64,494.15 312.88,491.15 313.13,488.43 313.38,486.01 313.63,483.91 313.88,482.12 314.13,480.66 314.38,479.54 314.63,478.76 314.87,478.33 315.12,478.23 315.37,478.48 315.62,479.07 315.87,479.98 316.12,481.22 316.37,482.77 316.62,484.61 316.86,486.74 317.11,489.14 317.36,491.78 317.61,494.65 317.86,497.72 318.11,500.99 318.36,504.41 318.61,507.96 318.85,511.62 319.10,515.37 319.35,519.17 319.60,523.00 319.60,523.00 319.86,520.31 320.11,517.64 320.37,515.00 320.63,512.42 320.88,509.89 321.14,507.45 321.39,505.11 321.65,502.87 321.91,500.76 322.16,498.79 322.42,496.97 322.68,495.31 322.93,493.82 323.19,492.51 323.45,491.39 323.70,490.46 323.96,489.73 324.22,489.20 324.47,488.88 324.73,488.77 324.98,488.86 325.24,489.16 325.50,489.67 325.75,490.37 326.01,491.27 326.27,492.35 326.52,493.62 326.78,495.05 327.04,496.65 327.29,498.40 327.55,500.28 327.81,502.29 328.06,504.41 328.32,506.62 328.57,508.92 328.83,511.28 329.09,513.69 329.34,516.14 329.60,518.60 329.60,518.60 329.87,516.92 330.15,515.24 330.42,513.59 330.70,511.97 330.97,510.39 331.25,508.86 331.52,507.39 331.79,505.99 332.07,504.67 332.34,503.44 332.62,502.30 332.89,501.26 333.17,500.33 333.44,499.51 333.72,498.81 333.99,498.23 334.26,497.77 334.54,497.45 334.81,497.25 335.09,497.18 335.36,497.25 335.64,497.44 335.91,497.76 336.18,498.21 336.46,498.77 336.73,499.46 337.01,500.26 337.28,501.16 337.56,502.17 337.83,503.27 338.11,504.46 338.38,505.72 338.65,507.06 338.93,508.45 339.20,509.90 339.48,511.39 339.75,512.91 340.03,514.45 340.30,516.00 340.30,516.00 340.61,514.97 340.92,513.96 341.23,512.95 341.54,511.97 341.85,511.01 342.16,510.08 342.47,509.20 342.78,508.35 343.09,507.56 343.40,506.83 343.71,506.16 344.02,505.55 344.33,505.01 344.64,504.54 344.95,504.15 345.26,503.84 345.57,503.61 345.88,503.46 346.19,503.40 346.51,503.42 346.82,503.53 347.13,503.71 347.44,503.99 347.75,504.34 348.06,504.77 348.37,505.28 348.68,505.86 348.99,506.50 349.30,507.22 349.61,507.99 349.92,508.83 350.23,509.71 350.54,510.64 350.85,511.60 351.16,512.60 351.47,513.63 351.78,514.67 352.09,515.73 352.40,516.80 352.40,516.80 352.69,515.38 352.97,513.96 353.26,512.57 353.55,511.21 353.84,509.88 354.12,508.61 354.41,507.39 354.70,506.24 354.98,505.17 355.27,504.17 355.56,503.27 355.85,502.47 356.13,501.76 356.42,501.17 356.71,500.69 356.99,500.32 357.28,500.07 357.57,499.95 357.86,499.95 358.14,500.08 358.43,500.33 358.72,500.70 359.01,501.20 359.29,501.82 359.58,502.55 359.87,503.40 360.15,504.35 360.44,505.41 360.73,506.56 361.02,507.80 361.30,509.13 361.59,510.53 361.88,512.00 362.16,513.53 362.45,515.10 362.74,516.72 363.03,518.36 363.31,520.03 363.60,521.70 363.60,521.70 363.85,519.35 364.11,517.02 364.36,514.72 364.62,512.47 364.87,510.29 365.12,508.18 365.38,506.16 365.63,504.25 365.88,502.47 366.14,500.81 366.39,499.30 366.65,497.94 366.90,496.75 367.15,495.73 367.41,494.89 367.66,494.24 367.92,493.78 368.17,493.52 368.42,493.46 368.68,493.59 368.93,493.93 369.18,494.46 369.44,495.19 369.69,496.12 369.95,497.23 370.20,498.52 370.45,499.98 370.71,501.61 370.96,503.39 371.22,505.32 371.47,507.38 371.72,509.56 371.98,511.85 372.23,514.23 372.48,516.69 372.74,519.21 372.99,521.78 373.25,524.38 373.50,527.00 373.50,527.00 373.77,523.55 374.04,520.13 374.31,516.75 374.58,513.45 374.85,510.23 375.12,507.13 375.38,504.17 375.65,501.36 375.92,498.73 376.19,496.29 376.46,494.06 376.73,492.06 377.00,490.30 377.27,488.79 377.54,487.54 377.81,486.57 378.08,485.87 378.35,485.47 378.62,485.35 378.88,485.52 379.15,485.99 379.42,486.75 379.69,487.79 379.96,489.11 380.23,490.70 380.50,492.56 380.77,494.67 381.04,497.02 381.31,499.60 381.58,502.39 381.85,505.37 382.12,508.53 382.38,511.84 382.65,515.29 382.92,518.85 383.19,522.51 383.46,526.23 383.73,530.00 384.00,533.80 384.00,533.80 384.26,529.07 384.52,524.38 384.78,519.75 385.05,515.21 385.31,510.79 385.57,506.53 385.83,502.45 386.09,498.58 386.35,494.95 386.62,491.57 386.88,488.48 387.14,485.69 387.40,483.23 387.66,481.10 387.92,479.33 388.18,477.92 388.45,476.89 388.71,476.24 388.97,475.98 389.23,476.12 389.49,476.64 389.75,477.55 390.02,478.85 390.28,480.53 390.54,482.56 390.80,484.96 391.06,487.69 391.32,490.75 391.58,494.11 391.85,497.75 392.11,501.65 392.37,505.78 392.63,510.13 392.89,514.66 393.15,519.34 393.42,524.15 393.68,529.04 393.94,534.01 394.20,539.00 394.20,539.00 394.45,532.98 394.70,527.01 394.95,521.11 395.21,515.33 395.46,509.70 395.71,504.27 395.96,499.07 396.21,494.14 396.46,489.50 396.71,485.18 396.96,481.23 397.22,477.65 397.47,474.49 397.72,471.75 397.97,469.45 398.22,467.62 398.47,466.26 398.72,465.39 398.97,465.01 399.23,465.12 399.48,465.72 399.73,466.81 399.98,468.39 400.23,470.44 400.48,472.96 400.73,475.92 400.98,479.31 401.24,483.10 401.49,487.28 401.74,491.81 401.99,496.67 402.24,501.83 402.49,507.25 402.74,512.90 402.99,518.74 403.25,524.75 403.50,530.86 403.75,537.06 404.00,543.30 404.00,543.30 404.26,536.15 404.53,529.04 404.79,522.02 405.06,515.15 405.32,508.47 405.58,502.01 405.85,495.83 406.11,489.96 406.38,484.45 406.64,479.32 406.91,474.62 407.17,470.38 407.43,466.62 407.70,463.37 407.96,460.65 408.23,458.48 408.49,456.87 408.75,455.85 409.02,455.40 409.28,455.55 409.55,456.28 409.81,457.59 410.07,459.48 410.34,461.94 410.60,464.95 410.87,468.48 411.13,472.53 411.39,477.06 411.66,482.05 411.92,487.46 412.19,493.26 412.45,499.42 412.72,505.89 412.98,512.63 413.24,519.60 413.51,526.76 413.77,534.06 414.04,541.46 414.30,548.90 414.30,548.90 414.57,541.41 414.84,533.97 415.12,526.62 415.39,519.42 415.66,512.41 415.93,505.64 416.20,499.15 416.47,492.99 416.75,487.19 417.02,481.79 417.29,476.82 417.56,472.33 417.83,468.34 418.11,464.87 418.38,461.95 418.65,459.59 418.92,457.82 419.19,456.64 419.46,456.06 419.74,456.09 420.01,456.72 420.28,457.96 420.55,459.79 420.82,462.20 421.09,465.18 421.37,468.70 421.64,472.75 421.91,477.30 422.18,482.32 422.45,487.78 422.73,493.63 423.00,499.86 423.27,506.40 423.54,513.23 423.81,520.29 424.08,527.55 424.36,534.95 424.63,542.45 424.90,550.00 424.90,550.00 425.15,543.51 425.40,537.05 425.65,530.69 425.89,524.44 426.14,518.36 426.39,512.49 426.64,506.86 426.89,501.50 427.14,496.46 427.39,491.77 427.64,487.45 427.88,483.53 428.13,480.05 428.38,477.01 428.63,474.45 428.88,472.37 429.13,470.79 429.38,469.73 429.63,469.18 429.87,469.15 430.12,469.64 430.37,470.65 430.62,472.17 430.87,474.19 431.12,476.70 431.37,479.68 431.62,483.11 431.86,486.97 432.11,491.23 432.36,495.87 432.61,500.86 432.86,506.15 433.11,511.73 433.36,517.55 433.61,523.57 433.85,529.76 434.10,536.07 434.35,542.46 434.60,548.90 434.60,548.90 434.87,543.25 435.14,537.64 435.42,532.10 435.69,526.67 435.96,521.38 436.23,516.27 436.50,511.37 436.77,506.71 437.05,502.33 437.32,498.24 437.59,494.48 437.86,491.08 438.13,488.04 438.41,485.40 438.68,483.17 438.95,481.36 439.22,479.98 439.49,479.05 439.76,478.57 440.04,478.54 440.31,478.97 440.58,479.84 440.85,481.16 441.12,482.91 441.39,485.09 441.67,487.67 441.94,490.65 442.21,494.00 442.48,497.71 442.75,501.73 443.03,506.06 443.30,510.66 443.57,515.51 443.84,520.56 444.11,525.79 444.38,531.17 444.66,536.65 444.93,542.21 445.20,547.80 445.20,547.80 445.46,543.07 445.72,538.37 445.98,533.73 446.24,529.18 446.49,524.75 446.75,520.47 447.01,516.36 447.27,512.46 447.53,508.79 447.79,505.36 448.05,502.21 448.31,499.36 448.57,496.81 448.83,494.60 449.08,492.73 449.34,491.21 449.60,490.05 449.86,489.27 450.12,488.86 450.38,488.83 450.64,489.18 450.90,489.91 451.16,491.01 451.42,492.47 451.67,494.29 451.93,496.45 452.19,498.94 452.45,501.73 452.71,504.83 452.97,508.19 453.23,511.81 453.49,515.66 453.75,519.71 454.01,523.93 454.26,528.30 454.52,532.80 454.78,537.38 455.04,542.02 455.30,546.70 455.30,546.70 455.56,542.82 455.82,538.97 456.08,535.16 456.34,531.43 456.59,527.80 456.85,524.29 457.11,520.92 457.37,517.72 457.63,514.70 457.89,511.89 458.15,509.30 458.41,506.95 458.67,504.86 458.93,503.03 459.18,501.48 459.44,500.23 459.70,499.27 459.96,498.61 460.22,498.26 460.48,498.22 460.74,498.49 461.00,499.06 461.26,499.94 461.52,501.12 461.77,502.58 462.03,504.32 462.29,506.34 462.55,508.60 462.81,511.11 463.07,513.84 463.33,516.77 463.59,519.89 463.85,523.18 464.11,526.61 464.36,530.16 464.62,533.81 464.88,537.53 465.14,541.30 465.40,545.10 465.40,545.10 465.65,541.98 465.90,538.88 466.15,535.81 466.39,532.81 466.64,529.89 466.89,527.06 467.14,524.35 467.39,521.78 467.64,519.35 467.89,517.09 468.14,515.01 468.38,513.12 468.63,511.43 468.88,509.97 469.13,508.73 469.38,507.72 469.63,506.95 469.88,506.42 470.13,506.15 470.37,506.12 470.62,506.34 470.87,506.81 471.12,507.52 471.37,508.47 471.62,509.66 471.87,511.07 472.12,512.69 472.36,514.53 472.61,516.55 472.86,518.76 473.11,521.13 473.36,523.65 473.61,526.30 473.86,529.07 474.11,531.94 474.35,534.88 474.60,537.89 474.85,540.93 475.10,544.00 475.10,544.00 475.37,541.66 475.64,539.33 475.92,537.04 476.19,534.79 476.46,532.60 476.73,530.48 477.00,528.45 477.27,526.51 477.55,524.69 477.82,522.99 478.09,521.43 478.36,520.01 478.63,518.75 478.91,517.64 479.18,516.70 479.45,515.94 479.72,515.36 479.99,514.96 480.26,514.74 480.54,514.71 480.81,514.86 481.08,515.20 481.35,515.73 481.62,516.43 481.89,517.30 482.17,518.35 482.44,519.55 482.71,520.91 482.98,522.41 483.25,524.05 483.53,525.80 483.80,527.68 484.07,529.65 484.34,531.70 484.61,533.83 484.88,536.02 485.16,538.26 485.43,540.52 485.70,542.80 485.70,542.80 485.96,541.12 486.22,539.46 486.48,537.81 486.74,536.19 486.99,534.61 487.25,533.09 487.51,531.61 487.77,530.21 488.03,528.88 488.29,527.63 488.55,526.47 488.81,525.41 489.07,524.45 489.33,523.60 489.58,522.86 489.84,522.23 490.10,521.73 490.36,521.34 490.62,521.08 490.88,520.95 491.14,520.94 491.40,521.05 491.66,521.28 491.92,521.63 492.17,522.10 492.43,522.68 492.69,523.37 492.95,524.16 493.21,525.05 493.47,526.02 493.73,527.08 493.99,528.22 494.25,529.42 494.51,530.67 494.76,531.98 495.02,533.32 495.28,534.70 495.54,536.09 495.80,537.50 495.80,537.50 496.06,536.68 496.32,535.86 496.58,535.05 496.84,534.26 497.09,533.49 497.35,532.75 497.61,532.04 497.87,531.37 498.13,530.74 498.39,530.15 498.65,529.62 498.91,529.14 499.17,528.71 499.43,528.34 499.68,528.04 499.94,527.80 500.20,527.63 500.46,527.53 500.72,527.49 500.98,527.53 501.24,527.63 501.50,527.80 501.76,528.04 502.02,528.34 502.27,528.71 502.53,529.14 502.79,529.64 503.05,530.18 503.31,530.79 503.57,531.44 503.83,532.14 504.09,532.87 504.35,533.65 504.61,534.46 504.86,535.29 505.12,536.15 505.38,537.02 505.64,537.91 505.90,538.80 505.90,538.80 506.25,538.12 506.60,537.45 506.95,536.79 507.29,536.14 507.64,535.52 507.99,534.92 508.34,534.35 508.69,533.82 509.04,533.33 509.39,532.89 509.74,532.49 510.08,532.15 510.43,531.86 510.78,531.63 511.13,531.46 511.48,531.35 511.83,531.31 512.18,531.34 512.53,531.43 512.87,531.59 513.22,531.81 513.57,532.11 513.92,532.47 514.27,532.89" fill="none" stroke="#e8261e" stroke-width="1.5" stroke-linejoin="round"/>
<rect x="311.5" y="433.0" width="203.00" height="140.00" fill="none" stroke="#777" stroke-width="0.8"/>
<text x="308.5" y="436.5" font-family='"Liberation Serif", serif' font-size="10" fill="#000" font-weight="normal" font-style="normal" text-anchor="end" stroke="#000" stroke-width="0.15">2.0</text>
<text x="308.5" y="464.5" font-family='"Liberation Serif", serif' font-size="10" fill="#000" font-weight="normal" font-style="normal" text-anchor="end" stroke="#000" stroke-width="0.15">1.6</text>
<text x="308.5" y="492.5" font-family='"Liberation Serif", serif' font-size="10" fill="#000" font-weight="normal" font-style="normal" text-anchor="end" stroke="#000" stroke-width="0.15">1.2</text>
<text x="308.5" y="520.5" font-family='"Liberation Serif", serif' font-size="10" fill="#000" font-weight="normal" font-style="normal" text-anchor="end" stroke="#000" stroke-width="0.15">0.8</text>
<text x="308.5" y="548.5" font-family='"Liberation Serif", serif' font-size="10" fill="#000" font-weight="normal" font-style="normal" text-anchor="end" stroke="#000" stroke-width="0.15">0.4</text>
<text x="308.5" y="576.5" font-family='"Liberation Serif", serif' font-size="10" fill="#000" font-weight="normal" font-style="normal" text-anchor="end" stroke="#000" stroke-width="0.15">0.0</text>
<text x="311.5" y="583.5" font-family='"Liberation Serif", serif' font-size="10" fill="#000" font-weight="normal" font-style="normal" text-anchor="middle" stroke="#000" stroke-width="0.15">0.0</text>
<text x="334.05555555555554" y="583.5" font-family='"Liberation Serif", serif' font-size="10" fill="#000" font-weight="normal" font-style="normal" text-anchor="middle" stroke="#000" stroke-width="0.15">10</text>
<text x="356.6111111111111" y="583.5" font-family='"Liberation Serif", serif' font-size="10" fill="#000" font-weight="normal" font-style="normal" text-anchor="middle" stroke="#000" stroke-width="0.15">20</text>
<text x="379.1666666666667" y="583.5" font-family='"Liberation Serif", serif' font-size="10" fill="#000" font-weight="normal" font-style="normal" text-anchor="middle" stroke="#000" stroke-width="0.15">30</text>
<text x="401.72222222222223" y="583.5" font-family='"Liberation Serif", serif' font-size="10" fill="#000" font-weight="normal" font-style="normal" text-anchor="middle" stroke="#000" stroke-width="0.15">40</text>
<text x="424.27777777777777" y="583.5" font-family='"Liberation Serif", serif' font-size="10" fill="#000" font-weight="normal" font-style="normal" text-anchor="middle" stroke="#000" stroke-width="0.15">50</text>
<text x="446.83333333333337" y="583.5" font-family='"Liberation Serif", serif' font-size="10" fill="#000" font-weight="normal" font-style="normal" text-anchor="middle" stroke="#000" stroke-width="0.15">60</text>
<text x="469.3888888888889" y="583.5" font-family='"Liberation Serif", serif' font-size="10" fill="#000" font-weight="normal" font-style="normal" text-anchor="middle" stroke="#000" stroke-width="0.15">70</text>
<text x="491.94444444444446" y="583.5" font-family='"Liberation Serif", serif' font-size="10" fill="#000" font-weight="normal" font-style="normal" text-anchor="middle" stroke="#000" stroke-width="0.15">80</text>
<text x="514.5" y="583.5" font-family='"Liberation Serif", serif' font-size="10" fill="#000" font-weight="normal" font-style="normal" text-anchor="middle" stroke="#000" stroke-width="0.15">90</text>
<text x="395.6" y="598" font-family='"Liberation Serif", serif' font-size="15" font-style="italic" letter-spacing="0">x (nm)</text>
<text transform="translate(292.3,505.3) rotate(-90)" font-family='"Liberation Serif", serif' font-size="15.5" font-style="italic" text-anchor="middle" letter-spacing="1.5">|E| (V/m)</text>
</svg></body></html>
